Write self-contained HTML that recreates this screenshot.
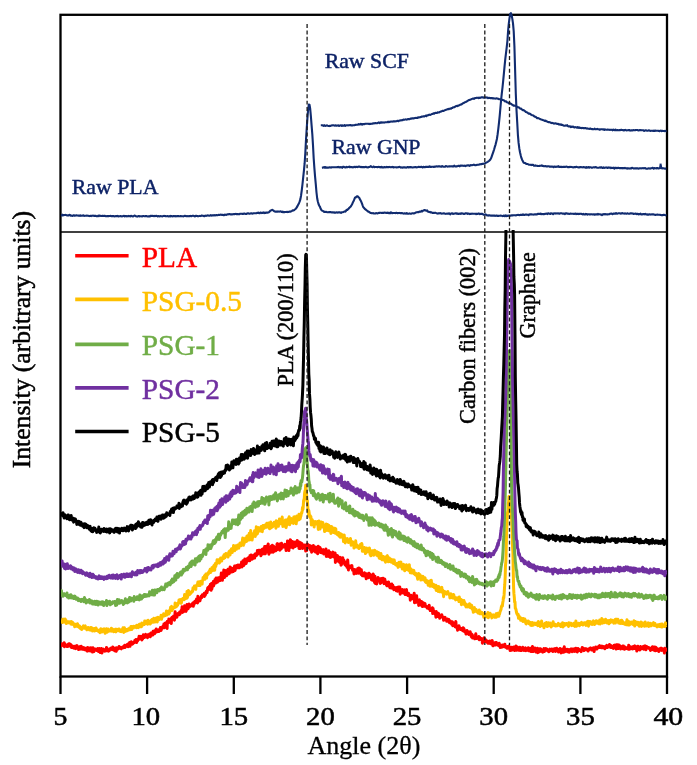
<!DOCTYPE html>
<html><head><meta charset="utf-8"><style>
html,body{margin:0;padding:0;background:#fff;width:697px;height:765px;overflow:hidden}
svg{display:block}
text{font-family:"Liberation Serif",serif}
svg{-webkit-font-smoothing:antialiased;will-change:transform}
</style></head><body>
<svg width="697" height="765" viewBox="0 0 697 765">
<rect x="0" y="0" width="697" height="765" fill="#fff"/>
<defs><clipPath id="bot"><rect x="61" y="230" width="606" height="446"/></clipPath></defs>
<line x1="60.5" y1="232" x2="667" y2="232" stroke="#000" stroke-width="1.6"/>
<rect x="60.5" y="14.8" width="606.5" height="661.7" fill="none" stroke="#000" stroke-width="2.3"/>
<g stroke="#112c70" stroke-width="2.1" fill="none" stroke-linejoin="round">
<path d="M61.0 215.1L61.7 215.4 62.4 214.7 63.1 215.4 63.8 215.1 64.5 215.0 65.2 215.0 65.9 214.9 66.6 215.2 67.3 215.4 68.0 215.4 68.7 215.4 69.4 214.9 70.1 215.0 70.8 215.7 71.5 215.6 72.2 215.9 72.9 215.7 73.6 215.2 74.3 215.7 75.0 215.6 75.7 215.5 76.4 215.3 77.1 215.5 77.8 215.5 78.5 215.8 79.2 215.6 79.9 215.9 80.6 215.4 81.3 215.7 82.0 215.8 82.7 215.5 83.4 215.4 84.1 215.9 84.8 215.8 85.5 215.7 86.2 215.8 86.9 215.6 87.6 215.8 88.3 215.7 89.0 215.9 89.7 216.1 90.4 215.8 91.1 216.1 91.8 215.7 92.5 215.8 93.2 215.6 93.9 215.9 94.6 215.9 95.3 215.9 96.0 215.9 96.7 216.3 97.4 216.3 98.1 215.7 98.8 216.2 99.5 215.6 100.2 215.8 100.9 216.0 101.6 216.0 102.3 215.8 103.0 215.9 103.7 216.0 104.4 215.9 105.1 215.9 105.8 216.2 106.5 216.3 107.2 216.0 107.9 216.1 108.6 216.1 109.3 216.0 110.0 216.0 110.7 215.9 111.4 216.2 112.1 216.1 112.8 216.1 113.5 216.1 114.2 216.2 114.9 216.4 115.6 216.1 116.3 216.0 117.0 216.2 117.7 215.9 118.4 216.4 119.1 216.3 119.8 216.3 120.5 216.1 121.2 216.3 121.9 216.4 122.6 216.3 123.3 216.1 124.0 215.8 124.7 216.4 125.4 216.1 126.1 216.0 126.8 216.4 127.5 216.3 128.2 215.9 128.9 216.2 129.6 216.1 130.3 216.4 131.0 215.8 131.7 216.1 132.4 216.2 133.1 216.5 133.8 216.0 134.5 215.5 135.2 215.9 135.9 216.3 136.6 216.4 137.3 216.6 138.0 216.3 138.7 216.0 139.4 216.4 140.1 216.2 140.8 216.2 141.5 216.2 142.2 216.5 142.9 216.0 143.6 216.0 144.3 216.2 145.0 216.2 145.7 216.0 146.4 216.0 147.1 216.3 147.8 216.5 148.5 216.4 149.2 216.4 149.9 216.5 150.6 215.8 151.3 215.9 152.0 216.0 152.7 215.9 153.4 216.0 154.1 216.2 154.8 215.9 155.5 216.1 156.2 215.8 156.9 216.0 157.6 216.5 158.3 216.1 159.0 216.3 159.7 216.4 160.4 216.1 161.1 216.3 161.8 216.2 162.5 216.4 163.2 216.1 163.9 215.9 164.6 216.0 165.3 216.1 166.0 216.3 166.7 216.2 167.4 216.1 168.1 216.2 168.8 216.4 169.5 216.1 170.2 216.5 170.9 215.9 171.6 216.1 172.3 216.4 173.0 216.3 173.7 216.0 174.4 216.2 175.1 216.0 175.8 216.4 176.5 216.3 177.2 216.0 177.9 216.3 178.6 216.1 179.3 216.2 180.0 216.2 180.7 216.0 181.4 216.3 182.1 216.3 182.8 216.3 183.5 216.4 184.2 216.1 184.9 215.8 185.6 216.0 186.3 216.2 187.0 216.1 187.7 216.3 188.4 216.3 189.1 216.1 189.8 216.1 190.5 215.9 191.2 216.3 191.9 216.0 192.6 215.8 193.3 215.8 194.0 216.0 194.7 216.4 195.4 216.2 196.1 215.7 196.8 216.0 197.5 216.1 198.2 216.2 198.9 216.1 199.6 215.9 200.3 216.1 201.0 215.9 201.7 215.5 202.4 215.8 203.1 215.8 203.8 216.1 204.5 216.1 205.2 215.6 205.9 215.9 206.6 215.8 207.3 215.5 208.0 215.3 208.7 215.7 209.4 215.7 210.1 215.5 210.8 215.0 211.5 215.6 212.2 215.4 212.9 215.3 213.6 215.4 214.3 215.1 215.0 215.5 215.7 215.3 216.4 215.1 217.1 215.3 217.8 215.2 218.5 214.8 219.2 215.0 219.9 214.9 220.6 214.6 221.3 214.8 222.0 215.0 222.7 214.7 223.4 215.1 224.1 215.1 224.8 214.6 225.5 214.8 226.2 215.0 226.9 214.5 227.6 214.3 228.3 214.4 229.0 214.1 229.7 214.1 230.4 214.4 231.1 214.3 231.8 214.4 232.5 214.4 233.2 214.1 233.9 214.2 234.6 214.1 235.3 214.0 236.0 213.9 236.7 214.2 237.4 214.0 238.1 214.1 238.8 214.2 239.5 214.2 240.2 213.7 240.9 213.7 241.6 213.8 242.3 213.9 243.0 214.0 243.7 213.6 244.4 213.6 245.1 213.8 245.8 214.0 246.5 214.0 247.2 213.4 247.9 213.5 248.6 213.4 249.3 213.7 250.0 213.6 250.7 213.4 251.4 213.3 252.1 213.5 252.8 213.6 253.5 213.2 254.2 213.2 254.9 213.3 255.6 213.2 256.3 213.3 257.0 212.9 257.7 213.0 258.4 212.6 259.1 213.1 259.8 213.2 260.5 212.5 261.2 212.8 261.9 213.1 262.6 212.9 263.3 212.4 264.0 213.1 264.7 212.5 265.4 213.0 266.1 212.6 266.8 212.5 267.5 212.6 268.2 212.5 268.9 212.2 269.6 211.6 270.3 210.8 271.0 210.5 271.7 210.0 272.4 209.9 273.1 210.3 273.8 210.9 274.5 211.4 275.2 211.6 275.9 211.6 276.6 211.5 277.3 211.7 278.0 211.4 278.7 211.6 279.4 211.7 280.1 211.3 280.8 211.5 281.5 212.0 282.2 211.6 282.9 212.2 283.6 211.8 284.3 212.3 285.0 212.0 285.7 212.0 286.4 212.0 287.1 211.8 287.8 212.1 288.5 211.9 289.2 211.8 289.9 211.5 290.6 211.6 291.3 211.3 292.0 210.9 292.7 210.4 293.4 210.5 294.1 210.1 294.8 209.5 295.5 209.0 296.2 208.3 296.9 207.1 297.6 205.9 298.3 204.5 299.0 203.2 299.7 201.4 300.4 199.1 301.1 195.2 301.8 190.0 302.5 184.0 303.2 177.4 303.9 170.9 304.6 163.7 305.3 153.2 306.0 139.9 306.7 128.8 307.4 118.4 308.1 109.9 308.8 104.6 309.5 104.8 310.2 108.8 310.9 116.5 311.6 125.4 312.3 134.0 313.0 145.3 313.7 158.5 314.4 168.4 315.1 176.9 315.8 184.4 316.5 192.5 317.2 198.5 317.9 201.8 318.6 204.2 319.3 205.7 320.0 206.9 320.7 208.8 321.4 210.0 322.1 210.6 322.8 210.9 323.5 211.3 324.2 212.0 324.9 211.9 325.6 212.0 326.3 211.8 327.0 212.2 327.7 212.3 328.4 212.3 329.1 212.1 329.8 212.3 330.5 212.0 331.2 212.2 331.9 212.4 332.6 212.2 333.3 212.3 334.0 212.7 334.7 212.4 335.4 212.7 336.1 212.5 336.8 212.3 337.5 212.6 338.2 212.5 338.9 212.2 339.6 212.3 340.3 212.5 341.0 212.9 341.7 212.3 342.4 212.2 343.1 212.2 343.8 211.8 344.5 211.4 345.2 211.6 345.9 211.1 346.6 209.8 347.3 209.9 348.0 209.2 348.7 208.7 349.4 207.7 350.1 207.1 350.8 206.4 351.5 205.3 352.2 204.0 352.9 202.4 353.6 201.0 354.3 199.4 355.0 197.5 355.7 197.5 356.4 196.6 357.1 196.3 357.8 196.3 358.5 197.3 359.2 197.7 359.9 199.3 360.6 200.3 361.3 201.9 362.0 203.7 362.7 205.6 363.4 207.3 364.1 208.0 364.8 208.9 365.5 209.5 366.2 209.9 366.9 210.6 367.6 211.0 368.3 211.7 369.0 211.7 369.7 212.4 370.4 212.9 371.1 213.1 371.8 213.3 372.5 213.3 373.2 213.1 373.9 213.5 374.6 213.5 375.3 213.5 376.0 213.1 376.7 213.3 377.4 213.4 378.1 213.2 378.8 212.8 379.5 212.9 380.2 212.8 380.9 212.8 381.6 213.0 382.3 212.9 383.0 212.8 383.7 212.9 384.4 212.6 385.1 212.6 385.8 212.9 386.5 212.7 387.2 213.0 387.9 212.5 388.6 213.1 389.3 212.9 390.0 213.3 390.7 212.4 391.4 212.5 392.1 213.2 392.8 213.0 393.5 213.0 394.2 213.0 394.9 213.0 395.6 213.1 396.3 212.8 397.0 213.0 397.7 213.3 398.4 213.1 399.1 212.9 399.8 213.1 400.5 213.3 401.2 213.1 401.9 213.1 402.6 213.3 403.3 213.5 404.0 213.6 404.7 213.3 405.4 213.5 406.1 213.7 406.8 213.1 407.5 213.6 408.2 213.7 408.9 213.6 409.6 213.4 410.3 213.7 411.0 213.8 411.7 213.5 412.4 213.3 413.1 213.3 413.8 213.5 414.5 213.3 415.2 212.9 415.9 212.5 416.6 212.3 417.3 212.3 418.0 212.1 418.7 212.1 419.4 211.6 420.1 211.7 420.8 211.6 421.5 210.9 422.2 211.5 422.9 210.8 423.6 210.6 424.3 210.1 425.0 210.1 425.7 210.6 426.4 210.8 427.1 210.4 427.8 211.6 428.5 211.8 429.2 212.1 429.9 211.9 430.6 212.4 431.3 212.3 432.0 212.6 432.7 213.0 433.4 212.9 434.1 213.0 434.8 212.8 435.5 212.8 436.2 213.1 436.9 213.4 437.6 213.6 438.3 213.3 439.0 213.4 439.7 213.3 440.4 213.1 441.1 213.5 441.8 213.6 442.5 213.5 443.2 213.5 443.9 213.2 444.6 213.6 445.3 213.9 446.0 213.6 446.7 213.7 447.4 213.7 448.1 213.4 448.8 213.7 449.5 213.4 450.2 214.3 450.9 213.7 451.6 213.4 452.3 213.3 453.0 213.9 453.7 213.7 454.4 213.7 455.1 213.3 455.8 213.5 456.5 213.3 457.2 213.9 457.9 213.5 458.6 214.0 459.3 213.7 460.0 213.5 460.7 213.9 461.4 213.2 462.1 213.4 462.8 213.5 463.5 213.9 464.2 213.9 464.9 213.7 465.6 213.2 466.3 213.5 467.0 213.4 467.7 213.9 468.4 213.6 469.1 213.8 469.8 214.1 470.5 213.7 471.2 213.9 471.9 213.6 472.6 213.7 473.3 213.8 474.0 213.8 474.7 213.8 475.4 213.7 476.1 214.2 476.8 213.7 477.5 213.9 478.2 213.8 478.9 213.4 479.6 214.1 480.3 214.0 481.0 213.7 481.7 213.9 482.4 213.8 483.1 214.3 483.8 214.8 484.5 214.8 485.2 214.4 485.9 214.5 486.6 215.1 487.3 215.5 488.0 215.3 488.7 215.6 489.4 215.2 490.1 215.5 490.8 215.6 491.5 215.5 492.2 215.6 492.9 215.8 493.6 215.5 494.3 215.5 495.0 215.9 495.7 215.8 496.4 215.5 497.1 215.9 497.8 215.7 498.5 215.9 499.2 215.8 499.9 215.7 500.6 215.6 501.3 215.8 502.0 215.8 502.7 216.2 503.4 215.8 504.1 215.5 504.8 216.2 505.5 215.3 506.2 216.1 506.9 215.5 507.6 216.0 508.3 215.6 509.0 215.7 509.7 215.6 510.4 215.5 511.1 215.6 511.8 215.3 512.5 215.5 513.2 215.2 513.9 215.2 514.6 215.2 515.3 215.3 516.0 215.5 516.7 215.0 517.4 215.0 518.1 214.9 518.8 215.0 519.5 215.2 520.2 214.8 520.9 214.9 521.6 214.8 522.3 214.9 523.0 214.4 523.7 214.9 524.4 215.0 525.1 214.5 525.8 214.7 526.5 214.5 527.2 214.8 527.9 214.7 528.6 215.2 529.3 214.5 530.0 214.3 530.7 214.4 531.4 214.2 532.1 214.5 532.8 214.5 533.5 214.6 534.2 214.4 534.9 214.2 535.6 214.5 536.3 214.3 537.0 214.4 537.7 213.9 538.4 213.9 539.1 213.9 539.8 214.0 540.5 213.5 541.2 214.2 541.9 213.9 542.6 214.1 543.3 214.1 544.0 214.2 544.7 213.9 545.4 213.9 546.1 213.6 546.8 213.8 547.5 214.1 548.2 213.3 548.9 213.5 549.6 213.7 550.3 214.0 551.0 213.3 551.7 213.5 552.4 213.6 553.1 214.2 553.8 213.3 554.5 213.4 555.2 213.6 555.9 213.3 556.6 213.5 557.3 213.5 558.0 213.3 558.7 213.5 559.4 213.8 560.1 213.4 560.8 213.3 561.5 213.3 562.2 213.5 562.9 213.7 563.6 213.5 564.3 213.5 565.0 214.1 565.7 213.3 566.4 213.3 567.1 213.6 567.8 213.5 568.5 213.7 569.2 213.9 569.9 213.7 570.6 213.6 571.3 213.8 572.0 213.8 572.7 213.7 573.4 213.7 574.1 214.0 574.8 213.8 575.5 213.6 576.2 214.1 576.9 213.8 577.6 213.8 578.3 214.1 579.0 213.8 579.7 214.0 580.4 213.8 581.1 213.7 581.8 214.1 582.5 214.4 583.2 213.9 583.9 214.4 584.6 214.4 585.3 214.5 586.0 213.9 586.7 214.1 587.4 214.6 588.1 214.2 588.8 214.2 589.5 214.4 590.2 214.4 590.9 214.2 591.6 214.3 592.3 214.5 593.0 214.4 593.7 214.2 594.4 214.7 595.1 214.6 595.8 214.3 596.5 214.3 597.2 214.6 597.9 213.9 598.6 214.4 599.3 214.3 600.0 214.3 600.7 214.6 601.4 214.5 602.1 215.1 602.8 214.3 603.5 214.4 604.2 214.0 604.9 214.5 605.6 214.1 606.3 214.2 607.0 214.4 607.7 214.4 608.4 214.2 609.1 214.3 609.8 213.8 610.5 213.7 611.2 213.5 611.9 213.9 612.6 214.2 613.3 213.6 614.0 213.6 614.7 213.5 615.4 213.7 616.1 213.1 616.8 213.7 617.5 213.7 618.2 213.3 618.9 213.2 619.6 213.2 620.3 213.5 621.0 213.7 621.7 213.2 622.4 213.1 623.1 213.5 623.8 213.5 624.5 213.6 625.2 213.3 625.9 213.7 626.6 213.8 627.3 213.2 628.0 213.5 628.7 213.7 629.4 213.8 630.1 213.5 630.8 213.2 631.5 213.5 632.2 213.4 632.9 213.6 633.6 214.0 634.3 213.7 635.0 213.8 635.7 213.6 636.4 214.1 637.1 213.8 637.8 213.7 638.5 214.4 639.2 214.1 639.9 214.2 640.6 213.6 641.3 214.4 642.0 214.5 642.7 214.1 643.4 214.1 644.1 214.0 644.8 214.4 645.5 213.9 646.2 214.3 646.9 214.7 647.6 214.3 648.3 214.8 649.0 214.4 649.7 214.3 650.4 214.6 651.1 214.4 651.8 214.5 652.5 214.4 653.2 214.3 653.9 214.5 654.6 214.8 655.3 214.9 656.0 214.7 656.7 214.8 657.4 214.5 658.1 214.7 658.8 214.8 659.5 214.8 660.2 214.9 660.9 215.0 661.6 215.2 662.3 215.1 663.0 215.1 663.7 214.8 664.4 214.9 665.1 215.1 665.8 215.2 666.5 215.4"/>
<path d="M320.8 125.3L321.5 125.3 322.2 125.3 322.9 125.5 323.6 125.9 324.3 125.2 325.0 125.8 325.7 125.9 326.4 125.5 327.1 125.4 327.8 125.7 328.5 125.9 329.2 126.1 329.9 125.8 330.6 126.0 331.3 125.5 332.0 125.4 332.7 125.2 333.4 125.3 334.1 125.5 334.8 125.6 335.5 125.3 336.2 125.8 336.9 125.6 337.6 125.5 338.3 125.4 339.0 126.0 339.7 125.6 340.4 125.4 341.1 125.4 341.8 126.0 342.5 125.4 343.2 125.8 343.9 125.8 344.6 125.0 345.3 125.8 346.0 125.4 346.7 125.2 347.4 125.2 348.1 125.4 348.8 125.3 349.5 125.3 350.2 125.0 350.9 125.4 351.6 125.4 352.3 125.4 353.0 125.2 353.7 125.3 354.4 125.3 355.1 124.9 355.8 124.9 356.5 124.8 357.2 124.7 357.9 124.7 358.6 124.1 359.3 124.4 360.0 124.5 360.7 123.9 361.4 124.0 362.1 124.6 362.8 124.0 363.5 124.1 364.2 124.2 364.9 123.9 365.6 123.8 366.3 123.8 367.0 123.8 367.7 123.7 368.4 123.8 369.1 124.1 369.8 123.8 370.5 124.0 371.2 123.7 371.9 123.7 372.6 123.6 373.3 123.3 374.0 123.4 374.7 123.3 375.4 123.0 376.1 123.3 376.8 123.2 377.5 123.1 378.2 122.8 378.9 122.3 379.6 123.2 380.3 122.8 381.0 122.2 381.7 122.8 382.4 122.4 383.1 122.6 383.8 122.4 384.5 122.6 385.2 122.3 385.9 122.3 386.6 122.2 387.3 122.3 388.0 121.7 388.7 122.2 389.4 122.0 390.1 121.6 390.8 121.7 391.5 121.5 392.2 121.5 392.9 121.6 393.6 121.2 394.3 121.4 395.0 121.4 395.7 121.2 396.4 121.3 397.1 120.9 397.8 120.9 398.5 121.2 399.2 120.6 399.9 120.5 400.6 120.4 401.3 120.4 402.0 120.1 402.7 120.1 403.4 119.6 404.1 119.7 404.8 119.6 405.5 119.4 406.2 119.5 406.9 119.6 407.6 119.3 408.3 119.0 409.0 119.2 409.7 119.1 410.4 118.6 411.1 118.8 411.8 118.4 412.5 118.4 413.2 118.3 413.9 118.5 414.6 118.0 415.3 118.0 416.0 117.9 416.7 118.0 417.4 117.9 418.1 117.3 418.8 117.6 419.5 117.3 420.2 117.3 420.9 117.1 421.6 116.6 422.3 116.6 423.0 116.4 423.7 116.4 424.4 116.5 425.1 116.0 425.8 115.6 426.5 116.2 427.2 115.2 427.9 115.2 428.6 115.1 429.3 114.6 430.0 114.9 430.7 114.7 431.4 114.3 432.1 114.1 432.8 113.9 433.5 113.3 434.2 113.6 434.9 113.0 435.6 112.9 436.3 113.0 437.0 112.9 437.7 112.3 438.4 112.5 439.1 112.5 439.8 111.9 440.5 111.6 441.2 111.5 441.9 111.1 442.6 110.8 443.3 110.9 444.0 110.7 444.7 110.3 445.4 110.1 446.1 109.8 446.8 109.6 447.5 109.3 448.2 108.9 448.9 109.2 449.6 108.7 450.3 108.6 451.0 108.7 451.7 108.0 452.4 108.0 453.1 107.3 453.8 107.2 454.5 107.2 455.2 106.7 455.9 106.2 456.6 105.9 457.3 106.1 458.0 105.5 458.7 105.6 459.4 105.2 460.1 104.8 460.8 104.5 461.5 104.4 462.2 103.8 462.9 103.3 463.6 103.1 464.3 102.6 465.0 102.2 465.7 102.0 466.4 101.6 467.1 101.3 467.8 100.7 468.5 100.3 469.2 100.0 469.9 99.9 470.6 99.4 471.3 99.2 472.0 98.9 472.7 98.6 473.4 98.5 474.1 98.9 474.8 98.1 475.5 98.1 476.2 97.9 476.9 97.8 477.6 97.8 478.3 98.1 479.0 97.6 479.7 98.0 480.4 97.7 481.1 97.4 481.8 97.4 482.5 97.4 483.2 97.3 483.9 97.8 484.6 97.6 485.3 97.6 486.0 97.3 486.7 97.7 487.4 97.5 488.1 98.2 488.8 97.8 489.5 97.9 490.2 98.1 490.9 98.0 491.6 98.1 492.3 98.1 493.0 98.5 493.7 98.2 494.4 98.4 495.1 98.6 495.8 98.5 496.5 98.4 497.2 98.5 497.9 98.8 498.6 98.8 499.3 99.3 500.0 99.2 500.7 99.3 501.4 99.3 502.1 99.9 502.8 100.0 503.5 100.2 504.2 100.5 504.9 101.5 505.6 101.2 506.3 101.5 507.0 102.3 507.7 102.6 508.4 102.8 509.1 103.5 509.8 103.2 510.5 103.7 511.2 103.8 511.9 104.7 512.6 104.8 513.3 105.6 514.0 105.5 514.7 105.8 515.4 105.8 516.1 106.1 516.8 106.6 517.5 107.2 518.2 107.2 518.9 107.2 519.6 108.3 520.3 108.6 521.0 108.6 521.7 109.3 522.4 109.9 523.1 110.3 523.8 110.1 524.5 110.9 525.2 111.2 525.9 112.0 526.6 112.2 527.3 112.4 528.0 113.1 528.7 113.6 529.4 113.5 530.1 113.9 530.8 114.5 531.5 114.9 532.2 115.2 532.9 115.3 533.6 115.7 534.3 116.4 535.0 116.8 535.7 116.9 536.4 117.5 537.1 118.1 537.8 118.0 538.5 118.3 539.2 118.5 539.9 119.0 540.6 119.3 541.3 119.5 542.0 119.7 542.7 120.1 543.4 120.3 544.1 120.5 544.8 121.0 545.5 120.6 546.2 121.3 546.9 121.4 547.6 121.8 548.3 122.2 549.0 122.0 549.7 122.2 550.4 122.4 551.1 122.9 551.8 123.1 552.5 122.9 553.2 123.2 553.9 123.6 554.6 123.5 555.3 123.2 556.0 123.4 556.7 123.7 557.4 124.0 558.1 123.9 558.8 124.5 559.5 124.2 560.2 124.8 560.9 124.4 561.6 125.0 562.3 124.9 563.0 125.3 563.7 125.6 564.4 125.7 565.1 125.7 565.8 125.4 566.5 125.6 567.2 125.2 567.9 126.3 568.6 126.4 569.3 126.5 570.0 126.2 570.7 127.1 571.4 126.5 572.1 127.0 572.8 126.5 573.5 126.9 574.2 127.4 574.9 127.4 575.6 127.1 576.3 127.4 577.0 127.7 577.7 127.1 578.4 127.8 579.1 127.4 579.8 127.9 580.5 127.8 581.2 128.2 581.9 127.9 582.6 128.0 583.3 128.1 584.0 128.0 584.7 128.2 585.4 128.1 586.1 128.3 586.8 128.6 587.5 128.4 588.2 128.8 588.9 128.8 589.6 128.9 590.3 128.5 591.0 128.9 591.7 129.1 592.4 129.1 593.1 129.2 593.8 129.3 594.5 128.7 595.2 129.2 595.9 129.2 596.6 129.1 597.3 128.9 598.0 129.3 598.7 129.2 599.4 129.7 600.1 129.6 600.8 129.3 601.5 129.2 602.2 129.3 602.9 129.5 603.6 129.4 604.3 130.0 605.0 129.4 605.7 129.6 606.4 129.7 607.1 129.8 607.8 129.5 608.5 129.7 609.2 129.8 609.9 129.9 610.6 129.7 611.3 129.8 612.0 129.9 612.7 130.3 613.4 129.6 614.1 130.1 614.8 130.3 615.5 129.6 616.2 130.3 616.9 130.3 617.6 130.0 618.3 130.2 619.0 130.3 619.7 130.0 620.4 130.1 621.1 129.8 621.8 129.9 622.5 130.1 623.2 130.1 623.9 130.5 624.6 130.1 625.3 129.9 626.0 130.3 626.7 130.4 627.4 130.3 628.1 130.2 628.8 130.0 629.5 130.1 630.2 130.6 630.9 130.4 631.6 130.3 632.3 130.4 633.0 130.2 633.7 130.1 634.4 130.2 635.1 130.3 635.8 130.0 636.5 130.0 637.2 130.0 637.9 130.3 638.6 130.5 639.3 130.1 640.0 130.2 640.7 130.1 641.4 130.3 642.1 130.2 642.8 130.3 643.5 130.2 644.2 131.0 644.9 130.5 645.6 130.4 646.3 130.4 647.0 130.7 647.7 130.8 648.4 130.6 649.1 130.2 649.8 130.8 650.5 130.9 651.2 130.8 651.9 130.8 652.6 130.7 653.3 131.0 654.0 130.6 654.7 131.0 655.4 130.6 656.1 130.7 656.8 130.7 657.5 130.7 658.2 130.7 658.9 131.0 659.6 131.2 660.3 130.7 661.0 130.6 661.7 131.2 662.4 130.8 663.1 131.0 663.8 131.0 664.5 131.1 665.2 130.8 665.9 131.2 666.6 131.2"/>
<path d="M321.9 167.7L322.6 167.6 323.3 167.5 324.0 167.0 324.7 167.6 325.4 167.0 326.1 167.7 326.8 167.6 327.5 167.6 328.2 167.6 328.9 167.5 329.6 167.3 330.3 167.3 331.0 167.7 331.7 167.2 332.4 167.3 333.1 167.2 333.8 167.2 334.5 167.2 335.2 167.3 335.9 167.2 336.6 167.2 337.3 167.1 338.0 167.2 338.7 166.9 339.4 167.2 340.1 167.5 340.8 167.0 341.5 167.2 342.2 167.8 342.9 166.9 343.6 166.8 344.3 167.0 345.0 167.5 345.7 167.5 346.4 166.8 347.1 167.2 347.8 167.1 348.5 166.9 349.2 166.6 349.9 167.3 350.6 166.9 351.3 167.1 352.0 167.1 352.7 167.4 353.4 167.3 354.1 166.8 354.8 167.0 355.5 167.2 356.2 166.7 356.9 166.9 357.6 167.1 358.3 166.6 359.0 166.7 359.7 166.6 360.4 167.1 361.1 166.9 361.8 167.2 362.5 167.0 363.2 167.1 363.9 167.0 364.6 167.2 365.3 167.0 366.0 166.8 366.7 167.3 367.4 167.2 368.1 167.5 368.8 167.0 369.5 166.9 370.2 166.7 370.9 166.2 371.6 166.8 372.3 167.2 373.0 166.9 373.7 166.5 374.4 167.2 375.1 167.0 375.8 167.0 376.5 167.0 377.2 167.1 377.9 167.2 378.6 166.8 379.3 167.1 380.0 167.0 380.7 167.4 381.4 166.9 382.1 167.5 382.8 167.3 383.5 167.5 384.2 167.0 384.9 167.4 385.6 167.3 386.3 166.9 387.0 167.2 387.7 167.1 388.4 167.0 389.1 167.1 389.8 166.9 390.5 167.2 391.2 167.3 391.9 167.1 392.6 166.9 393.3 167.5 394.0 167.2 394.7 167.3 395.4 167.2 396.1 167.2 396.8 167.4 397.5 167.2 398.2 167.3 398.9 167.0 399.6 166.9 400.3 167.2 401.0 167.7 401.7 167.3 402.4 167.7 403.1 167.4 403.8 167.4 404.5 167.2 405.2 167.3 405.9 167.7 406.6 167.5 407.3 167.1 408.0 167.1 408.7 167.5 409.4 167.1 410.1 167.4 410.8 167.0 411.5 167.3 412.2 167.5 412.9 167.4 413.6 167.2 414.3 167.2 415.0 167.1 415.7 167.1 416.4 167.4 417.1 167.3 417.8 167.2 418.5 166.8 419.2 166.9 419.9 167.1 420.6 167.0 421.3 166.7 422.0 167.1 422.7 167.5 423.4 166.7 424.1 166.9 424.8 167.3 425.5 166.8 426.2 166.8 426.9 166.9 427.6 167.0 428.3 166.7 429.0 167.0 429.7 166.4 430.4 166.9 431.1 166.9 431.8 166.7 432.5 166.8 433.2 166.7 433.9 167.0 434.6 166.6 435.3 166.7 436.0 166.4 436.7 166.4 437.4 166.6 438.1 166.3 438.8 166.4 439.5 166.3 440.2 166.5 440.9 166.6 441.6 166.8 442.3 166.1 443.0 166.5 443.7 166.7 444.4 166.8 445.1 166.8 445.8 166.1 446.5 166.3 447.2 166.5 447.9 166.6 448.6 166.4 449.3 166.4 450.0 166.4 450.7 166.2 451.4 166.3 452.1 166.5 452.8 166.2 453.5 166.5 454.2 165.6 454.9 166.1 455.6 166.5 456.3 166.3 457.0 166.4 457.7 166.1 458.4 165.8 459.1 165.9 459.8 166.3 460.5 165.6 461.2 165.7 461.9 165.5 462.6 165.8 463.3 165.8 464.0 165.9 464.7 165.6 465.4 166.1 466.1 165.8 466.8 165.5 467.5 165.4 468.2 165.2 468.9 165.5 469.6 165.9 470.3 165.3 471.0 165.1 471.7 165.2 472.4 165.1 473.1 164.9 473.8 164.6 474.5 165.0 475.2 165.2 475.9 165.1 476.6 165.0 477.3 164.7 478.0 164.7 478.7 164.7 479.4 164.4 480.1 164.4 480.8 164.1 481.5 164.3 482.2 163.7 482.9 163.9 483.6 163.8 484.3 163.6 485.0 163.4 485.7 162.9 486.4 162.6 487.1 162.2 487.8 161.8 488.5 161.2 489.2 160.8 489.9 160.1 490.6 159.1 491.3 157.8 492.0 155.6 492.7 153.6 493.4 151.6 494.1 149.5 494.8 146.9 495.5 144.8 496.2 141.9 496.9 139.0 497.6 134.4 498.3 128.9 499.0 122.6 499.7 115.9 500.4 108.0 501.1 100.0 501.8 93.4 502.5 87.5 503.2 80.7 503.9 73.3 504.6 65.9 505.3 58.8 506.0 53.1 506.7 47.4 507.4 41.0 508.1 30.9 508.8 23.7 509.5 18.1 510.2 14.0 510.9 13.1 511.6 15.0 512.3 18.6 513.0 23.4 513.7 31.0 514.4 45.8 515.1 69.7 515.8 93.8 516.5 110.0 517.2 122.0 517.9 134.9 518.6 142.9 519.3 148.4 520.0 152.2 520.7 155.3 521.4 157.9 522.1 159.7 522.8 161.1 523.5 162.4 524.2 163.0 524.9 163.0 525.6 163.3 526.3 164.0 527.0 164.0 527.7 164.0 528.4 164.5 529.1 164.7 529.8 164.7 530.5 164.7 531.2 165.1 531.9 164.8 532.6 164.9 533.3 164.9 534.0 165.7 534.7 165.8 535.4 165.4 536.1 165.7 536.8 165.7 537.5 165.9 538.2 166.0 538.9 166.0 539.6 165.9 540.3 165.8 541.0 165.7 541.7 165.4 542.4 166.0 543.1 165.9 543.8 166.2 544.5 166.2 545.2 166.0 545.9 166.2 546.6 166.4 547.3 166.4 548.0 166.2 548.7 166.2 549.4 166.6 550.1 166.5 550.8 166.6 551.5 166.5 552.2 166.7 552.9 166.6 553.6 167.2 554.3 166.5 555.0 166.5 555.7 167.0 556.4 166.7 557.1 166.5 557.8 166.8 558.5 166.2 559.2 166.9 559.9 166.8 560.6 166.9 561.3 166.7 562.0 167.1 562.7 166.9 563.4 166.9 564.1 167.0 564.8 166.7 565.5 166.9 566.2 166.6 566.9 166.7 567.6 167.1 568.3 167.0 569.0 167.2 569.7 166.9 570.4 167.0 571.1 166.9 571.8 167.1 572.5 167.3 573.2 167.4 573.9 167.3 574.6 167.0 575.3 167.2 576.0 166.9 576.7 166.8 577.4 167.2 578.1 167.2 578.8 167.4 579.5 167.4 580.2 167.0 580.9 167.1 581.6 167.3 582.3 167.3 583.0 167.4 583.7 167.0 584.4 167.3 585.1 167.5 585.8 167.8 586.5 167.1 587.2 167.7 587.9 167.3 588.6 167.1 589.3 167.7 590.0 167.2 590.7 167.2 591.4 167.6 592.1 167.7 592.8 167.5 593.5 167.3 594.2 167.2 594.9 167.5 595.6 167.0 596.3 167.2 597.0 167.8 597.7 167.7 598.4 167.8 599.1 167.7 599.8 167.3 600.5 167.7 601.2 167.2 601.9 167.8 602.6 167.9 603.3 167.4 604.0 167.9 604.7 167.7 605.4 167.7 606.1 167.3 606.8 167.7 607.5 167.9 608.2 167.4 608.9 167.7 609.6 167.6 610.3 167.5 611.0 168.1 611.7 167.8 612.4 167.9 613.1 168.1 613.8 167.7 614.5 168.6 615.2 167.8 615.9 167.7 616.6 168.1 617.3 168.1 618.0 167.8 618.7 167.8 619.4 168.2 620.1 168.1 620.8 168.1 621.5 168.3 622.2 168.0 622.9 168.4 623.6 168.1 624.3 168.3 625.0 167.9 625.7 168.3 626.4 168.2 627.1 168.7 627.8 168.2 628.5 168.5 629.2 168.4 629.9 168.6 630.6 168.3 631.3 168.4 632.0 167.8 632.7 168.0 633.4 168.5 634.1 168.4 634.8 168.5 635.5 168.2 636.2 168.5 636.9 168.2 637.6 168.3 638.3 168.6 639.0 168.5 639.7 168.2 640.4 168.3 641.1 168.4 641.8 168.3 642.5 168.3 643.2 168.1 643.9 168.4 644.6 168.1 645.3 168.1 646.0 168.6 646.7 168.7 647.4 168.7 648.1 168.4 648.8 168.2 649.5 168.5 650.2 168.6 650.9 168.3 651.6 168.2 652.3 167.9 653.0 167.9 653.7 168.7 654.4 168.0 655.1 168.2 655.8 168.2 656.5 168.4 657.2 168.0 657.9 168.4 658.6 168.4 659.3 168.3 660.0 168.2 660.7 165.8 661.4 167.9 662.1 168.5 662.8 168.3 663.5 168.2 664.2 168.5 664.9 168.6 665.6 168.6 666.3 168.6"/>
<path d="M660.6 168.4L660.6 163.6"/>
</g>
<g clip-path="url(#bot)">
<path d="M61.0 644.2L61.4 645.9 61.7 645.8 62.1 643.8 62.4 644.1 62.8 643.9 63.1 645.3 63.5 644.6 63.8 645.6 64.2 642.7 64.5 646.8 64.9 644.9 65.2 645.9 65.6 645.0 65.9 644.8 66.3 645.8 66.6 646.3 67.0 645.2 67.3 645.4 67.7 646.4 68.0 644.7 68.4 644.0 68.7 646.3 69.1 645.2 69.4 643.8 69.8 645.1 70.1 645.6 70.5 644.9 70.8 644.6 71.2 646.5 71.5 647.5 71.9 646.3 72.2 645.8 72.6 647.2 72.9 647.6 73.3 646.5 73.6 647.6 74.0 648.2 74.3 646.9 74.7 646.2 75.0 647.6 75.4 647.6 75.7 648.6 76.1 646.0 76.4 646.8 76.8 646.6 77.1 645.6 77.5 647.8 77.8 648.4 78.2 647.0 78.5 649.5 78.9 648.9 79.2 648.7 79.6 648.5 79.9 649.2 80.3 646.6 80.6 648.9 81.0 648.9 81.3 646.3 81.7 648.7 82.0 648.1 82.4 649.3 82.7 648.0 83.1 648.5 83.4 649.0 83.8 647.6 84.1 649.4 84.5 648.6 84.8 649.3 85.2 648.2 85.5 650.1 85.9 649.6 86.2 648.8 86.6 649.7 86.9 650.5 87.3 651.1 87.6 647.4 88.0 650.2 88.3 649.8 88.7 649.2 89.0 648.2 89.4 650.8 89.7 648.0 90.1 650.1 90.4 651.0 90.8 647.7 91.1 649.2 91.5 648.1 91.8 649.9 92.2 651.4 92.5 652.0 92.9 647.7 93.2 649.1 93.6 650.6 93.9 651.6 94.3 650.3 94.6 649.0 95.0 650.2 95.3 649.9 95.7 649.7 96.0 649.2 96.4 650.4 96.7 650.4 97.1 649.9 97.4 649.8 97.8 648.6 98.1 649.5 98.5 651.4 98.8 649.9 99.2 648.5 99.5 651.6 99.9 650.7 100.2 652.5 100.6 650.2 100.9 649.6 101.3 648.5 101.6 651.6 102.0 653.0 102.3 649.1 102.7 649.3 103.0 650.7 103.4 649.1 103.7 649.7 104.1 649.6 104.4 650.2 104.8 651.2 105.1 650.0 105.5 650.9 105.8 649.4 106.2 650.2 106.5 647.4 106.9 648.2 107.2 650.7 107.6 649.1 107.9 650.4 108.3 650.3 108.6 651.1 109.0 650.5 109.3 650.7 109.7 649.4 110.0 648.7 110.4 648.6 110.7 648.9 111.1 648.1 111.4 648.7 111.8 649.2 112.1 649.6 112.5 648.8 112.8 647.0 113.2 649.0 113.5 649.3 113.9 650.3 114.2 649.6 114.6 648.2 114.9 648.1 115.3 651.1 115.6 649.7 116.0 650.8 116.3 651.1 116.7 647.7 117.0 649.0 117.4 649.0 117.7 649.1 118.1 649.0 118.4 648.6 118.8 648.5 119.1 646.5 119.5 648.0 119.8 647.3 120.2 648.2 120.5 647.5 120.9 648.6 121.2 648.8 121.6 648.1 121.9 648.0 122.3 647.7 122.6 647.0 123.0 647.2 123.3 646.7 123.7 647.6 124.0 647.0 124.4 647.5 124.7 645.2 125.1 647.6 125.4 645.6 125.8 645.4 126.1 645.9 126.5 645.3 126.8 646.2 127.2 645.0 127.5 644.2 127.9 644.3 128.2 646.7 128.6 645.0 128.9 643.4 129.3 644.6 129.6 642.5 130.0 646.3 130.3 642.2 130.7 644.4 131.0 644.3 131.4 641.7 131.7 643.6 132.1 644.2 132.4 643.4 132.8 642.9 133.1 643.6 133.5 642.4 133.8 642.4 134.2 641.7 134.5 642.4 134.9 640.3 135.2 642.2 135.6 640.4 135.9 639.5 136.3 641.1 136.6 642.5 137.0 641.4 137.3 639.4 137.7 640.7 138.0 639.1 138.4 639.4 138.7 639.4 139.1 636.3 139.4 639.2 139.8 637.5 140.1 637.8 140.5 636.7 140.8 636.4 141.2 637.0 141.5 639.0 141.9 639.9 142.2 637.7 142.6 638.9 142.9 637.0 143.3 634.8 143.6 637.3 144.0 637.5 144.3 636.2 144.7 637.0 145.0 637.2 145.4 635.2 145.7 634.3 146.1 635.7 146.4 635.6 146.8 635.3 147.1 636.8 147.5 637.6 147.8 634.7 148.2 636.0 148.5 636.2 148.9 635.7 149.2 636.0 149.6 634.0 149.9 635.3 150.3 636.8 150.6 635.1 151.0 633.1 151.3 634.5 151.7 635.2 152.0 633.9 152.4 632.5 152.7 635.1 153.1 631.3 153.4 633.4 153.8 632.6 154.1 630.9 154.5 633.8 154.8 632.5 155.2 630.4 155.5 632.5 155.9 631.0 156.2 628.9 156.6 630.3 156.9 631.3 157.3 631.6 157.6 630.8 158.0 630.5 158.3 630.8 158.7 629.7 159.0 631.4 159.4 629.8 159.7 629.8 160.1 629.9 160.4 627.5 160.8 627.8 161.1 630.5 161.5 628.7 161.8 627.6 162.2 628.2 162.5 626.8 162.9 627.5 163.2 626.0 163.6 627.0 163.9 624.1 164.3 627.8 164.6 625.0 165.0 623.2 165.3 624.7 165.7 624.2 166.0 624.6 166.4 622.5 166.7 624.3 167.1 628.4 167.4 621.3 167.8 623.2 168.1 621.9 168.5 622.3 168.8 619.1 169.2 619.7 169.5 621.7 169.9 620.6 170.2 622.6 170.6 619.0 170.9 619.9 171.3 623.5 171.6 617.9 172.0 617.3 172.3 618.2 172.7 617.9 173.0 618.8 173.4 617.5 173.7 615.9 174.1 617.0 174.4 620.2 174.8 617.9 175.1 611.7 175.5 615.2 175.8 613.9 176.2 615.8 176.5 614.3 176.9 617.2 177.2 615.5 177.6 615.1 177.9 613.8 178.3 613.3 178.6 613.6 179.0 614.8 179.3 613.5 179.7 612.0 180.0 614.2 180.4 612.4 180.7 611.8 181.1 610.5 181.4 610.6 181.8 610.3 182.1 606.8 182.5 612.4 182.8 611.4 183.2 610.0 183.5 611.7 183.9 610.6 184.2 610.3 184.6 605.7 184.9 608.9 185.3 609.8 185.6 611.3 186.0 611.4 186.3 610.5 186.7 606.3 187.0 604.5 187.4 608.5 187.7 607.4 188.1 608.7 188.4 606.7 188.8 607.0 189.1 604.1 189.5 606.9 189.8 605.3 190.2 606.3 190.5 606.2 190.9 605.1 191.2 605.5 191.6 604.7 191.9 605.7 192.3 605.1 192.6 603.2 193.0 602.8 193.3 606.3 193.7 603.1 194.0 604.6 194.4 603.4 194.7 601.6 195.1 601.0 195.4 602.2 195.8 602.1 196.1 602.4 196.5 599.1 196.8 599.9 197.2 600.5 197.5 602.9 197.9 596.2 198.2 600.5 198.6 598.6 198.9 599.9 199.3 598.1 199.6 599.2 200.0 600.9 200.3 598.6 200.7 598.5 201.0 598.0 201.4 595.9 201.7 597.7 202.1 596.1 202.4 594.8 202.8 595.7 203.1 595.0 203.5 596.3 203.8 594.6 204.2 593.4 204.5 596.4 204.9 595.2 205.2 595.3 205.6 593.8 205.9 592.2 206.3 591.3 206.6 591.1 207.0 592.8 207.3 591.0 207.7 587.9 208.0 590.0 208.4 587.2 208.7 589.5 209.1 586.7 209.4 586.2 209.8 588.2 210.1 587.5 210.5 584.3 210.8 588.1 211.2 590.2 211.5 583.4 211.9 588.8 212.2 584.0 212.6 583.9 212.9 584.1 213.3 581.4 213.6 585.9 214.0 584.1 214.3 581.5 214.7 582.0 215.0 579.4 215.4 581.1 215.7 583.1 216.1 577.9 216.4 579.9 216.8 580.6 217.1 581.9 217.5 582.1 217.8 578.5 218.2 577.7 218.5 579.6 218.9 577.8 219.2 577.6 219.6 579.8 219.9 580.7 220.3 577.8 220.6 576.7 221.0 577.8 221.3 573.0 221.7 576.2 222.0 574.1 222.4 580.3 222.7 576.9 223.1 575.6 223.4 574.7 223.8 570.1 224.1 576.0 224.5 577.5 224.8 572.8 225.2 575.2 225.5 575.1 225.9 570.6 226.2 575.1 226.6 575.7 226.9 573.3 227.3 572.6 227.6 574.0 228.0 569.3 228.3 572.2 228.7 573.9 229.0 569.3 229.4 573.4 229.7 570.5 230.1 567.1 230.4 570.7 230.8 568.8 231.1 571.1 231.5 568.0 231.8 572.1 232.2 568.5 232.5 570.4 232.9 568.4 233.2 568.7 233.6 571.4 233.9 569.4 234.3 568.0 234.6 566.1 235.0 570.6 235.3 569.6 235.7 567.3 236.0 568.2 236.4 565.6 236.7 565.4 237.1 565.6 237.4 567.7 237.8 567.3 238.1 565.1 238.5 567.8 238.8 567.7 239.2 566.3 239.5 567.8 239.9 564.9 240.2 565.1 240.6 566.0 240.9 564.8 241.3 566.2 241.6 561.9 242.0 567.0 242.3 562.3 242.7 563.3 243.0 560.7 243.4 564.4 243.7 565.5 244.1 564.8 244.4 564.1 244.8 559.1 245.1 560.4 245.5 560.8 245.8 559.6 246.2 563.4 246.5 561.3 246.9 560.6 247.2 561.4 247.6 558.2 247.9 558.1 248.3 557.9 248.6 560.4 249.0 559.8 249.3 560.1 249.7 560.8 250.0 555.6 250.4 557.0 250.7 558.2 251.1 554.9 251.4 556.3 251.8 559.3 252.1 559.2 252.5 558.9 252.8 556.6 253.2 555.8 253.5 558.2 253.9 555.0 254.2 556.3 254.6 558.1 254.9 554.4 255.3 553.7 255.6 554.7 256.0 555.8 256.3 555.3 256.7 554.4 257.0 555.1 257.4 550.4 257.7 551.8 258.1 553.7 258.4 551.3 258.8 550.2 259.1 550.4 259.5 550.8 259.8 552.2 260.2 550.3 260.5 552.8 260.9 555.7 261.2 551.7 261.6 554.6 261.9 552.4 262.3 549.2 262.6 550.9 263.0 549.3 263.3 552.8 263.7 548.6 264.0 553.8 264.4 552.0 264.7 546.4 265.1 552.2 265.4 553.7 265.8 548.6 266.1 552.3 266.5 546.3 266.8 550.5 267.2 546.3 267.5 550.8 267.9 545.8 268.2 543.9 268.6 550.2 268.9 554.2 269.3 547.9 269.6 550.8 270.0 549.2 270.3 548.2 270.7 550.1 271.0 552.2 271.4 545.9 271.7 549.7 272.1 549.1 272.4 545.2 272.8 551.6 273.1 552.2 273.5 545.9 273.8 551.6 274.2 547.9 274.5 547.4 274.9 550.9 275.2 548.0 275.6 548.2 275.9 550.7 276.3 550.1 276.6 549.2 277.0 544.1 277.3 543.7 277.7 549.4 278.0 545.0 278.4 547.2 278.7 544.5 279.1 546.4 279.4 543.9 279.8 550.2 280.1 544.4 280.5 546.3 280.8 546.1 281.2 549.0 281.5 543.3 281.9 546.2 282.2 545.8 282.6 547.3 282.9 547.2 283.3 545.1 283.6 546.5 284.0 545.2 284.3 546.9 284.7 545.6 285.0 544.4 285.4 545.7 285.7 546.5 286.1 550.6 286.4 544.5 286.8 546.2 287.1 548.7 287.5 540.9 287.8 541.6 288.2 542.8 288.5 545.1 288.9 550.6 289.2 546.1 289.6 547.8 289.9 544.6 290.3 539.7 290.6 540.0 291.0 547.2 291.3 545.4 291.7 542.1 292.0 547.3 292.4 541.5 292.7 547.3 293.1 548.0 293.4 543.1 293.8 542.3 294.1 546.6 294.5 542.3 294.8 546.6 295.2 542.1 295.5 546.4 295.9 544.8 296.2 543.7 296.6 542.7 296.9 545.1 297.3 540.5 297.6 544.0 298.0 543.7 298.3 546.1 298.7 541.9 299.0 548.4 299.4 544.0 299.7 542.2 300.1 547.7 300.4 548.4 300.8 544.4 301.1 542.9 301.5 544.9 301.8 543.5 302.2 544.3 302.5 548.5 302.9 546.0 303.2 545.6 303.6 546.1 303.9 545.3 304.3 547.3 304.6 547.5 305.0 544.9 305.3 546.0 305.7 551.1 306.0 546.9 306.4 545.7 306.7 550.6 307.1 546.3 307.4 544.1 307.8 548.0 308.1 544.7 308.5 545.7 308.8 547.6 309.2 546.7 309.5 545.5 309.9 546.1 310.2 546.1 310.6 550.0 310.9 546.1 311.3 546.5 311.6 552.2 312.0 546.8 312.3 551.3 312.7 551.0 313.0 548.0 313.4 545.4 313.7 549.5 314.1 550.1 314.4 550.8 314.8 549.0 315.1 551.5 315.5 552.0 315.8 546.9 316.2 552.3 316.5 549.8 316.9 548.3 317.2 548.9 317.6 553.7 317.9 551.9 318.3 546.2 318.6 550.3 319.0 549.9 319.3 549.9 319.7 549.4 320.0 547.5 320.4 552.5 320.7 548.8 321.1 550.2 321.4 549.8 321.8 549.7 322.1 552.9 322.5 552.3 322.8 550.2 323.2 549.7 323.5 550.9 323.9 554.0 324.2 552.4 324.6 552.8 324.9 551.7 325.3 552.0 325.6 553.1 326.0 549.0 326.3 556.4 326.7 551.5 327.0 552.1 327.4 556.2 327.7 554.0 328.1 553.8 328.4 552.7 328.8 550.8 329.1 554.6 329.5 556.8 329.8 552.6 330.2 557.5 330.5 552.5 330.9 553.4 331.2 556.2 331.6 555.3 331.9 556.9 332.3 554.1 332.6 553.7 333.0 552.1 333.3 553.7 333.7 554.1 334.0 553.6 334.4 557.3 334.7 555.5 335.1 553.0 335.4 562.4 335.8 555.8 336.1 555.1 336.5 560.5 336.8 560.5 337.2 556.0 337.5 555.6 337.9 556.8 338.2 561.3 338.6 558.6 338.9 557.8 339.3 559.6 339.6 562.4 340.0 557.3 340.3 559.6 340.7 557.8 341.0 565.2 341.4 564.8 341.7 563.2 342.1 561.3 342.4 563.1 342.8 557.8 343.1 562.8 343.5 559.8 343.8 560.1 344.2 561.6 344.5 562.5 344.9 564.6 345.2 565.1 345.6 564.5 345.9 562.3 346.3 565.7 346.6 564.4 347.0 567.2 347.3 563.3 347.7 559.9 348.0 564.6 348.4 570.0 348.7 566.9 349.1 565.8 349.4 568.1 349.8 567.6 350.1 567.7 350.5 566.0 350.8 567.4 351.2 567.8 351.5 566.4 351.9 565.6 352.2 568.3 352.6 570.1 352.9 569.6 353.3 569.5 353.6 569.7 354.0 573.9 354.3 569.6 354.7 571.3 355.0 573.2 355.4 569.7 355.7 570.3 356.1 572.0 356.4 573.4 356.8 570.9 357.1 571.2 357.5 570.9 357.8 568.5 358.2 573.2 358.5 570.7 358.9 568.1 359.2 571.3 359.6 568.4 359.9 570.0 360.3 572.1 360.6 570.5 361.0 574.4 361.3 569.7 361.7 573.2 362.0 573.9 362.4 575.8 362.7 574.9 363.1 573.8 363.4 573.7 363.8 573.6 364.1 576.0 364.5 572.8 364.8 575.1 365.2 574.1 365.5 574.9 365.9 574.1 366.2 578.8 366.6 573.7 366.9 575.6 367.3 575.8 367.6 576.6 368.0 576.4 368.3 576.5 368.7 577.7 369.0 573.3 369.4 576.2 369.7 574.1 370.1 577.0 370.4 574.5 370.8 575.1 371.1 576.9 371.5 579.8 371.8 578.4 372.2 578.0 372.5 580.2 372.9 576.1 373.2 574.1 373.6 577.3 373.9 577.8 374.3 580.7 374.6 582.5 375.0 576.3 375.3 583.4 375.7 581.9 376.0 580.7 376.4 580.0 376.7 583.9 377.1 579.8 377.4 578.9 377.8 580.2 378.1 577.6 378.5 581.1 378.8 580.2 379.2 581.1 379.5 581.3 379.9 578.9 380.2 583.4 380.6 579.3 380.9 582.9 381.3 578.5 381.6 582.2 382.0 580.2 382.3 581.9 382.7 580.8 383.0 578.2 383.4 580.3 383.7 582.6 384.1 583.7 384.4 580.1 384.8 579.1 385.1 581.5 385.5 582.8 385.8 582.2 386.2 582.1 386.5 585.2 386.9 585.6 387.2 585.3 387.6 582.5 387.9 584.4 388.3 584.1 388.6 582.1 389.0 586.3 389.3 585.1 389.7 584.2 390.0 587.8 390.4 586.8 390.7 587.1 391.1 587.9 391.4 587.2 391.8 583.9 392.1 585.6 392.5 588.2 392.8 585.3 393.2 586.9 393.5 587.7 393.9 589.7 394.2 589.6 394.6 589.1 394.9 587.4 395.3 589.5 395.6 589.0 396.0 588.0 396.3 590.8 396.7 589.5 397.0 587.5 397.4 591.2 397.7 588.7 398.1 590.4 398.4 586.9 398.8 589.7 399.1 588.3 399.5 588.4 399.8 587.0 400.2 594.2 400.5 590.5 400.9 591.3 401.2 593.0 401.6 591.1 401.9 592.4 402.3 589.4 402.6 592.2 403.0 591.4 403.3 593.1 403.7 592.8 404.0 590.3 404.4 589.8 404.7 591.4 405.1 594.5 405.4 594.2 405.8 594.4 406.1 590.5 406.5 589.6 406.8 593.3 407.2 594.0 407.5 593.7 407.9 595.5 408.2 594.9 408.6 593.4 408.9 594.1 409.3 596.0 409.6 596.1 410.0 596.1 410.3 600.2 410.7 596.2 411.0 597.0 411.4 595.4 411.7 596.6 412.1 598.3 412.4 598.6 412.8 597.6 413.1 598.7 413.5 598.4 413.8 595.4 414.2 593.3 414.5 602.7 414.9 600.5 415.2 599.3 415.6 596.7 415.9 597.7 416.3 602.2 416.6 595.7 417.0 599.9 417.3 602.1 417.7 601.1 418.0 602.4 418.4 601.1 418.7 605.4 419.1 600.2 419.4 599.8 419.8 602.7 420.1 604.8 420.5 602.6 420.8 604.6 421.2 602.3 421.5 601.5 421.9 605.9 422.2 606.4 422.6 606.5 422.9 603.6 423.3 602.7 423.6 602.9 424.0 604.7 424.3 606.2 424.7 606.3 425.0 603.5 425.4 606.2 425.7 606.2 426.1 606.5 426.4 606.6 426.8 606.5 427.1 608.0 427.5 607.5 427.8 607.9 428.2 606.7 428.5 608.6 428.9 608.1 429.2 605.2 429.6 609.4 429.9 608.5 430.3 610.6 430.6 609.1 431.0 609.5 431.3 610.2 431.7 610.1 432.0 609.6 432.4 607.8 432.7 613.6 433.1 608.6 433.4 610.7 433.8 612.4 434.1 612.2 434.5 612.7 434.8 613.3 435.2 614.2 435.5 613.0 435.9 617.2 436.2 611.5 436.6 613.6 436.9 613.0 437.3 612.9 437.6 614.4 438.0 616.4 438.3 613.4 438.7 613.6 439.0 616.0 439.4 615.9 439.7 618.2 440.1 617.1 440.4 616.1 440.8 615.5 441.1 616.6 441.5 616.2 441.8 614.7 442.2 617.0 442.5 616.9 442.9 617.1 443.2 617.0 443.6 620.3 443.9 619.1 444.3 619.7 444.6 617.7 445.0 617.3 445.3 618.6 445.7 619.6 446.0 619.0 446.4 619.4 446.7 621.3 447.1 620.6 447.4 619.0 447.8 620.0 448.1 619.9 448.5 621.3 448.8 619.6 449.2 621.2 449.5 622.7 449.9 622.0 450.2 620.9 450.6 621.5 450.9 622.8 451.3 623.5 451.6 624.2 452.0 623.1 452.3 621.7 452.7 625.7 453.0 624.3 453.4 624.7 453.7 624.8 454.1 623.2 454.4 624.4 454.8 625.4 455.1 626.7 455.5 625.6 455.8 621.4 456.2 625.6 456.5 626.6 456.9 628.1 457.2 627.6 457.6 630.2 457.9 629.0 458.3 629.1 458.6 628.7 459.0 625.8 459.3 629.1 459.7 628.9 460.0 627.6 460.4 629.4 460.7 629.4 461.1 628.4 461.4 629.1 461.8 629.1 462.1 630.0 462.5 629.3 462.8 630.8 463.2 627.8 463.5 630.1 463.9 628.5 464.2 630.3 464.6 631.8 464.9 631.4 465.3 631.4 465.6 631.8 466.0 634.0 466.3 630.7 466.7 633.5 467.0 630.6 467.4 632.2 467.7 633.2 468.1 632.0 468.4 633.6 468.8 634.5 469.1 632.2 469.5 633.8 469.8 633.6 470.2 631.8 470.5 634.2 470.9 633.6 471.2 636.5 471.6 633.9 471.9 637.4 472.3 634.7 472.6 638.0 473.0 636.4 473.3 636.5 473.7 637.1 474.0 637.4 474.4 638.2 474.7 638.8 475.1 636.4 475.4 635.4 475.8 633.8 476.1 636.9 476.5 638.5 476.8 638.2 477.2 638.0 477.5 637.6 477.9 637.4 478.2 638.0 478.6 639.0 478.9 636.5 479.3 639.8 479.6 637.2 480.0 639.0 480.3 638.6 480.7 639.1 481.0 638.4 481.4 638.4 481.7 639.7 482.1 638.8 482.4 643.2 482.8 639.9 483.1 639.7 483.5 640.0 483.8 639.5 484.2 637.9 484.5 640.7 484.9 641.5 485.2 639.4 485.6 641.4 485.9 640.0 486.3 641.5 486.6 642.1 487.0 642.4 487.3 642.4 487.7 641.2 488.0 643.2 488.4 641.7 488.7 642.7 489.1 643.2 489.4 642.1 489.8 641.0 490.1 643.4 490.5 641.4 490.8 641.8 491.2 641.6 491.5 644.0 491.9 642.9 492.2 640.5 492.6 644.1 492.9 645.8 493.3 645.6 493.6 642.8 494.0 643.7 494.3 644.3 494.7 644.8 495.0 643.9 495.4 642.6 495.7 644.9 496.1 644.8 496.4 642.6 496.8 643.8 497.1 644.7 497.5 644.4 497.8 645.1 498.2 645.5 498.5 645.3 498.9 644.6 499.2 643.3 499.6 645.7 499.9 646.7 500.3 647.5 500.6 645.2 501.0 645.3 501.3 647.2 501.7 647.3 502.0 646.1 502.4 646.6 502.7 645.0 503.1 646.7 503.4 645.2 503.8 646.1 504.1 646.2 504.5 646.0 504.8 644.2 505.2 645.8 505.5 647.2 505.9 646.9 506.2 646.6 506.6 647.7 506.9 648.1 507.3 648.3 507.6 646.5 508.0 647.6 508.3 647.3 508.7 646.7 509.0 646.1 509.4 647.8 509.7 646.9 510.1 650.5 510.4 647.9 510.8 647.8 511.1 647.7 511.5 650.3 511.8 647.2 512.2 648.1 512.5 647.5 512.9 648.3 513.2 648.4 513.6 649.8 513.9 646.9 514.3 648.6 514.6 650.5 515.0 648.1 515.3 648.5 515.7 647.8 516.0 645.9 516.4 648.8 516.7 650.3 517.1 648.4 517.4 646.9 517.8 649.4 518.1 649.2 518.5 650.3 518.8 650.2 519.2 648.9 519.5 649.7 519.9 647.3 520.2 650.6 520.6 649.6 520.9 650.6 521.3 650.6 521.6 649.1 522.0 649.3 522.3 648.5 522.7 647.2 523.0 649.4 523.4 649.8 523.7 648.4 524.1 650.5 524.4 649.8 524.8 650.2 525.1 648.9 525.5 647.8 525.8 650.7 526.2 650.5 526.5 649.7 526.9 649.4 527.2 649.6 527.6 649.7 527.9 649.3 528.3 647.7 528.6 650.8 529.0 648.3 529.3 649.6 529.7 649.6 530.0 650.3 530.4 648.2 530.7 651.4 531.1 650.7 531.4 650.9 531.8 651.5 532.1 649.1 532.5 646.5 532.8 650.4 533.2 651.5 533.5 651.4 533.9 649.5 534.2 650.0 534.6 650.4 534.9 648.1 535.3 649.4 535.6 649.4 536.0 651.9 536.3 649.4 536.7 651.9 537.0 650.2 537.4 648.3 537.7 652.7 538.1 649.1 538.4 650.9 538.8 652.1 539.1 649.6 539.5 648.8 539.8 651.4 540.2 650.3 540.5 648.8 540.9 649.0 541.2 649.8 541.6 651.3 541.9 649.9 542.3 651.0 542.6 652.1 543.0 651.7 543.3 651.9 543.7 651.6 544.0 648.5 544.4 651.6 544.7 650.6 545.1 650.1 545.4 649.1 545.8 648.5 546.1 649.0 546.5 650.3 546.8 649.0 547.2 649.4 547.5 649.6 547.9 651.0 548.2 650.0 548.6 650.1 548.9 651.8 549.3 649.9 549.6 651.0 550.0 649.1 550.3 650.7 550.7 650.4 551.0 650.5 551.4 649.8 551.7 649.1 552.1 650.0 552.4 649.8 552.8 651.5 553.1 651.3 553.5 648.9 553.8 651.0 554.2 649.8 554.5 650.8 554.9 649.8 555.2 648.6 555.6 651.4 555.9 650.8 556.3 648.9 556.6 648.2 557.0 649.7 557.3 649.0 557.7 649.9 558.0 651.0 558.4 651.9 558.7 649.9 559.1 651.8 559.4 651.6 559.8 649.8 560.1 648.4 560.5 651.2 560.8 651.0 561.2 652.9 561.5 651.9 561.9 651.1 562.2 652.2 562.6 649.1 562.9 650.5 563.3 650.0 563.6 652.2 564.0 650.9 564.3 646.8 564.7 651.8 565.0 649.2 565.4 651.1 565.7 649.7 566.1 650.5 566.4 651.0 566.8 650.5 567.1 649.2 567.5 651.8 567.8 650.7 568.2 650.2 568.5 651.0 568.9 649.6 569.2 652.3 569.6 650.5 569.9 650.6 570.3 650.6 570.6 649.2 571.0 648.9 571.3 650.4 571.7 650.6 572.0 651.7 572.4 650.7 572.7 648.9 573.1 650.7 573.4 651.1 573.8 651.3 574.1 650.5 574.5 648.7 574.8 651.4 575.2 649.2 575.5 650.7 575.9 648.3 576.2 650.9 576.6 649.1 576.9 651.2 577.3 651.9 577.6 651.2 578.0 648.6 578.3 648.8 578.7 648.9 579.0 650.6 579.4 650.2 579.7 650.0 580.1 650.1 580.4 650.4 580.8 650.4 581.1 651.6 581.5 649.6 581.8 649.8 582.2 647.5 582.5 648.1 582.9 648.7 583.2 648.1 583.6 649.7 583.9 650.6 584.3 648.9 584.6 648.8 585.0 648.8 585.3 649.5 585.7 648.7 586.0 649.7 586.4 649.6 586.7 649.6 587.1 650.0 587.4 649.2 587.8 649.3 588.1 651.1 588.5 649.0 588.8 649.9 589.2 649.0 589.5 648.4 589.9 648.4 590.2 648.0 590.6 648.9 590.9 648.1 591.3 648.3 591.6 650.1 592.0 648.6 592.3 650.0 592.7 648.9 593.0 649.6 593.4 647.8 593.7 648.7 594.1 651.5 594.4 649.4 594.8 649.5 595.1 648.6 595.5 649.2 595.8 646.9 596.2 647.2 596.5 648.6 596.9 649.0 597.2 647.5 597.6 647.7 597.9 647.5 598.3 647.6 598.6 646.4 599.0 646.1 599.3 647.6 599.7 645.6 600.0 646.5 600.4 646.8 600.7 646.3 601.1 647.7 601.4 646.9 601.8 647.2 602.1 646.1 602.5 646.4 602.8 647.8 603.2 647.6 603.5 646.6 603.9 647.5 604.2 647.2 604.6 647.2 604.9 648.8 605.3 646.4 605.6 647.4 606.0 647.3 606.3 646.5 606.7 645.4 607.0 647.6 607.4 647.0 607.7 646.8 608.1 646.7 608.4 646.7 608.8 645.6 609.1 647.0 609.5 644.6 609.8 646.6 610.2 644.9 610.5 646.2 610.9 647.5 611.2 646.4 611.6 646.1 611.9 647.3 612.3 646.4 612.6 646.2 613.0 646.2 613.3 648.4 613.7 647.5 614.0 647.3 614.4 645.3 614.7 647.4 615.1 645.2 615.4 647.3 615.8 645.5 616.1 649.0 616.5 644.8 616.8 648.2 617.2 647.7 617.5 644.8 617.9 646.6 618.2 648.5 618.6 648.2 618.9 645.0 619.3 646.3 619.6 645.6 620.0 645.8 620.3 646.2 620.7 649.1 621.0 647.2 621.4 646.8 621.7 646.7 622.1 647.9 622.4 647.9 622.8 646.1 623.1 648.8 623.5 645.9 623.8 646.9 624.2 647.7 624.5 649.2 624.9 646.9 625.2 647.6 625.6 648.8 625.9 648.0 626.3 648.6 626.6 648.5 627.0 647.7 627.3 648.1 627.7 648.5 628.0 647.4 628.4 649.3 628.7 645.2 629.1 646.4 629.4 649.2 629.8 648.0 630.1 646.8 630.5 648.0 630.8 648.8 631.2 646.9 631.5 648.5 631.9 647.5 632.2 647.5 632.6 647.6 632.9 648.9 633.3 646.4 633.6 647.3 634.0 648.5 634.3 646.3 634.7 645.9 635.0 648.4 635.4 647.8 635.7 647.6 636.1 647.9 636.4 646.7 636.8 651.1 637.1 646.7 637.5 647.3 637.8 646.2 638.2 647.4 638.5 649.6 638.9 647.9 639.2 648.6 639.6 647.4 639.9 650.0 640.3 648.1 640.6 646.5 641.0 648.9 641.3 647.6 641.7 648.7 642.0 648.2 642.4 648.3 642.7 648.2 643.1 647.0 643.4 646.4 643.8 649.2 644.1 648.0 644.5 648.5 644.8 647.6 645.2 645.9 645.5 646.7 645.9 649.8 646.2 647.3 646.6 647.8 646.9 646.6 647.3 647.7 647.6 647.9 648.0 648.1 648.3 648.2 648.7 647.6 649.0 647.7 649.4 648.4 649.7 648.8 650.1 648.3 650.4 650.4 650.8 648.7 651.1 648.7 651.5 647.8 651.8 649.7 652.2 647.4 652.5 646.7 652.9 647.5 653.2 649.3 653.6 647.4 653.9 650.2 654.3 648.7 654.6 647.0 655.0 648.5 655.3 650.8 655.7 647.8 656.0 647.4 656.4 649.5 656.7 650.4 657.1 650.1 657.4 648.6 657.8 649.2 658.1 649.4 658.5 650.4 658.8 651.5 659.2 649.0 659.5 650.6 659.9 648.8 660.2 649.9 660.6 648.2 660.9 648.4 661.3 649.8 661.6 648.3 662.0 650.4 662.3 648.8 662.7 649.6 663.0 649.4 663.4 649.2 663.7 649.7 664.1 650.8 664.4 653.1 664.8 648.3 665.1 650.1 665.5 649.6 665.8 648.8 666.2 650.2 666.5 648.9" stroke="#ff0000" stroke-width="3.0" fill="none" stroke-linejoin="round"/>
<path d="M61.0 620.5L61.4 621.7 61.7 621.4 62.1 621.4 62.4 622.5 62.8 619.3 63.1 620.0 63.5 619.2 63.8 620.7 64.2 622.1 64.5 620.9 64.9 621.6 65.2 618.9 65.6 621.4 65.9 620.3 66.3 623.5 66.6 622.6 67.0 622.7 67.3 621.7 67.7 622.6 68.0 622.8 68.4 621.7 68.7 621.7 69.1 622.3 69.4 621.8 69.8 622.0 70.1 622.5 70.5 622.1 70.8 624.0 71.2 621.4 71.5 624.3 71.9 622.8 72.2 623.1 72.6 622.3 72.9 623.8 73.3 623.9 73.6 624.5 74.0 623.8 74.3 624.7 74.7 626.8 75.0 625.3 75.4 624.4 75.7 626.2 76.1 625.2 76.4 626.1 76.8 626.3 77.1 625.3 77.5 623.7 77.8 625.6 78.2 626.7 78.5 625.8 78.9 626.8 79.2 627.5 79.6 625.9 79.9 627.9 80.3 628.5 80.6 627.9 81.0 628.1 81.3 628.1 81.7 629.5 82.0 627.3 82.4 627.2 82.7 628.0 83.1 626.4 83.4 625.8 83.8 626.6 84.1 628.1 84.5 628.3 84.8 626.2 85.2 625.9 85.5 627.7 85.9 627.9 86.2 628.2 86.6 629.1 86.9 629.8 87.3 628.8 87.6 629.3 88.0 627.5 88.3 627.5 88.7 629.1 89.0 629.7 89.4 629.8 89.7 629.7 90.1 630.0 90.4 630.1 90.8 627.5 91.1 628.6 91.5 630.0 91.8 630.2 92.2 628.0 92.5 631.0 92.9 629.3 93.2 629.6 93.6 630.2 93.9 630.8 94.3 628.5 94.6 631.1 95.0 630.2 95.3 629.3 95.7 629.9 96.0 627.9 96.4 629.6 96.7 630.5 97.1 629.6 97.4 630.0 97.8 630.3 98.1 630.5 98.5 631.5 98.8 630.5 99.2 630.2 99.5 631.1 99.9 632.7 100.2 630.1 100.6 631.0 100.9 628.8 101.3 631.9 101.6 631.2 102.0 631.9 102.3 630.4 102.7 629.4 103.0 631.4 103.4 631.3 103.7 629.6 104.1 628.9 104.4 631.0 104.8 630.3 105.1 633.3 105.5 629.8 105.8 629.9 106.2 630.4 106.5 628.7 106.9 629.6 107.2 632.3 107.6 630.4 107.9 629.9 108.3 629.1 108.6 631.1 109.0 631.2 109.3 630.8 109.7 630.1 110.0 630.8 110.4 630.9 110.7 629.8 111.1 631.2 111.4 628.2 111.8 629.1 112.1 630.2 112.5 630.4 112.8 629.3 113.2 630.9 113.5 631.6 113.9 631.0 114.2 630.7 114.6 631.4 114.9 630.9 115.3 629.3 115.6 630.3 116.0 631.9 116.3 629.3 116.7 630.6 117.0 630.1 117.4 629.5 117.7 629.4 118.1 630.6 118.4 630.8 118.8 630.8 119.1 629.0 119.5 630.2 119.8 630.9 120.2 631.5 120.5 631.2 120.9 631.4 121.2 631.6 121.6 631.3 121.9 629.5 122.3 630.4 122.6 629.6 123.0 627.8 123.3 628.5 123.7 632.4 124.0 628.9 124.4 627.7 124.7 629.4 125.1 631.6 125.4 629.8 125.8 630.2 126.1 629.4 126.5 629.5 126.8 630.9 127.2 630.3 127.5 629.2 127.9 630.2 128.2 630.3 128.6 628.8 128.9 629.2 129.3 629.1 129.6 628.0 130.0 629.8 130.3 628.3 130.7 627.7 131.0 626.4 131.4 626.7 131.7 629.6 132.1 626.6 132.4 628.2 132.8 627.2 133.1 628.0 133.5 628.0 133.8 626.3 134.2 626.7 134.5 627.0 134.9 626.9 135.2 626.6 135.6 626.2 135.9 627.1 136.3 627.8 136.6 626.8 137.0 625.2 137.3 626.4 137.7 625.9 138.0 626.2 138.4 627.6 138.7 625.2 139.1 625.3 139.4 624.2 139.8 624.8 140.1 624.3 140.5 626.7 140.8 625.1 141.2 624.0 141.5 626.7 141.9 622.9 142.2 625.3 142.6 625.3 142.9 624.7 143.3 623.7 143.6 623.7 144.0 623.4 144.3 624.5 144.7 620.9 145.0 622.8 145.4 623.5 145.7 622.5 146.1 621.0 146.4 622.7 146.8 622.0 147.1 623.6 147.5 624.2 147.8 622.6 148.2 620.2 148.5 622.0 148.9 621.1 149.2 622.8 149.6 623.8 149.9 622.1 150.3 624.0 150.6 623.3 151.0 622.2 151.3 620.3 151.7 621.4 152.0 619.4 152.4 622.2 152.7 621.0 153.1 622.3 153.4 620.9 153.8 618.2 154.1 621.1 154.5 621.3 154.8 622.0 155.2 618.8 155.5 618.7 155.9 619.7 156.2 618.2 156.6 617.7 156.9 617.9 157.3 622.0 157.6 618.1 158.0 617.4 158.3 617.9 158.7 618.3 159.0 619.7 159.4 619.1 159.7 618.7 160.1 617.7 160.4 617.6 160.8 616.5 161.1 615.2 161.5 619.3 161.8 616.1 162.2 617.6 162.5 615.8 162.9 615.9 163.2 615.6 163.6 613.8 163.9 615.2 164.3 615.5 164.6 615.8 165.0 615.1 165.3 615.5 165.7 614.4 166.0 613.8 166.4 611.1 166.7 612.6 167.1 614.9 167.4 612.8 167.8 613.4 168.1 611.9 168.5 611.0 168.8 614.1 169.2 611.7 169.5 612.9 169.9 611.4 170.2 610.0 170.6 607.3 170.9 609.9 171.3 607.5 171.6 606.4 172.0 610.5 172.3 609.6 172.7 609.2 173.0 608.1 173.4 607.7 173.7 608.0 174.1 607.3 174.4 606.9 174.8 607.5 175.1 603.0 175.5 607.1 175.8 604.8 176.2 606.5 176.5 606.6 176.9 603.6 177.2 605.5 177.6 605.2 177.9 602.9 178.3 602.8 178.6 603.4 179.0 600.0 179.3 602.1 179.7 602.6 180.0 601.5 180.4 599.6 180.7 600.9 181.1 603.2 181.4 602.7 181.8 600.4 182.1 599.1 182.5 599.9 182.8 599.6 183.2 598.3 183.5 598.5 183.9 599.5 184.2 599.6 184.6 594.6 184.9 599.0 185.3 597.5 185.6 598.6 186.0 596.6 186.3 596.9 186.7 598.3 187.0 591.5 187.4 597.6 187.7 595.3 188.1 592.1 188.4 590.5 188.8 594.4 189.1 592.2 189.5 594.7 189.8 593.3 190.2 592.4 190.5 593.7 190.9 592.2 191.2 592.6 191.6 592.4 191.9 591.3 192.3 591.7 192.6 591.3 193.0 587.8 193.3 589.1 193.7 588.9 194.0 588.2 194.4 586.0 194.7 587.2 195.1 588.2 195.4 587.6 195.8 589.3 196.1 585.7 196.5 585.6 196.8 585.0 197.2 585.1 197.5 584.3 197.9 582.0 198.2 585.0 198.6 585.6 198.9 585.5 199.3 581.7 199.6 582.7 200.0 585.5 200.3 582.1 200.7 582.5 201.0 581.3 201.4 582.8 201.7 582.3 202.1 584.1 202.4 580.8 202.8 580.4 203.1 577.4 203.5 578.3 203.8 577.4 204.2 577.6 204.5 575.7 204.9 579.3 205.2 575.3 205.6 577.0 205.9 574.1 206.3 576.3 206.6 578.1 207.0 573.7 207.3 575.2 207.7 574.1 208.0 574.2 208.4 574.1 208.7 571.9 209.1 572.3 209.4 571.2 209.8 570.4 210.1 569.4 210.5 572.6 210.8 569.4 211.2 571.3 211.5 570.7 211.9 567.7 212.2 570.8 212.6 567.2 212.9 569.3 213.3 570.3 213.6 566.2 214.0 565.5 214.3 565.1 214.7 570.2 215.0 565.3 215.4 563.4 215.7 566.6 216.1 564.5 216.4 564.4 216.8 562.3 217.1 559.8 217.5 562.1 217.8 561.1 218.2 559.8 218.5 560.4 218.9 560.2 219.2 563.0 219.6 562.5 219.9 561.8 220.3 559.6 220.6 558.0 221.0 560.4 221.3 560.4 221.7 561.0 222.0 558.8 222.4 558.3 222.7 558.8 223.1 556.3 223.4 556.2 223.8 558.4 224.1 554.7 224.5 556.5 224.8 557.8 225.2 556.5 225.5 556.5 225.9 553.4 226.2 554.9 226.6 554.3 226.9 555.6 227.3 555.0 227.6 554.0 228.0 557.1 228.3 554.3 228.7 552.5 229.0 551.6 229.4 552.4 229.7 551.1 230.1 554.9 230.4 552.6 230.8 550.7 231.1 549.7 231.5 548.7 231.8 549.9 232.2 552.6 232.5 551.4 232.9 549.4 233.2 549.5 233.6 545.5 233.9 550.1 234.3 548.0 234.6 550.7 235.0 547.5 235.3 546.6 235.7 547.7 236.0 545.8 236.4 549.3 236.7 547.0 237.1 546.9 237.4 546.5 237.8 545.0 238.1 546.3 238.5 545.4 238.8 548.2 239.2 544.7 239.5 545.0 239.9 543.1 240.2 543.0 240.6 542.9 240.9 545.7 241.3 543.1 241.6 544.6 242.0 541.9 242.3 541.4 242.7 538.1 243.0 543.2 243.4 545.3 243.7 540.6 244.1 543.6 244.4 542.1 244.8 538.8 245.1 541.4 245.5 537.9 245.8 538.7 246.2 541.5 246.5 539.1 246.9 536.2 247.2 541.0 247.6 535.8 247.9 537.3 248.3 536.7 248.6 536.8 249.0 535.1 249.3 533.3 249.7 540.0 250.0 534.1 250.4 534.0 250.7 530.6 251.1 535.4 251.4 537.6 251.8 537.5 252.1 540.1 252.5 537.2 252.8 534.8 253.2 533.8 253.5 536.4 253.9 533.2 254.2 533.4 254.6 530.8 254.9 532.7 255.3 536.4 255.6 531.9 256.0 532.7 256.3 526.7 256.7 534.2 257.0 532.0 257.4 533.9 257.7 531.3 258.1 528.9 258.4 527.6 258.8 531.3 259.1 530.0 259.5 527.9 259.8 529.6 260.2 528.2 260.5 530.9 260.9 528.4 261.2 526.5 261.6 528.7 261.9 527.6 262.3 531.7 262.6 527.4 263.0 525.5 263.3 528.0 263.7 527.4 264.0 528.4 264.4 528.1 264.7 525.3 265.1 527.2 265.4 527.0 265.8 524.5 266.1 525.7 266.5 527.2 266.8 523.3 267.2 524.2 267.5 525.4 267.9 526.0 268.2 527.2 268.6 523.1 268.9 526.5 269.3 527.0 269.6 528.8 270.0 524.6 270.3 523.4 270.7 522.0 271.0 526.3 271.4 527.7 271.7 523.4 272.1 525.7 272.4 526.5 272.8 526.6 273.1 523.7 273.5 525.8 273.8 524.3 274.2 522.3 274.5 524.8 274.9 524.9 275.2 522.0 275.6 524.9 275.9 528.2 276.3 520.7 276.6 525.3 277.0 525.6 277.3 523.7 277.7 524.2 278.0 522.9 278.4 526.3 278.7 521.3 279.1 522.9 279.4 519.0 279.8 523.7 280.1 523.8 280.5 519.3 280.8 521.0 281.2 523.8 281.5 521.6 281.9 520.0 282.2 517.1 282.6 523.2 282.9 526.5 283.3 521.3 283.6 523.1 284.0 523.0 284.3 521.9 284.7 522.2 285.0 522.2 285.4 520.0 285.7 527.1 286.1 527.6 286.4 522.3 286.8 525.4 287.1 519.7 287.5 520.9 287.8 523.8 288.2 518.8 288.5 518.4 288.9 521.9 289.2 516.8 289.6 524.8 289.9 522.6 290.3 521.5 290.6 522.3 291.0 518.9 291.3 518.7 291.7 522.5 292.0 522.7 292.4 520.9 292.7 520.4 293.1 519.3 293.4 523.4 293.8 517.1 294.1 518.4 294.5 519.0 294.8 516.8 295.2 517.1 295.5 517.7 295.9 522.0 296.2 523.7 296.6 520.4 296.9 516.0 297.3 518.1 297.6 519.0 298.0 518.5 298.3 518.1 298.7 519.9 299.0 514.3 299.4 517.0 299.7 518.4 300.1 519.0 300.4 517.5 300.8 516.3 301.1 515.0 301.5 512.7 301.8 513.1 302.2 510.7 302.5 507.6 302.9 509.6 303.2 507.0 303.6 500.5 303.9 499.8 304.3 498.2 304.6 493.2 305.0 490.7 305.3 490.4 305.7 485.3 306.0 487.0 306.4 493.8 306.7 496.0 307.1 501.7 307.4 500.5 307.8 507.3 308.1 510.0 308.5 514.5 308.8 510.4 309.2 513.3 309.5 516.2 309.9 517.4 310.2 515.7 310.6 517.5 310.9 516.6 311.3 525.0 311.6 520.3 312.0 520.8 312.3 519.8 312.7 521.5 313.0 523.4 313.4 521.2 313.7 522.1 314.1 527.0 314.4 524.5 314.8 523.2 315.1 522.0 315.5 523.0 315.8 521.6 316.2 523.9 316.5 522.1 316.9 522.1 317.2 522.9 317.6 521.6 317.9 524.5 318.3 529.5 318.6 523.0 319.0 520.9 319.3 526.6 319.7 524.5 320.0 529.0 320.4 525.8 320.7 527.0 321.1 523.6 321.4 522.0 321.8 525.1 322.1 527.0 322.5 523.9 322.8 522.5 323.2 524.8 323.5 525.2 323.9 525.6 324.2 526.3 324.6 531.6 324.9 526.8 325.3 525.8 325.6 524.7 326.0 528.8 326.3 524.0 326.7 530.4 327.0 527.6 327.4 524.6 327.7 528.3 328.1 527.8 328.4 530.7 328.8 525.2 329.1 528.9 329.5 528.6 329.8 530.7 330.2 526.6 330.5 527.5 330.9 533.4 331.2 530.6 331.6 526.6 331.9 530.5 332.3 528.3 332.6 528.7 333.0 527.8 333.3 532.5 333.7 529.6 334.0 531.3 334.4 531.3 334.7 528.2 335.1 530.0 335.4 533.3 335.8 528.8 336.1 532.7 336.5 532.2 336.8 534.0 337.2 534.3 337.5 534.8 337.9 533.5 338.2 534.2 338.6 532.5 338.9 533.0 339.3 536.2 339.6 533.5 340.0 537.0 340.3 537.2 340.7 533.8 341.0 536.8 341.4 534.3 341.7 536.9 342.1 534.9 342.4 537.4 342.8 537.4 343.1 535.2 343.5 541.6 343.8 539.7 344.2 534.9 344.5 539.1 344.9 537.8 345.2 542.9 345.6 539.0 345.9 540.2 346.3 539.3 346.6 541.2 347.0 539.1 347.3 538.6 347.7 539.7 348.0 540.1 348.4 542.4 348.7 541.5 349.1 540.7 349.4 541.0 349.8 540.3 350.1 542.5 350.5 538.5 350.8 542.2 351.2 545.2 351.5 542.4 351.9 542.0 352.2 543.5 352.6 541.8 352.9 542.3 353.3 545.3 353.6 542.9 354.0 548.1 354.3 545.5 354.7 544.4 355.0 543.6 355.4 544.5 355.7 540.8 356.1 545.8 356.4 547.1 356.8 546.7 357.1 544.9 357.5 547.1 357.8 547.3 358.2 545.9 358.5 547.0 358.9 548.5 359.2 547.5 359.6 546.1 359.9 546.9 360.3 547.4 360.6 544.2 361.0 547.6 361.3 547.2 361.7 543.5 362.0 544.5 362.4 551.3 362.7 548.2 363.1 550.7 363.4 547.6 363.8 551.3 364.1 549.7 364.5 547.4 364.8 549.4 365.2 552.0 365.5 553.6 365.9 550.3 366.2 548.6 366.6 548.0 366.9 551.0 367.3 551.9 367.6 550.3 368.0 550.0 368.3 551.8 368.7 551.4 369.0 551.3 369.4 547.9 369.7 550.3 370.1 554.5 370.4 551.2 370.8 555.8 371.1 552.2 371.5 551.1 371.8 552.3 372.2 553.1 372.5 550.8 372.9 552.7 373.2 551.7 373.6 555.3 373.9 551.9 374.3 553.2 374.6 550.3 375.0 550.8 375.3 553.3 375.7 551.9 376.0 553.2 376.4 554.3 376.7 555.1 377.1 551.7 377.4 554.1 377.8 555.8 378.1 553.5 378.5 552.5 378.8 553.8 379.2 558.2 379.5 555.5 379.9 558.4 380.2 555.2 380.6 558.1 380.9 553.5 381.3 555.8 381.6 556.6 382.0 559.8 382.3 557.6 382.7 559.0 383.0 556.4 383.4 556.6 383.7 559.8 384.1 560.2 384.4 560.0 384.8 560.1 385.1 557.2 385.5 562.2 385.8 558.8 386.2 561.0 386.5 560.2 386.9 555.9 387.2 555.7 387.6 556.5 387.9 559.5 388.3 561.7 388.6 559.4 389.0 561.5 389.3 558.0 389.7 559.3 390.0 559.0 390.4 560.8 390.7 558.9 391.1 560.9 391.4 562.3 391.8 560.6 392.1 560.0 392.5 560.9 392.8 559.7 393.2 560.2 393.5 563.6 393.9 563.0 394.2 560.0 394.6 562.2 394.9 563.6 395.3 564.4 395.6 564.3 396.0 565.0 396.3 563.4 396.7 563.6 397.0 563.4 397.4 565.8 397.7 565.6 398.1 567.3 398.4 566.3 398.8 563.2 399.1 562.2 399.5 562.5 399.8 563.5 400.2 566.2 400.5 562.9 400.9 562.0 401.2 565.3 401.6 567.2 401.9 567.3 402.3 569.0 402.6 566.2 403.0 565.4 403.3 566.0 403.7 564.4 404.0 565.7 404.4 569.2 404.7 570.8 405.1 569.5 405.4 568.0 405.8 567.3 406.1 568.2 406.5 564.8 406.8 569.1 407.2 569.7 407.5 568.3 407.9 568.7 408.2 566.0 408.6 570.3 408.9 570.5 409.3 564.7 409.6 568.6 410.0 570.3 410.3 572.7 410.7 568.7 411.0 570.2 411.4 572.9 411.7 571.5 412.1 570.5 412.4 570.3 412.8 571.3 413.1 570.2 413.5 573.4 413.8 570.5 414.2 573.1 414.5 573.9 414.9 574.6 415.2 573.1 415.6 573.2 415.9 573.9 416.3 573.8 416.6 575.7 417.0 574.0 417.3 577.5 417.7 579.2 418.0 573.8 418.4 575.8 418.7 573.5 419.1 576.9 419.4 576.6 419.8 575.8 420.1 574.7 420.5 576.7 420.8 580.1 421.2 579.8 421.5 578.1 421.9 576.7 422.2 577.9 422.6 576.9 422.9 576.3 423.3 577.2 423.6 580.0 424.0 579.7 424.3 579.8 424.7 578.0 425.0 577.8 425.4 581.9 425.7 580.0 426.1 582.6 426.4 579.9 426.8 582.8 427.1 581.9 427.5 581.1 427.8 581.4 428.2 585.3 428.5 584.0 428.9 582.4 429.2 583.3 429.6 580.9 429.9 586.2 430.3 585.9 430.6 583.3 431.0 584.9 431.3 580.2 431.7 586.1 432.0 585.6 432.4 585.5 432.7 586.5 433.1 585.9 433.4 584.2 433.8 584.8 434.1 585.8 434.5 587.7 434.8 586.5 435.2 585.7 435.5 587.4 435.9 585.2 436.2 590.4 436.6 587.9 436.9 586.2 437.3 588.1 437.6 589.7 438.0 589.1 438.3 591.5 438.7 586.5 439.0 591.2 439.4 589.0 439.7 590.5 440.1 591.9 440.4 587.8 440.8 587.7 441.1 589.4 441.5 587.7 441.8 587.4 442.2 590.6 442.5 592.4 442.9 590.2 443.2 591.8 443.6 596.7 443.9 591.9 444.3 591.2 444.6 591.6 445.0 592.7 445.3 591.8 445.7 593.4 446.0 592.9 446.4 594.1 446.7 593.2 447.1 593.0 447.4 592.0 447.8 591.5 448.1 593.3 448.5 593.4 448.8 594.5 449.2 594.2 449.5 593.9 449.9 597.9 450.2 595.3 450.6 596.8 450.9 593.8 451.3 596.9 451.6 597.4 452.0 596.5 452.3 594.8 452.7 598.1 453.0 595.5 453.4 594.5 453.7 594.6 454.1 597.2 454.4 596.6 454.8 598.7 455.1 598.7 455.5 599.9 455.8 598.7 456.2 598.6 456.5 598.6 456.9 597.7 457.2 597.9 457.6 598.2 457.9 599.8 458.3 598.5 458.6 599.8 459.0 601.6 459.3 597.0 459.7 599.3 460.0 599.4 460.4 601.0 460.7 599.2 461.1 600.5 461.4 604.7 461.8 600.0 462.1 601.9 462.5 602.5 462.8 602.1 463.2 601.1 463.5 604.2 463.9 600.5 464.2 602.0 464.6 603.2 464.9 602.9 465.3 605.5 465.6 603.7 466.0 606.9 466.3 604.5 466.7 606.8 467.0 605.5 467.4 604.8 467.7 605.0 468.1 606.9 468.4 605.1 468.8 605.9 469.1 605.1 469.5 603.7 469.8 607.3 470.2 607.6 470.5 605.4 470.9 607.8 471.2 607.1 471.6 605.1 471.9 606.6 472.3 608.9 472.6 609.6 473.0 609.0 473.3 612.3 473.7 609.4 474.0 608.2 474.4 607.5 474.7 611.5 475.1 609.3 475.4 609.6 475.8 609.3 476.1 609.5 476.5 610.3 476.8 611.6 477.2 611.9 477.5 611.9 477.9 612.9 478.2 611.3 478.6 610.8 478.9 612.2 479.3 609.9 479.6 613.7 480.0 613.5 480.3 613.7 480.7 611.9 481.0 612.8 481.4 613.6 481.7 612.4 482.1 612.5 482.4 613.7 482.8 614.3 483.1 613.4 483.5 615.6 483.8 617.2 484.2 615.2 484.5 614.4 484.9 614.3 485.2 616.7 485.6 615.1 485.9 615.6 486.3 615.2 486.6 614.2 487.0 616.9 487.3 614.7 487.7 615.3 488.0 612.5 488.4 617.8 488.7 616.2 489.1 615.2 489.4 614.4 489.8 614.6 490.1 613.3 490.5 616.0 490.8 614.4 491.2 616.0 491.5 616.1 491.9 617.9 492.2 615.9 492.6 616.0 492.9 616.2 493.3 614.9 493.6 615.4 494.0 616.1 494.3 617.1 494.7 616.6 495.0 615.4 495.4 617.2 495.7 615.2 496.1 613.7 496.4 617.3 496.8 615.2 497.1 614.4 497.5 613.3 497.8 613.9 498.2 616.2 498.5 613.8 498.9 616.2 499.2 613.1 499.6 614.1 499.9 612.3 500.3 611.1 500.6 610.4 501.0 609.6 501.3 607.2 501.7 605.8 502.0 606.4 502.4 606.1 502.7 603.0 503.1 601.0 503.4 597.5 503.8 597.8 504.1 594.7 504.5 587.8 504.8 584.2 505.2 576.2 505.5 565.5 505.9 561.7 506.2 548.7 506.6 533.4 506.9 525.1 507.3 515.4 507.6 512.4 508.0 510.6 508.3 503.1 508.7 501.6 509.0 496.4 509.4 499.1 509.7 500.1 510.1 496.5 510.4 500.2 510.8 506.4 511.1 515.0 511.5 516.5 511.8 522.2 512.2 532.4 512.5 545.4 512.9 552.1 513.2 568.6 513.6 587.8 513.9 593.2 514.3 597.3 514.6 602.1 515.0 601.8 515.3 608.4 515.7 608.6 516.0 609.5 516.4 611.9 516.7 613.3 517.1 614.1 517.4 613.7 517.8 615.4 518.1 614.1 518.5 618.3 518.8 615.7 519.2 616.5 519.5 616.7 519.9 618.8 520.2 618.0 520.6 620.2 520.9 618.1 521.3 619.1 521.6 619.0 522.0 618.9 522.3 620.8 522.7 621.2 523.0 621.5 523.4 618.5 523.7 620.8 524.1 619.3 524.4 619.5 524.8 619.0 525.1 620.2 525.5 622.2 525.8 623.3 526.2 623.9 526.5 621.1 526.9 621.6 527.2 622.7 527.6 622.8 527.9 623.0 528.3 620.9 528.6 622.7 529.0 623.7 529.3 623.4 529.7 623.0 530.0 622.4 530.4 623.2 530.7 625.2 531.1 624.0 531.4 624.7 531.8 625.4 532.1 622.4 532.5 624.4 532.8 624.2 533.2 625.2 533.5 623.5 533.9 623.6 534.2 623.1 534.6 624.1 534.9 623.6 535.3 623.8 535.6 624.4 536.0 623.6 536.3 623.0 536.7 623.6 537.0 623.5 537.4 624.6 537.7 625.6 538.1 623.8 538.4 621.5 538.8 624.9 539.1 624.2 539.5 623.3 539.8 624.1 540.2 626.5 540.5 622.7 540.9 623.1 541.2 624.4 541.6 621.0 541.9 624.0 542.3 625.6 542.6 625.2 543.0 625.0 543.3 624.2 543.7 624.5 544.0 627.8 544.4 625.0 544.7 626.2 545.1 623.3 545.4 625.1 545.8 625.2 546.1 625.0 546.5 622.4 546.8 624.4 547.2 626.5 547.5 625.5 547.9 624.0 548.2 625.9 548.6 622.8 548.9 625.6 549.3 625.3 549.6 624.3 550.0 623.8 550.3 623.1 550.7 624.7 551.0 626.9 551.4 625.9 551.7 625.4 552.1 626.0 552.4 624.3 552.8 625.5 553.1 621.7 553.5 624.4 553.8 624.4 554.2 624.8 554.5 624.7 554.9 625.6 555.2 624.2 555.6 625.9 555.9 624.6 556.3 625.9 556.6 625.0 557.0 625.8 557.3 625.4 557.7 624.2 558.0 625.1 558.4 623.4 558.7 624.9 559.1 625.2 559.4 624.5 559.8 624.6 560.1 625.9 560.5 626.1 560.8 626.4 561.2 624.1 561.5 624.3 561.9 625.6 562.2 625.7 562.6 622.7 562.9 626.9 563.3 626.0 563.6 623.3 564.0 626.0 564.3 624.2 564.7 624.6 565.0 623.6 565.4 623.8 565.7 624.2 566.1 624.8 566.4 623.4 566.8 624.6 567.1 623.8 567.5 624.0 567.8 623.6 568.2 623.9 568.5 626.4 568.9 622.8 569.2 623.1 569.6 624.5 569.9 624.0 570.3 623.4 570.6 625.0 571.0 623.2 571.3 624.5 571.7 625.6 572.0 625.1 572.4 624.1 572.7 624.4 573.1 624.6 573.4 625.1 573.8 623.3 574.1 625.8 574.5 625.2 574.8 626.4 575.2 625.3 575.5 625.5 575.9 621.0 576.2 623.8 576.6 626.3 576.9 624.7 577.3 623.7 577.6 625.0 578.0 624.3 578.3 624.6 578.7 623.3 579.0 624.7 579.4 625.8 579.7 624.3 580.1 624.5 580.4 623.2 580.8 624.5 581.1 623.5 581.5 622.4 581.8 623.4 582.2 623.6 582.5 624.5 582.9 624.9 583.2 623.6 583.6 623.3 583.9 624.4 584.3 622.7 584.6 623.3 585.0 623.4 585.3 623.4 585.7 622.9 586.0 625.4 586.4 624.6 586.7 623.3 587.1 621.8 587.4 622.9 587.8 624.1 588.1 621.2 588.5 626.2 588.8 623.2 589.2 623.2 589.5 624.0 589.9 621.6 590.2 623.3 590.6 623.2 590.9 624.0 591.3 622.0 591.6 623.8 592.0 624.4 592.3 623.4 592.7 622.4 593.0 622.0 593.4 620.9 593.7 622.2 594.1 623.4 594.4 624.5 594.8 623.9 595.1 624.0 595.5 622.1 595.8 622.1 596.2 620.7 596.5 621.7 596.9 621.1 597.2 622.1 597.6 623.1 597.9 622.1 598.3 621.8 598.6 622.9 599.0 623.8 599.3 623.3 599.7 620.0 600.0 624.0 600.4 621.4 600.7 620.2 601.1 621.4 601.4 622.9 601.8 618.6 602.1 623.2 602.5 621.9 602.8 622.2 603.2 619.9 603.5 620.8 603.9 620.1 604.2 622.8 604.6 620.5 604.9 621.8 605.3 620.5 605.6 619.3 606.0 622.3 606.3 622.6 606.7 622.9 607.0 620.5 607.4 621.2 607.7 621.9 608.1 621.5 608.4 621.3 608.8 623.8 609.1 620.6 609.5 622.1 609.8 620.4 610.2 622.7 610.5 620.8 610.9 619.9 611.2 621.9 611.6 621.1 611.9 620.6 612.3 620.8 612.6 620.4 613.0 621.7 613.3 621.5 613.7 623.1 614.0 620.4 614.4 622.9 614.7 621.9 615.1 619.6 615.4 623.0 615.8 619.3 616.1 621.9 616.5 619.2 616.8 621.7 617.2 621.0 617.5 621.2 617.9 619.3 618.2 620.7 618.6 623.0 618.9 622.4 619.3 621.6 619.6 621.6 620.0 621.0 620.3 623.5 620.7 621.8 621.0 623.2 621.4 620.2 621.7 620.2 622.1 623.6 622.4 621.1 622.8 621.9 623.1 622.7 623.5 623.3 623.8 623.0 624.2 623.0 624.5 624.2 624.9 622.7 625.2 623.5 625.6 622.5 625.9 622.7 626.3 624.8 626.6 622.3 627.0 619.7 627.3 622.8 627.7 622.9 628.0 624.9 628.4 622.4 628.7 621.5 629.1 623.0 629.4 625.0 629.8 622.5 630.1 624.4 630.5 623.6 630.8 623.8 631.2 622.1 631.5 623.1 631.9 622.2 632.2 623.1 632.6 622.3 632.9 624.4 633.3 622.6 633.6 622.9 634.0 620.7 634.3 622.1 634.7 626.1 635.0 622.9 635.4 621.5 635.7 623.3 636.1 623.1 636.4 622.8 636.8 623.1 637.1 622.9 637.5 624.6 637.8 622.2 638.2 623.8 638.5 624.6 638.9 622.6 639.2 626.2 639.6 623.8 639.9 623.6 640.3 623.1 640.6 624.7 641.0 622.0 641.3 624.5 641.7 626.4 642.0 624.3 642.4 624.9 642.7 622.9 643.1 624.9 643.4 623.2 643.8 623.6 644.1 624.1 644.5 626.3 644.8 623.5 645.2 622.0 645.5 624.4 645.9 625.2 646.2 625.1 646.6 624.6 646.9 625.9 647.3 625.4 647.6 625.4 648.0 624.0 648.3 622.9 648.7 626.4 649.0 623.6 649.4 626.1 649.7 626.0 650.1 623.3 650.4 624.0 650.8 625.2 651.1 625.8 651.5 623.7 651.8 624.5 652.2 623.7 652.5 623.5 652.9 625.0 653.2 624.3 653.6 622.6 653.9 625.4 654.3 624.5 654.6 624.5 655.0 623.5 655.3 625.8 655.7 625.4 656.0 625.4 656.4 625.0 656.7 625.5 657.1 626.9 657.4 625.4 657.8 625.4 658.1 624.7 658.5 626.0 658.8 625.0 659.2 624.5 659.5 626.6 659.9 625.1 660.2 624.4 660.6 624.6 660.9 624.8 661.3 624.2 661.6 627.1 662.0 626.1 662.3 623.9 662.7 626.8 663.0 625.1 663.4 625.8 663.7 625.1 664.1 626.0 664.4 626.0 664.8 626.5 665.1 626.6 665.5 622.8 665.8 625.1 666.2 625.6 666.5 625.4" stroke="#ffc000" stroke-width="3.0" fill="none" stroke-linejoin="round"/>
<path d="M61.0 596.1L61.4 590.4 61.7 595.2 62.1 594.2 62.4 595.7 62.8 594.6 63.1 596.3 63.5 594.3 63.8 593.7 64.2 595.1 64.5 595.0 64.9 594.1 65.2 594.3 65.6 595.5 65.9 595.6 66.3 594.3 66.6 594.6 67.0 593.0 67.3 597.1 67.7 595.0 68.0 596.9 68.4 596.0 68.7 597.9 69.1 597.5 69.4 596.2 69.8 597.7 70.1 595.0 70.5 597.7 70.8 594.7 71.2 596.9 71.5 597.9 71.9 597.0 72.2 596.5 72.6 596.1 72.9 596.8 73.3 598.5 73.6 598.5 74.0 597.3 74.3 596.3 74.7 598.6 75.0 596.3 75.4 597.5 75.7 597.4 76.1 599.2 76.4 598.7 76.8 599.1 77.1 599.0 77.5 598.0 77.8 599.5 78.2 600.6 78.5 599.1 78.9 599.9 79.2 599.2 79.6 600.5 79.9 600.2 80.3 600.5 80.6 600.0 81.0 601.5 81.3 599.4 81.7 599.5 82.0 599.3 82.4 600.7 82.7 599.4 83.1 599.5 83.4 601.1 83.8 601.7 84.1 601.1 84.5 597.6 84.8 599.6 85.2 599.5 85.5 599.5 85.9 600.4 86.2 603.0 86.6 600.7 86.9 600.3 87.3 602.0 87.6 601.4 88.0 601.5 88.3 600.7 88.7 601.5 89.0 602.1 89.4 599.6 89.7 600.0 90.1 603.0 90.4 602.8 90.8 601.4 91.1 600.9 91.5 601.9 91.8 600.9 92.2 601.9 92.5 604.1 92.9 602.5 93.2 603.7 93.6 602.2 93.9 602.9 94.3 604.1 94.6 601.2 95.0 602.3 95.3 602.5 95.7 603.0 96.0 604.5 96.4 603.6 96.7 601.2 97.1 602.6 97.4 601.9 97.8 601.9 98.1 605.1 98.5 601.8 98.8 603.2 99.2 602.2 99.5 603.9 99.9 603.4 100.2 603.1 100.6 602.9 100.9 604.2 101.3 602.0 101.6 602.2 102.0 601.8 102.3 604.4 102.7 602.7 103.0 601.9 103.4 602.5 103.7 605.6 104.1 602.8 104.4 603.9 104.8 603.4 105.1 602.9 105.5 602.2 105.8 602.5 106.2 602.5 106.5 600.5 106.9 605.6 107.2 603.8 107.6 603.0 107.9 602.6 108.3 601.9 108.6 603.8 109.0 602.6 109.3 603.3 109.7 601.2 110.0 603.1 110.4 604.8 110.7 602.4 111.1 603.5 111.4 602.7 111.8 603.8 112.1 603.7 112.5 602.6 112.8 601.9 113.2 602.8 113.5 602.5 113.9 601.8 114.2 602.9 114.6 602.9 114.9 601.4 115.3 602.2 115.6 605.5 116.0 603.2 116.3 602.4 116.7 605.0 117.0 601.7 117.4 599.5 117.7 600.1 118.1 600.5 118.4 602.4 118.8 603.2 119.1 599.7 119.5 603.3 119.8 600.7 120.2 602.3 120.5 602.5 120.9 602.4 121.2 601.9 121.6 602.0 121.9 600.6 122.3 602.1 122.6 602.8 123.0 602.7 123.3 604.5 123.7 602.7 124.0 602.3 124.4 603.3 124.7 601.6 125.1 599.9 125.4 598.8 125.8 602.6 126.1 601.7 126.5 602.0 126.8 600.6 127.2 601.3 127.5 602.9 127.9 601.1 128.2 599.5 128.6 600.1 128.9 602.0 129.3 599.2 129.6 597.5 130.0 597.7 130.3 598.7 130.7 601.0 131.0 600.1 131.4 599.1 131.7 598.4 132.1 599.6 132.4 599.5 132.8 598.9 133.1 599.2 133.5 598.5 133.8 601.3 134.2 596.5 134.5 599.2 134.9 597.8 135.2 599.6 135.6 598.5 135.9 599.1 136.3 599.2 136.6 598.7 137.0 599.5 137.3 596.7 137.7 599.2 138.0 597.8 138.4 598.4 138.7 599.6 139.1 599.0 139.4 599.9 139.8 595.0 140.1 596.4 140.5 598.5 140.8 596.0 141.2 597.0 141.5 599.0 141.9 598.0 142.2 595.8 142.6 597.3 142.9 597.4 143.3 596.6 143.6 596.3 144.0 596.5 144.3 594.5 144.7 596.3 145.0 594.9 145.4 596.4 145.7 596.3 146.1 594.6 146.4 596.3 146.8 595.9 147.1 595.3 147.5 596.0 147.8 594.7 148.2 594.6 148.5 594.9 148.9 594.7 149.2 595.9 149.6 591.7 149.9 594.0 150.3 591.9 150.6 593.5 151.0 594.2 151.3 593.8 151.7 594.8 152.0 593.9 152.4 590.2 152.7 591.9 153.1 594.9 153.4 594.8 153.8 592.9 154.1 590.8 154.5 595.1 154.8 589.9 155.2 592.6 155.5 592.0 155.9 592.2 156.2 590.3 156.6 591.1 156.9 592.7 157.3 590.7 157.6 589.4 158.0 590.9 158.3 590.8 158.7 590.4 159.0 589.4 159.4 590.9 159.7 589.9 160.1 588.5 160.4 590.0 160.8 589.5 161.1 589.5 161.5 587.1 161.8 588.0 162.2 589.3 162.5 589.7 162.9 588.7 163.2 588.3 163.6 588.8 163.9 588.9 164.3 589.6 164.6 587.8 165.0 586.3 165.3 587.4 165.7 584.1 166.0 586.4 166.4 585.5 166.7 585.8 167.1 586.2 167.4 585.4 167.8 583.2 168.1 584.3 168.5 583.5 168.8 584.2 169.2 584.4 169.5 582.5 169.9 584.4 170.2 584.8 170.6 582.5 170.9 583.5 171.3 580.4 171.6 581.3 172.0 582.9 172.3 579.1 172.7 580.5 173.0 579.6 173.4 582.0 173.7 581.7 174.1 579.1 174.4 579.7 174.8 575.8 175.1 580.1 175.5 579.1 175.8 580.1 176.2 574.8 176.5 578.1 176.9 576.9 177.2 573.6 177.6 575.8 177.9 576.3 178.3 577.1 178.6 576.0 179.0 574.6 179.3 575.5 179.7 574.4 180.0 573.2 180.4 572.3 180.7 573.5 181.1 573.1 181.4 575.0 181.8 571.5 182.1 574.0 182.5 572.0 182.8 572.8 183.2 569.5 183.5 569.3 183.9 569.7 184.2 571.1 184.6 569.8 184.9 570.3 185.3 569.4 185.6 570.1 186.0 568.7 186.3 567.4 186.7 568.6 187.0 567.7 187.4 569.8 187.7 566.8 188.1 566.9 188.4 566.0 188.8 567.8 189.1 567.2 189.5 566.6 189.8 563.6 190.2 562.9 190.5 565.2 190.9 565.6 191.2 566.5 191.6 561.4 191.9 563.5 192.3 561.1 192.6 561.9 193.0 562.7 193.3 564.2 193.7 561.7 194.0 561.1 194.4 561.5 194.7 563.5 195.1 565.0 195.4 558.8 195.8 560.4 196.1 559.9 196.5 562.0 196.8 560.7 197.2 562.0 197.5 557.9 197.9 559.1 198.2 558.1 198.6 556.8 198.9 558.0 199.3 556.1 199.6 560.9 200.0 557.9 200.3 555.4 200.7 555.7 201.0 558.9 201.4 555.2 201.7 556.6 202.1 556.1 202.4 556.5 202.8 555.5 203.1 553.8 203.5 552.8 203.8 550.6 204.2 552.9 204.5 552.8 204.9 551.7 205.2 551.6 205.6 549.5 205.9 554.5 206.3 549.9 206.6 548.6 207.0 548.9 207.3 549.2 207.7 550.3 208.0 544.8 208.4 549.1 208.7 546.9 209.1 547.2 209.4 548.7 209.8 547.9 210.1 545.1 210.5 545.7 210.8 548.5 211.2 547.3 211.5 546.1 211.9 544.2 212.2 545.4 212.6 544.1 212.9 542.1 213.3 540.9 213.6 543.1 214.0 542.5 214.3 543.5 214.7 540.2 215.0 543.0 215.4 539.6 215.7 542.0 216.1 540.4 216.4 538.1 216.8 537.1 217.1 538.1 217.5 537.5 217.8 539.2 218.2 536.0 218.5 534.3 218.9 536.4 219.2 539.5 219.6 538.6 219.9 534.3 220.3 534.6 220.6 535.3 221.0 533.2 221.3 533.6 221.7 533.2 222.0 531.5 222.4 531.9 222.7 531.8 223.1 532.8 223.4 529.9 223.8 531.9 224.1 529.6 224.5 529.6 224.8 528.7 225.2 537.6 225.5 532.3 225.9 532.2 226.2 530.9 226.6 528.7 226.9 528.9 227.3 529.0 227.6 528.9 228.0 528.9 228.3 530.3 228.7 521.7 229.0 525.8 229.4 527.8 229.7 525.6 230.1 525.6 230.4 528.4 230.8 525.7 231.1 528.3 231.5 524.6 231.8 524.8 232.2 522.1 232.5 520.0 232.9 522.7 233.2 523.3 233.6 522.2 233.9 520.0 234.3 523.5 234.6 522.1 235.0 521.7 235.3 519.9 235.7 524.2 236.0 523.6 236.4 521.0 236.7 519.9 237.1 520.3 237.4 522.8 237.8 524.7 238.1 519.0 238.5 517.9 238.8 514.9 239.2 523.5 239.5 515.7 239.9 519.2 240.2 518.2 240.6 519.5 240.9 515.0 241.3 513.2 241.6 516.3 242.0 516.6 242.3 517.7 242.7 511.9 243.0 514.0 243.4 514.0 243.7 511.6 244.1 513.6 244.4 515.2 244.8 513.2 245.1 510.2 245.5 513.4 245.8 514.1 246.2 513.1 246.5 513.3 246.9 508.2 247.2 512.1 247.6 512.0 247.9 509.8 248.3 510.1 248.6 508.4 249.0 512.1 249.3 508.7 249.7 507.1 250.0 509.1 250.4 508.7 250.7 509.5 251.1 506.2 251.4 506.2 251.8 508.1 252.1 511.6 252.5 507.7 252.8 503.7 253.2 506.6 253.5 504.4 253.9 501.9 254.2 504.1 254.6 504.0 254.9 505.8 255.3 507.4 255.6 506.8 256.0 505.9 256.3 503.1 256.7 504.1 257.0 503.5 257.4 506.3 257.7 501.8 258.1 501.8 258.4 505.9 258.8 503.8 259.1 501.5 259.5 502.6 259.8 502.4 260.2 502.3 260.5 503.5 260.9 502.4 261.2 501.1 261.6 500.3 261.9 497.6 262.3 500.1 262.6 503.3 263.0 501.2 263.3 499.3 263.7 500.0 264.0 498.6 264.4 500.8 264.7 504.3 265.1 503.8 265.4 502.4 265.8 501.4 266.1 499.1 266.5 496.9 266.8 499.4 267.2 498.3 267.5 500.9 267.9 499.4 268.2 497.7 268.6 499.8 268.9 504.9 269.3 496.7 269.6 500.9 270.0 499.6 270.3 498.1 270.7 496.6 271.0 498.1 271.4 498.4 271.7 499.5 272.1 499.3 272.4 498.3 272.8 496.1 273.1 498.1 273.5 496.4 273.8 495.0 274.2 499.1 274.5 495.7 274.9 494.4 275.2 497.1 275.6 492.7 275.9 496.6 276.3 497.6 276.6 495.6 277.0 496.9 277.3 500.9 277.7 499.3 278.0 498.1 278.4 497.3 278.7 494.8 279.1 495.6 279.4 495.2 279.8 495.7 280.1 495.8 280.5 493.8 280.8 498.9 281.2 493.1 281.5 496.0 281.9 497.3 282.2 494.9 282.6 493.5 282.9 494.9 283.3 498.9 283.6 495.9 284.0 493.9 284.3 495.6 284.7 493.8 285.0 490.1 285.4 494.6 285.7 496.2 286.1 496.4 286.4 493.6 286.8 490.6 287.1 496.1 287.5 493.1 287.8 494.9 288.2 495.7 288.5 493.8 288.9 492.9 289.2 491.5 289.6 491.8 289.9 492.7 290.3 491.5 290.6 493.2 291.0 488.1 291.3 490.0 291.7 492.1 292.0 490.5 292.4 490.7 292.7 489.3 293.1 493.2 293.4 495.1 293.8 489.3 294.1 493.9 294.5 488.0 294.8 491.4 295.2 486.6 295.5 491.9 295.9 490.8 296.2 490.9 296.6 493.1 296.9 491.6 297.3 490.0 297.6 488.1 298.0 489.8 298.3 487.9 298.7 488.2 299.0 492.1 299.4 490.4 299.7 488.6 300.1 488.8 300.4 483.4 300.8 485.9 301.1 480.7 301.5 481.4 301.8 481.9 302.2 479.6 302.5 477.6 302.9 473.1 303.2 469.2 303.6 465.1 303.9 464.2 304.3 459.8 304.6 449.3 305.0 450.2 305.3 451.4 305.7 447.7 306.0 450.5 306.4 451.5 306.7 454.0 307.1 461.6 307.4 464.8 307.8 469.7 308.1 470.6 308.5 474.8 308.8 480.3 309.2 482.1 309.5 486.5 309.9 484.7 310.2 490.1 310.6 490.9 310.9 490.8 311.3 492.8 311.6 491.8 312.0 492.1 312.3 492.9 312.7 490.6 313.0 493.6 313.4 495.6 313.7 490.7 314.1 495.9 314.4 493.2 314.8 494.0 315.1 495.1 315.5 495.6 315.8 498.2 316.2 495.1 316.5 499.2 316.9 495.7 317.2 496.8 317.6 497.3 317.9 494.5 318.3 493.6 318.6 496.3 319.0 497.7 319.3 498.1 319.7 495.6 320.0 500.2 320.4 496.3 320.7 495.2 321.1 499.2 321.4 499.4 321.8 494.8 322.1 498.7 322.5 494.3 322.8 497.2 323.2 502.0 323.5 500.0 323.9 498.8 324.2 498.7 324.6 495.6 324.9 498.2 325.3 498.5 325.6 495.4 326.0 498.1 326.3 498.9 326.7 498.2 327.0 498.7 327.4 497.4 327.7 495.5 328.1 498.0 328.4 493.9 328.8 496.6 329.1 500.5 329.5 502.0 329.8 499.1 330.2 493.2 330.5 501.2 330.9 499.6 331.2 498.1 331.6 500.2 331.9 499.8 332.3 496.2 332.6 496.1 333.0 501.2 333.3 494.2 333.7 500.5 334.0 500.0 334.4 501.5 334.7 503.3 335.1 502.6 335.4 503.3 335.8 501.9 336.1 501.4 336.5 502.8 336.8 500.8 337.2 499.1 337.5 501.1 337.9 498.1 338.2 500.6 338.6 506.2 338.9 503.3 339.3 502.1 339.6 501.5 340.0 499.3 340.3 502.1 340.7 501.9 341.0 503.8 341.4 504.2 341.7 504.2 342.1 500.7 342.4 507.9 342.8 506.1 343.1 505.5 343.5 505.1 343.8 506.9 344.2 508.9 344.5 507.8 344.9 504.5 345.2 504.6 345.6 502.7 345.9 508.0 346.3 509.4 346.6 510.7 347.0 508.8 347.3 510.5 347.7 507.2 348.0 510.4 348.4 509.4 348.7 508.5 349.1 506.7 349.4 512.7 349.8 506.1 350.1 512.1 350.5 509.5 350.8 512.5 351.2 510.4 351.5 513.2 351.9 511.5 352.2 510.0 352.6 511.3 352.9 509.3 353.3 513.2 353.6 514.9 354.0 513.9 354.3 513.4 354.7 515.9 355.0 511.3 355.4 514.8 355.7 513.9 356.1 513.2 356.4 515.3 356.8 512.2 357.1 514.3 357.5 515.4 357.8 512.7 358.2 514.7 358.5 516.3 358.9 517.3 359.2 513.8 359.6 517.5 359.9 515.3 360.3 516.3 360.6 515.2 361.0 517.9 361.3 515.2 361.7 517.3 362.0 517.6 362.4 518.5 362.7 515.2 363.1 518.8 363.4 517.6 363.8 520.4 364.1 517.1 364.5 516.9 364.8 518.0 365.2 517.7 365.5 518.1 365.9 516.1 366.2 514.7 366.6 516.1 366.9 517.9 367.3 520.0 367.6 518.8 368.0 517.7 368.3 519.4 368.7 520.0 369.0 525.3 369.4 522.6 369.7 520.7 370.1 517.8 370.4 520.4 370.8 520.3 371.1 522.1 371.5 525.2 371.8 521.3 372.2 517.8 372.5 521.5 372.9 518.8 373.2 523.7 373.6 524.4 373.9 523.1 374.3 519.9 374.6 522.5 375.0 525.3 375.3 521.3 375.7 522.3 376.0 524.1 376.4 524.7 376.7 524.1 377.1 524.8 377.4 524.7 377.8 523.5 378.1 524.6 378.5 525.5 378.8 523.1 379.2 525.7 379.5 525.7 379.9 526.6 380.2 526.5 380.6 524.2 380.9 524.0 381.3 526.9 381.6 526.4 382.0 527.1 382.3 526.0 382.7 524.9 383.0 528.0 383.4 527.4 383.7 529.0 384.1 530.0 384.4 530.2 384.8 530.2 385.1 526.9 385.5 525.0 385.8 527.9 386.2 527.0 386.5 527.0 386.9 530.8 387.2 526.9 387.6 531.6 387.9 532.2 388.3 535.2 388.6 532.4 389.0 534.5 389.3 529.8 389.7 529.9 390.0 533.1 390.4 529.2 390.7 533.7 391.1 531.4 391.4 528.6 391.8 535.6 392.1 530.4 392.5 537.1 392.8 530.2 393.2 531.5 393.5 533.5 393.9 533.4 394.2 530.7 394.6 533.9 394.9 534.2 395.3 534.8 395.6 531.4 396.0 533.3 396.3 534.4 396.7 536.1 397.0 535.2 397.4 534.5 397.7 534.5 398.1 538.0 398.4 534.1 398.8 536.3 399.1 532.1 399.5 539.0 399.8 537.0 400.2 533.3 400.5 537.6 400.9 539.1 401.2 538.3 401.6 537.2 401.9 538.7 402.3 536.1 402.6 537.1 403.0 537.1 403.3 538.0 403.7 536.3 404.0 540.6 404.4 538.2 404.7 536.7 405.1 538.4 405.4 539.6 405.8 539.2 406.1 541.2 406.5 538.9 406.8 538.3 407.2 540.7 407.5 542.2 407.9 538.6 408.2 537.7 408.6 539.5 408.9 540.6 409.3 539.2 409.6 541.4 410.0 539.9 410.3 543.0 410.7 539.7 411.0 540.4 411.4 542.2 411.7 543.4 412.1 544.1 412.4 541.6 412.8 543.0 413.1 544.0 413.5 545.7 413.8 542.1 414.2 541.7 414.5 544.8 414.9 543.8 415.2 546.7 415.6 544.7 415.9 545.5 416.3 543.9 416.6 545.9 417.0 547.7 417.3 545.5 417.7 544.2 418.0 547.8 418.4 546.1 418.7 547.0 419.1 546.0 419.4 548.9 419.8 546.4 420.1 547.1 420.5 548.1 420.8 548.1 421.2 545.0 421.5 549.7 421.9 547.3 422.2 549.8 422.6 549.0 422.9 549.7 423.3 549.0 423.6 548.7 424.0 550.9 424.3 551.3 424.7 552.8 425.0 552.3 425.4 550.6 425.7 553.8 426.1 555.7 426.4 553.6 426.8 552.4 427.1 551.5 427.5 553.4 427.8 551.2 428.2 555.0 428.5 553.4 428.9 553.3 429.2 554.9 429.6 552.8 429.9 552.3 430.3 554.5 430.6 557.3 431.0 554.4 431.3 557.2 431.7 553.3 432.0 556.3 432.4 557.4 432.7 559.5 433.1 554.3 433.4 557.1 433.8 556.1 434.1 558.2 434.5 557.1 434.8 558.3 435.2 557.2 435.5 557.7 435.9 559.4 436.2 561.3 436.6 559.5 436.9 559.6 437.3 558.9 437.6 562.2 438.0 557.2 438.3 557.3 438.7 559.3 439.0 561.4 439.4 562.3 439.7 562.0 440.1 562.4 440.4 561.8 440.8 561.1 441.1 560.4 441.5 562.8 441.8 561.0 442.2 563.2 442.5 563.9 442.9 562.1 443.2 562.5 443.6 562.6 443.9 564.6 444.3 564.0 444.6 563.0 445.0 564.6 445.3 566.6 445.7 565.0 446.0 565.0 446.4 564.5 446.7 563.9 447.1 565.5 447.4 565.8 447.8 565.4 448.1 567.8 448.5 565.9 448.8 566.3 449.2 567.0 449.5 567.6 449.9 564.5 450.2 567.7 450.6 569.3 450.9 566.1 451.3 568.5 451.6 567.4 452.0 566.9 452.3 568.9 452.7 568.6 453.0 566.0 453.4 568.3 453.7 570.5 454.1 568.8 454.4 568.8 454.8 569.5 455.1 569.6 455.5 571.5 455.8 569.5 456.2 569.3 456.5 571.7 456.9 572.7 457.2 572.5 457.6 572.9 457.9 571.1 458.3 570.2 458.6 571.5 459.0 572.6 459.3 570.5 459.7 572.7 460.0 574.1 460.4 572.6 460.7 576.4 461.1 574.9 461.4 572.5 461.8 572.8 462.1 573.6 462.5 575.7 462.8 575.6 463.2 574.4 463.5 575.6 463.9 576.7 464.2 576.5 464.6 573.9 464.9 574.7 465.3 575.2 465.6 574.3 466.0 577.9 466.3 576.1 466.7 576.3 467.0 576.2 467.4 577.9 467.7 578.4 468.1 578.7 468.4 579.7 468.8 577.0 469.1 580.5 469.5 581.8 469.8 578.0 470.2 578.4 470.5 579.8 470.9 580.8 471.2 579.0 471.6 578.5 471.9 582.4 472.3 579.2 472.6 576.5 473.0 580.9 473.3 581.6 473.7 582.7 474.0 583.0 474.4 584.9 474.7 580.3 475.1 580.0 475.4 579.5 475.8 583.8 476.1 581.2 476.5 579.8 476.8 579.4 477.2 582.4 477.5 581.8 477.9 582.9 478.2 581.6 478.6 581.9 478.9 583.6 479.3 582.8 479.6 584.0 480.0 583.2 480.3 583.1 480.7 584.0 481.0 583.3 481.4 584.0 481.7 584.4 482.1 583.3 482.4 583.9 482.8 584.2 483.1 585.0 483.5 584.5 483.8 584.5 484.2 584.8 484.5 583.9 484.9 584.7 485.2 583.4 485.6 582.0 485.9 584.8 486.3 581.8 486.6 584.0 487.0 586.1 487.3 585.1 487.7 582.8 488.0 585.0 488.4 584.3 488.7 582.9 489.1 583.8 489.4 583.2 489.8 583.4 490.1 584.1 490.5 581.7 490.8 584.6 491.2 586.0 491.5 583.2 491.9 582.1 492.2 582.7 492.6 584.6 492.9 582.4 493.3 583.5 493.6 585.6 494.0 581.6 494.3 582.4 494.7 581.3 495.0 581.3 495.4 581.6 495.7 580.1 496.1 581.2 496.4 580.4 496.8 581.3 497.1 580.1 497.5 579.2 497.8 580.1 498.2 577.2 498.5 577.7 498.9 575.3 499.2 577.4 499.6 573.7 499.9 575.0 500.3 571.4 500.6 571.1 501.0 567.4 501.3 565.7 501.7 563.0 502.0 562.4 502.4 559.5 502.7 555.7 503.1 549.8 503.4 542.4 503.8 536.7 504.1 530.3 504.5 518.1 504.8 506.1 505.2 495.2 505.5 484.9 505.9 466.1 506.2 450.5 506.6 433.5 506.9 419.0 507.3 403.9 507.6 390.7 508.0 384.2 508.3 374.3 508.7 361.2 509.0 353.0 509.4 350.8 509.7 350.4 510.1 356.3 510.4 366.8 510.8 378.1 511.1 423.3 511.5 484.4 511.8 492.8 512.2 503.6 512.5 508.8 512.9 516.3 513.2 524.8 513.6 532.9 513.9 539.1 514.3 544.2 514.6 552.8 515.0 556.5 515.3 561.8 515.7 564.3 516.0 567.6 516.4 570.6 516.7 570.4 517.1 577.2 517.4 576.3 517.8 579.7 518.1 581.2 518.5 581.0 518.8 581.1 519.2 584.6 519.5 583.6 519.9 585.6 520.2 587.0 520.6 586.6 520.9 585.8 521.3 587.7 521.6 589.7 522.0 588.6 522.3 591.1 522.7 588.6 523.0 589.7 523.4 589.1 523.7 590.5 524.1 593.7 524.4 593.0 524.8 592.3 525.1 592.2 525.5 594.5 525.8 593.3 526.2 592.6 526.5 595.8 526.9 592.7 527.2 594.6 527.6 595.3 527.9 595.9 528.3 597.2 528.6 596.0 529.0 594.3 529.3 596.5 529.7 595.6 530.0 594.0 530.4 594.2 530.7 594.6 531.1 593.1 531.4 596.1 531.8 596.4 532.1 596.3 532.5 594.9 532.8 595.8 533.2 597.3 533.5 596.5 533.9 595.9 534.2 595.3 534.6 596.1 534.9 597.7 535.3 596.3 535.6 598.9 536.0 599.1 536.3 597.2 536.7 594.6 537.0 596.2 537.4 597.9 537.7 595.9 538.1 595.8 538.4 596.6 538.8 599.7 539.1 596.1 539.5 594.5 539.8 597.0 540.2 597.2 540.5 597.6 540.9 596.9 541.2 597.2 541.6 596.3 541.9 597.9 542.3 596.9 542.6 597.5 543.0 596.1 543.3 598.5 543.7 597.3 544.0 596.5 544.4 597.1 544.7 595.8 545.1 596.4 545.4 598.0 545.8 597.8 546.1 598.1 546.5 597.9 546.8 596.8 547.2 597.3 547.5 599.3 547.9 597.1 548.2 595.4 548.6 597.2 548.9 596.7 549.3 597.1 549.6 597.2 550.0 596.0 550.3 597.7 550.7 597.0 551.0 597.8 551.4 596.4 551.7 596.0 552.1 596.7 552.4 599.0 552.8 595.1 553.1 598.4 553.5 597.1 553.8 598.4 554.2 596.7 554.5 597.6 554.9 597.5 555.2 599.5 555.6 597.0 555.9 597.4 556.3 596.3 556.6 597.5 557.0 596.3 557.3 597.0 557.7 597.5 558.0 597.7 558.4 596.1 558.7 596.1 559.1 598.4 559.4 596.5 559.8 597.3 560.1 596.8 560.5 595.3 560.8 597.0 561.2 596.9 561.5 599.1 561.9 594.9 562.2 596.5 562.6 597.7 562.9 596.4 563.3 594.6 563.6 597.7 564.0 597.2 564.3 596.1 564.7 595.9 565.0 596.2 565.4 597.2 565.7 596.8 566.1 596.3 566.4 597.4 566.8 598.2 567.1 596.3 567.5 598.7 567.8 597.0 568.2 597.6 568.5 597.4 568.9 597.5 569.2 597.2 569.6 594.4 569.9 595.8 570.3 597.9 570.6 595.7 571.0 597.0 571.3 595.1 571.7 596.2 572.0 598.6 572.4 597.1 572.7 595.8 573.1 596.1 573.4 594.9 573.8 597.3 574.1 596.5 574.5 597.6 574.8 597.6 575.2 596.4 575.5 595.6 575.9 595.3 576.2 596.2 576.6 596.6 576.9 598.2 577.3 595.5 577.6 597.1 578.0 595.4 578.3 595.9 578.7 597.4 579.0 597.1 579.4 595.8 579.7 595.7 580.1 597.7 580.4 596.2 580.8 596.0 581.1 595.1 581.5 599.2 581.8 598.4 582.2 596.9 582.5 598.8 582.9 596.8 583.2 595.9 583.6 596.8 583.9 597.8 584.3 594.9 584.6 597.6 585.0 597.5 585.3 597.9 585.7 596.7 586.0 597.4 586.4 594.2 586.7 596.0 587.1 597.3 587.4 596.7 587.8 596.4 588.1 594.6 588.5 595.8 588.8 594.0 589.2 595.7 589.5 596.4 589.9 595.4 590.2 596.5 590.6 595.9 590.9 596.9 591.3 595.5 591.6 594.1 592.0 594.4 592.3 595.0 592.7 595.8 593.0 595.9 593.4 595.0 593.7 595.9 594.1 595.0 594.4 596.5 594.8 594.2 595.1 597.1 595.5 596.0 595.8 595.3 596.2 594.5 596.5 596.3 596.9 595.0 597.2 596.4 597.6 597.7 597.9 595.8 598.3 595.9 598.6 596.2 599.0 595.0 599.3 597.8 599.7 595.3 600.0 596.4 600.4 596.0 600.7 594.9 601.1 597.1 601.4 596.0 601.8 594.8 602.1 594.8 602.5 593.3 602.8 594.3 603.2 596.5 603.5 596.5 603.9 594.4 604.2 596.2 604.6 596.6 604.9 596.4 605.3 596.9 605.6 593.3 606.0 595.7 606.3 594.4 606.7 596.2 607.0 594.6 607.4 595.5 607.7 596.4 608.1 593.6 608.4 594.6 608.8 594.6 609.1 595.3 609.5 593.6 609.8 596.3 610.2 597.6 610.5 595.0 610.9 595.9 611.2 592.3 611.6 593.9 611.9 596.1 612.3 595.6 612.6 596.1 613.0 596.8 613.3 595.4 613.7 595.0 614.0 594.7 614.4 595.4 614.7 592.8 615.1 597.0 615.4 592.8 615.8 593.4 616.1 595.3 616.5 596.3 616.8 595.9 617.2 597.0 617.5 594.7 617.9 594.5 618.2 595.9 618.6 593.9 618.9 595.5 619.3 595.8 619.6 595.6 620.0 592.9 620.3 595.0 620.7 592.9 621.0 596.2 621.4 594.7 621.7 596.4 622.1 596.7 622.4 593.7 622.8 596.3 623.1 595.7 623.5 597.0 623.8 593.8 624.2 593.8 624.5 594.3 624.9 593.1 625.2 595.4 625.6 594.4 625.9 595.5 626.3 595.7 626.6 596.2 627.0 593.7 627.3 596.1 627.7 596.1 628.0 594.1 628.4 594.6 628.7 593.6 629.1 596.7 629.4 596.8 629.8 594.3 630.1 595.2 630.5 595.7 630.8 596.1 631.2 595.2 631.5 597.2 631.9 594.2 632.2 596.3 632.6 595.4 632.9 595.7 633.3 594.5 633.6 593.4 634.0 594.8 634.3 596.0 634.7 594.5 635.0 593.5 635.4 595.3 635.7 595.5 636.1 594.4 636.4 595.5 636.8 596.1 637.1 595.9 637.5 596.7 637.8 597.1 638.2 595.7 638.5 594.9 638.9 593.8 639.2 597.0 639.6 596.3 639.9 597.1 640.3 595.0 640.6 596.1 641.0 595.1 641.3 595.0 641.7 594.4 642.0 595.9 642.4 596.7 642.7 597.1 643.1 596.5 643.4 596.0 643.8 598.6 644.1 598.1 644.5 597.6 644.8 596.6 645.2 597.9 645.5 595.7 645.9 595.1 646.2 597.3 646.6 596.8 646.9 597.9 647.3 595.8 647.6 597.1 648.0 595.6 648.3 596.4 648.7 597.4 649.0 596.8 649.4 595.8 649.7 595.3 650.1 596.5 650.4 596.0 650.8 595.4 651.1 597.2 651.5 596.1 651.8 598.6 652.2 599.5 652.5 598.4 652.9 600.4 653.2 595.9 653.6 595.3 653.9 597.1 654.3 595.3 654.6 597.5 655.0 598.4 655.3 598.3 655.7 598.5 656.0 597.2 656.4 597.4 656.7 597.8 657.1 597.5 657.4 598.6 657.8 597.2 658.1 597.6 658.5 596.9 658.8 598.8 659.2 597.9 659.5 597.9 659.9 597.2 660.2 595.8 660.6 597.3 660.9 595.4 661.3 597.8 661.6 596.5 662.0 599.4 662.3 597.3 662.7 597.9 663.0 597.5 663.4 596.8 663.7 596.4 664.1 595.3 664.4 597.4 664.8 595.9 665.1 599.5 665.5 596.8 665.8 597.6 666.2 598.3 666.5 598.1" stroke="#70ad47" stroke-width="3.0" fill="none" stroke-linejoin="round"/>
<path d="M61.0 565.1L61.4 563.2 61.7 562.6 62.1 561.0 62.4 564.2 62.8 566.2 63.1 564.9 63.5 565.6 63.8 566.3 64.2 564.1 64.5 568.5 64.9 564.3 65.2 566.0 65.6 568.9 65.9 565.6 66.3 566.0 66.6 565.4 67.0 566.6 67.3 563.8 67.7 565.7 68.0 568.6 68.4 567.0 68.7 566.6 69.1 567.5 69.4 567.7 69.8 567.5 70.1 568.2 70.5 565.7 70.8 568.5 71.2 567.2 71.5 569.1 71.9 568.3 72.2 567.3 72.6 568.5 72.9 567.6 73.3 570.1 73.6 569.1 74.0 570.2 74.3 568.1 74.7 571.4 75.0 569.4 75.4 571.4 75.7 571.0 76.1 568.9 76.4 570.7 76.8 569.8 77.1 571.1 77.5 572.4 77.8 571.7 78.2 572.2 78.5 569.8 78.9 571.5 79.2 571.8 79.6 572.8 79.9 571.0 80.3 572.4 80.6 572.4 81.0 570.3 81.3 571.0 81.7 572.8 82.0 571.1 82.4 571.2 82.7 573.7 83.1 573.1 83.4 572.7 83.8 573.2 84.1 572.8 84.5 572.7 84.8 573.0 85.2 574.1 85.5 575.2 85.9 573.4 86.2 574.0 86.6 573.9 86.9 572.9 87.3 574.7 87.6 575.5 88.0 573.8 88.3 575.8 88.7 574.3 89.0 576.4 89.4 576.6 89.7 574.9 90.1 573.3 90.4 575.2 90.8 574.2 91.1 574.4 91.5 575.7 91.8 577.5 92.2 576.1 92.5 576.0 92.9 574.3 93.2 575.8 93.6 575.0 93.9 577.2 94.3 576.2 94.6 576.8 95.0 576.9 95.3 576.8 95.7 578.1 96.0 577.6 96.4 576.8 96.7 577.4 97.1 577.9 97.4 578.8 97.8 577.5 98.1 579.0 98.5 576.8 98.8 577.2 99.2 575.9 99.5 578.4 99.9 576.4 100.2 576.4 100.6 578.4 100.9 576.9 101.3 576.7 101.6 578.5 102.0 577.3 102.3 578.5 102.7 577.0 103.0 578.3 103.4 578.6 103.7 577.6 104.1 579.4 104.4 577.0 104.8 577.2 105.1 577.5 105.5 578.5 105.8 577.1 106.2 576.9 106.5 577.7 106.9 578.7 107.2 576.9 107.6 576.0 107.9 577.2 108.3 578.0 108.6 576.7 109.0 577.4 109.3 575.3 109.7 577.3 110.0 577.4 110.4 577.9 110.7 577.5 111.1 578.0 111.4 576.1 111.8 577.9 112.1 575.3 112.5 576.5 112.8 578.3 113.2 578.0 113.5 575.0 113.9 577.7 114.2 576.5 114.6 576.1 114.9 577.2 115.3 577.1 115.6 578.4 116.0 575.3 116.3 576.4 116.7 576.7 117.0 574.8 117.4 578.1 117.7 578.7 118.1 576.1 118.4 577.1 118.8 576.4 119.1 577.0 119.5 575.9 119.8 577.5 120.2 575.3 120.5 578.0 120.9 576.9 121.2 579.1 121.6 574.6 121.9 576.3 122.3 575.0 122.6 576.2 123.0 576.7 123.3 575.2 123.7 574.6 124.0 574.2 124.4 576.2 124.7 577.3 125.1 577.2 125.4 575.8 125.8 574.7 126.1 575.2 126.5 573.9 126.8 573.8 127.2 576.6 127.5 575.0 127.9 575.6 128.2 574.8 128.6 576.5 128.9 576.5 129.3 574.0 129.6 574.3 130.0 573.9 130.3 576.0 130.7 575.8 131.0 574.0 131.4 576.8 131.7 574.2 132.1 572.7 132.4 571.7 132.8 573.7 133.1 574.1 133.5 572.9 133.8 573.9 134.2 574.7 134.5 573.2 134.9 574.1 135.2 574.9 135.6 573.5 135.9 572.2 136.3 573.2 136.6 573.2 137.0 574.9 137.3 571.9 137.7 570.5 138.0 572.5 138.4 572.4 138.7 571.4 139.1 572.4 139.4 572.0 139.8 573.0 140.1 570.5 140.5 570.6 140.8 571.2 141.2 570.6 141.5 572.5 141.9 571.6 142.2 570.8 142.6 572.4 142.9 571.2 143.3 571.6 143.6 571.3 144.0 570.1 144.3 570.0 144.7 570.0 145.0 568.6 145.4 569.4 145.7 570.6 146.1 569.9 146.4 568.3 146.8 572.0 147.1 568.0 147.5 569.7 147.8 569.7 148.2 570.3 148.5 567.6 148.9 568.5 149.2 568.2 149.6 569.6 149.9 568.6 150.3 568.5 150.6 568.5 151.0 570.0 151.3 568.4 151.7 568.5 152.0 566.2 152.4 568.0 152.7 565.5 153.1 568.0 153.4 566.9 153.8 565.5 154.1 565.1 154.5 566.2 154.8 566.3 155.2 565.3 155.5 565.4 155.9 565.3 156.2 564.9 156.6 565.1 156.9 565.5 157.3 566.6 157.6 565.6 158.0 564.0 158.3 566.4 158.7 565.7 159.0 563.8 159.4 565.2 159.7 563.1 160.1 562.7 160.4 562.5 160.8 565.2 161.1 563.2 161.5 563.2 161.8 562.7 162.2 561.9 162.5 562.8 162.9 562.8 163.2 564.1 163.6 560.4 163.9 563.1 164.3 561.8 164.6 558.6 165.0 561.7 165.3 562.3 165.7 561.3 166.0 560.0 166.4 559.6 166.7 556.7 167.1 559.3 167.4 558.8 167.8 557.1 168.1 558.3 168.5 556.9 168.8 560.3 169.2 555.6 169.5 555.7 169.9 553.8 170.2 555.7 170.6 556.1 170.9 555.6 171.3 554.4 171.6 556.1 172.0 554.9 172.3 555.9 172.7 553.8 173.0 551.3 173.4 553.1 173.7 551.7 174.1 553.8 174.4 551.5 174.8 551.7 175.1 551.6 175.5 549.3 175.8 550.5 176.2 551.8 176.5 549.5 176.9 549.7 177.2 549.8 177.6 548.4 177.9 548.5 178.3 549.2 178.6 547.7 179.0 547.9 179.3 547.3 179.7 545.6 180.0 544.9 180.4 549.0 180.7 547.8 181.1 545.3 181.4 546.4 181.8 546.2 182.1 545.7 182.5 543.5 182.8 541.6 183.2 541.5 183.5 542.6 183.9 544.5 184.2 544.5 184.6 541.6 184.9 541.1 185.3 543.0 185.6 543.9 186.0 539.3 186.3 541.0 186.7 540.2 187.0 539.2 187.4 538.9 187.7 538.5 188.1 538.7 188.4 536.1 188.8 538.1 189.1 538.9 189.5 538.6 189.8 538.3 190.2 537.4 190.5 536.9 190.9 539.1 191.2 535.7 191.6 535.9 191.9 537.2 192.3 535.1 192.6 532.8 193.0 533.6 193.3 533.5 193.7 533.6 194.0 532.8 194.4 534.7 194.7 533.9 195.1 533.3 195.4 531.6 195.8 533.5 196.1 533.1 196.5 534.6 196.8 530.0 197.2 530.4 197.5 532.4 197.9 528.2 198.2 530.0 198.6 529.6 198.9 529.0 199.3 527.1 199.6 528.2 200.0 525.5 200.3 529.3 200.7 526.3 201.0 527.0 201.4 526.3 201.7 526.2 202.1 525.7 202.4 525.8 202.8 524.1 203.1 524.4 203.5 522.1 203.8 521.8 204.2 521.7 204.5 521.0 204.9 520.0 205.2 520.7 205.6 522.4 205.9 521.6 206.3 519.8 206.6 520.5 207.0 520.2 207.3 523.6 207.7 516.1 208.0 518.7 208.4 515.6 208.7 519.5 209.1 516.6 209.4 517.2 209.8 516.4 210.1 516.8 210.5 510.2 210.8 512.7 211.2 514.4 211.5 511.5 211.9 514.3 212.2 515.0 212.6 510.3 212.9 511.3 213.3 512.7 213.6 514.3 214.0 512.5 214.3 511.6 214.7 508.4 215.0 509.5 215.4 509.3 215.7 507.6 216.1 509.0 216.4 507.3 216.8 506.7 217.1 510.8 217.5 506.4 217.8 509.6 218.2 505.2 218.5 505.4 218.9 503.0 219.2 503.8 219.6 507.3 219.9 504.2 220.3 500.2 220.6 506.0 221.0 501.5 221.3 502.0 221.7 502.4 222.0 498.7 222.4 504.6 222.7 503.9 223.1 500.6 223.4 501.5 223.8 500.0 224.1 499.2 224.5 499.5 224.8 497.0 225.2 498.6 225.5 498.0 225.9 502.3 226.2 495.8 226.6 500.5 226.9 499.2 227.3 497.9 227.6 496.2 228.0 500.4 228.3 499.5 228.7 496.4 229.0 495.8 229.4 496.3 229.7 499.1 230.1 493.7 230.4 495.3 230.8 497.0 231.1 491.9 231.5 494.1 231.8 496.1 232.2 492.9 232.5 493.3 232.9 490.3 233.2 493.7 233.6 490.4 233.9 491.7 234.3 492.8 234.6 490.8 235.0 493.3 235.3 492.8 235.7 492.1 236.0 492.8 236.4 490.3 236.7 486.2 237.1 491.8 237.4 491.3 237.8 488.6 238.1 487.7 238.5 491.3 238.8 487.9 239.2 487.8 239.5 487.4 239.9 492.6 240.2 486.3 240.6 482.4 240.9 486.9 241.3 484.8 241.6 483.1 242.0 486.5 242.3 484.9 242.7 487.4 243.0 484.7 243.4 487.5 243.7 486.8 244.1 484.6 244.4 485.8 244.8 487.6 245.1 485.1 245.5 480.5 245.8 483.3 246.2 483.2 246.5 485.1 246.9 482.0 247.2 484.3 247.6 481.5 247.9 481.5 248.3 480.7 248.6 480.9 249.0 480.3 249.3 481.0 249.7 478.5 250.0 477.7 250.4 479.3 250.7 479.5 251.1 478.2 251.4 479.5 251.8 479.1 252.1 481.7 252.5 475.0 252.8 481.8 253.2 472.6 253.5 473.6 253.9 477.5 254.2 474.7 254.6 475.8 254.9 475.3 255.3 473.3 255.6 472.9 256.0 474.8 256.3 476.1 256.7 476.4 257.0 475.3 257.4 474.1 257.7 477.1 258.1 469.9 258.4 474.4 258.8 476.8 259.1 477.4 259.5 476.4 259.8 476.5 260.2 475.8 260.5 473.8 260.9 468.7 261.2 472.2 261.6 472.6 261.9 476.4 262.3 472.0 262.6 472.1 263.0 474.1 263.3 470.6 263.7 472.6 264.0 473.6 264.4 471.6 264.7 472.0 265.1 468.3 265.4 469.3 265.8 471.3 266.1 474.2 266.5 470.4 266.8 469.6 267.2 469.8 267.5 472.8 267.9 468.2 268.2 471.5 268.6 470.3 268.9 471.1 269.3 469.3 269.6 471.0 270.0 473.6 270.3 470.0 270.7 469.5 271.0 465.0 271.4 471.4 271.7 469.0 272.1 471.1 272.4 470.4 272.8 468.4 273.1 468.7 273.5 467.1 273.8 474.1 274.2 471.8 274.5 471.5 274.9 472.3 275.2 472.6 275.6 471.4 275.9 471.7 276.3 474.8 276.6 465.7 277.0 469.8 277.3 468.0 277.7 469.4 278.0 463.8 278.4 466.8 278.7 470.8 279.1 466.3 279.4 470.2 279.8 467.1 280.1 468.5 280.5 465.6 280.8 467.4 281.2 465.5 281.5 469.8 281.9 464.9 282.2 469.3 282.6 467.3 282.9 468.1 283.3 471.5 283.6 467.8 284.0 467.0 284.3 468.3 284.7 469.8 285.0 467.0 285.4 471.8 285.7 468.5 286.1 467.3 286.4 466.6 286.8 467.7 287.1 469.2 287.5 470.2 287.8 468.0 288.2 466.5 288.5 467.6 288.9 463.1 289.2 470.0 289.6 469.4 289.9 467.1 290.3 469.0 290.6 465.2 291.0 471.3 291.3 467.0 291.7 466.3 292.0 471.8 292.4 465.2 292.7 468.2 293.1 465.4 293.4 466.0 293.8 466.5 294.1 465.7 294.5 470.1 294.8 469.1 295.2 465.4 295.5 471.7 295.9 466.2 296.2 465.7 296.6 466.8 296.9 463.4 297.3 468.4 297.6 463.2 298.0 462.1 298.3 466.8 298.7 462.0 299.0 463.0 299.4 460.2 299.7 461.2 300.1 461.5 300.4 454.7 300.8 458.5 301.1 455.1 301.5 457.9 301.8 456.7 302.2 450.1 302.5 446.4 302.9 443.2 303.2 438.3 303.6 427.0 303.9 421.8 304.3 418.4 304.6 411.6 305.0 410.6 305.3 409.9 305.7 408.2 306.0 413.6 306.4 419.8 306.7 421.5 307.1 427.7 307.4 431.9 307.8 436.9 308.1 440.4 308.5 443.0 308.8 450.4 309.2 454.5 309.5 454.2 309.9 456.5 310.2 454.6 310.6 458.4 310.9 460.5 311.3 460.4 311.6 461.3 312.0 459.5 312.3 459.3 312.7 461.8 313.0 466.0 313.4 462.1 313.7 459.8 314.1 461.9 314.4 463.1 314.8 466.3 315.1 466.2 315.5 462.3 315.8 462.1 316.2 463.9 316.5 464.6 316.9 462.7 317.2 467.1 317.6 464.3 317.9 466.0 318.3 465.3 318.6 467.1 319.0 466.0 319.3 467.0 319.7 469.4 320.0 467.5 320.4 470.3 320.7 464.8 321.1 467.4 321.4 465.8 321.8 465.3 322.1 468.5 322.5 473.0 322.8 469.7 323.2 471.7 323.5 465.8 323.9 470.6 324.2 468.0 324.6 471.2 324.9 473.2 325.3 470.3 325.6 473.9 326.0 470.3 326.3 472.5 326.7 471.2 327.0 473.0 327.4 472.8 327.7 468.9 328.1 473.0 328.4 473.0 328.8 477.8 329.1 469.4 329.5 475.0 329.8 476.8 330.2 479.3 330.5 478.4 330.9 475.8 331.2 479.2 331.6 476.2 331.9 476.3 332.3 476.2 332.6 476.3 333.0 480.5 333.3 474.2 333.7 474.6 334.0 479.9 334.4 479.2 334.7 480.2 335.1 478.2 335.4 480.2 335.8 478.6 336.1 478.3 336.5 478.7 336.8 480.1 337.2 480.1 337.5 479.4 337.9 483.7 338.2 481.6 338.6 480.2 338.9 478.5 339.3 481.2 339.6 478.3 340.0 480.0 340.3 479.7 340.7 480.5 341.0 482.8 341.4 476.2 341.7 485.8 342.1 484.0 342.4 482.4 342.8 482.3 343.1 485.2 343.5 483.7 343.8 487.6 344.2 484.1 344.5 482.7 344.9 482.0 345.2 484.8 345.6 487.3 345.9 483.0 346.3 488.1 346.6 487.5 347.0 485.5 347.3 488.8 347.7 483.1 348.0 482.4 348.4 487.4 348.7 487.9 349.1 488.0 349.4 487.4 349.8 484.8 350.1 488.9 350.5 487.4 350.8 490.0 351.2 488.9 351.5 486.4 351.9 490.0 352.2 490.5 352.6 490.7 352.9 488.0 353.3 487.5 353.6 491.2 354.0 489.7 354.3 489.8 354.7 492.1 355.0 492.4 355.4 491.5 355.7 490.2 356.1 493.7 356.4 489.0 356.8 491.1 357.1 491.9 357.5 488.8 357.8 490.2 358.2 493.4 358.5 491.7 358.9 490.0 359.2 495.4 359.6 492.7 359.9 492.7 360.3 496.1 360.6 489.9 361.0 491.9 361.3 491.3 361.7 495.7 362.0 491.8 362.4 498.0 362.7 494.5 363.1 494.4 363.4 495.8 363.8 493.6 364.1 492.5 364.5 493.2 364.8 494.5 365.2 492.7 365.5 495.0 365.9 493.7 366.2 494.6 366.6 495.0 366.9 498.3 367.3 499.8 367.6 499.2 368.0 495.6 368.3 494.8 368.7 498.3 369.0 499.0 369.4 498.4 369.7 495.7 370.1 497.6 370.4 496.7 370.8 499.3 371.1 499.2 371.5 498.1 371.8 497.0 372.2 501.3 372.5 498.5 372.9 499.9 373.2 499.5 373.6 500.1 373.9 501.0 374.3 498.3 374.6 498.3 375.0 500.5 375.3 493.5 375.7 499.5 376.0 498.9 376.4 501.3 376.7 500.8 377.1 499.9 377.4 498.3 377.8 500.3 378.1 500.2 378.5 501.1 378.8 501.5 379.2 500.0 379.5 502.4 379.9 500.6 380.2 502.5 380.6 502.4 380.9 504.4 381.3 502.2 381.6 505.3 382.0 501.9 382.3 501.1 382.7 504.1 383.0 500.8 383.4 503.9 383.7 504.1 384.1 503.9 384.4 504.5 384.8 504.2 385.1 506.4 385.5 504.0 385.8 500.9 386.2 503.9 386.5 506.2 386.9 506.7 387.2 506.3 387.6 505.3 387.9 503.8 388.3 508.4 388.6 504.7 389.0 504.0 389.3 501.8 389.7 509.7 390.0 506.4 390.4 503.3 390.7 508.3 391.1 508.1 391.4 504.1 391.8 508.7 392.1 507.5 392.5 508.8 392.8 510.2 393.2 507.2 393.5 512.0 393.9 508.1 394.2 507.4 394.6 510.8 394.9 507.7 395.3 508.4 395.6 510.6 396.0 507.8 396.3 507.1 396.7 510.2 397.0 509.8 397.4 509.0 397.7 511.8 398.1 508.2 398.4 511.8 398.8 508.8 399.1 511.6 399.5 508.9 399.8 512.3 400.2 511.2 400.5 510.7 400.9 511.8 401.2 511.6 401.6 513.4 401.9 511.0 402.3 513.1 402.6 512.0 403.0 511.6 403.3 512.0 403.7 511.1 404.0 513.8 404.4 513.5 404.7 514.2 405.1 511.0 405.4 513.2 405.8 516.7 406.1 516.4 406.5 514.3 406.8 514.7 407.2 515.2 407.5 516.9 407.9 517.8 408.2 516.0 408.6 516.1 408.9 515.9 409.3 516.7 409.6 519.3 410.0 515.4 410.3 517.8 410.7 515.0 411.0 515.3 411.4 514.5 411.7 516.5 412.1 520.1 412.4 520.6 412.8 519.4 413.1 518.3 413.5 520.3 413.8 517.0 414.2 516.6 414.5 517.7 414.9 519.0 415.2 516.6 415.6 518.5 415.9 522.7 416.3 519.9 416.6 519.8 417.0 519.6 417.3 522.0 417.7 522.1 418.0 521.4 418.4 521.2 418.7 518.2 419.1 519.5 419.4 521.5 419.8 521.4 420.1 522.1 420.5 522.0 420.8 525.9 421.2 525.1 421.5 521.7 421.9 524.9 422.2 524.5 422.6 524.1 422.9 524.0 423.3 525.2 423.6 527.8 424.0 524.2 424.3 525.0 424.7 525.3 425.0 523.1 425.4 526.0 425.7 524.9 426.1 526.8 426.4 527.3 426.8 529.7 427.1 526.8 427.5 526.9 427.8 528.7 428.2 530.9 428.5 528.3 428.9 529.0 429.2 529.4 429.6 529.5 429.9 528.1 430.3 528.0 430.6 528.3 431.0 529.0 431.3 530.2 431.7 528.7 432.0 529.0 432.4 530.4 432.7 530.4 433.1 530.9 433.4 529.1 433.8 534.0 434.1 531.0 434.5 531.2 434.8 530.5 435.2 532.6 435.5 533.6 435.9 532.3 436.2 532.3 436.6 532.3 436.9 536.2 437.3 533.9 437.6 532.6 438.0 533.7 438.3 535.2 438.7 534.0 439.0 534.4 439.4 534.4 439.7 534.1 440.1 535.4 440.4 537.1 440.8 535.6 441.1 534.7 441.5 534.1 441.8 535.4 442.2 534.9 442.5 534.6 442.9 536.9 443.2 536.6 443.6 538.0 443.9 537.3 444.3 536.2 444.6 538.3 445.0 537.7 445.3 539.3 445.7 536.1 446.0 537.2 446.4 538.0 446.7 540.3 447.1 538.9 447.4 536.8 447.8 537.3 448.1 539.6 448.5 536.8 448.8 538.2 449.2 539.2 449.5 539.0 449.9 540.1 450.2 541.0 450.6 540.5 450.9 538.5 451.3 542.3 451.6 542.1 452.0 539.7 452.3 540.6 452.7 539.4 453.0 543.4 453.4 541.0 453.7 542.5 454.1 542.8 454.4 544.1 454.8 542.7 455.1 542.3 455.5 543.8 455.8 544.5 456.2 542.7 456.5 543.6 456.9 541.8 457.2 546.0 457.6 543.5 457.9 545.9 458.3 546.0 458.6 546.1 459.0 546.6 459.3 544.5 459.7 546.0 460.0 545.1 460.4 546.0 460.7 545.5 461.1 549.9 461.4 547.2 461.8 548.5 462.1 546.5 462.5 550.0 462.8 547.7 463.2 547.8 463.5 547.9 463.9 546.5 464.2 546.0 464.6 549.2 464.9 547.7 465.3 549.0 465.6 552.1 466.0 549.3 466.3 552.5 466.7 550.4 467.0 548.8 467.4 551.1 467.7 552.0 468.1 551.7 468.4 549.9 468.8 549.6 469.1 552.2 469.5 553.7 469.8 553.6 470.2 551.0 470.5 551.3 470.9 552.1 471.2 553.2 471.6 552.5 471.9 552.6 472.3 552.2 472.6 548.9 473.0 550.8 473.3 552.7 473.7 550.6 474.0 555.4 474.4 551.8 474.7 553.8 475.1 554.3 475.4 554.6 475.8 551.8 476.1 553.2 476.5 555.4 476.8 553.7 477.2 554.7 477.5 550.6 477.9 554.4 478.2 554.1 478.6 553.9 478.9 551.8 479.3 553.2 479.6 553.9 480.0 553.8 480.3 553.0 480.7 555.8 481.0 555.7 481.4 554.1 481.7 556.5 482.1 553.2 482.4 555.1 482.8 556.9 483.1 555.6 483.5 554.7 483.8 555.5 484.2 554.8 484.5 554.2 484.9 554.0 485.2 555.0 485.6 554.8 485.9 555.4 486.3 553.9 486.6 555.3 487.0 556.2 487.3 554.2 487.7 557.0 488.0 554.1 488.4 554.1 488.7 554.2 489.1 553.4 489.4 553.0 489.8 553.5 490.1 554.7 490.5 553.9 490.8 556.7 491.2 554.4 491.5 553.9 491.9 553.5 492.2 554.6 492.6 553.8 492.9 553.8 493.3 554.1 493.6 554.7 494.0 551.2 494.3 552.9 494.7 551.7 495.0 551.4 495.4 549.7 495.7 550.6 496.1 549.9 496.4 548.9 496.8 546.6 497.1 547.7 497.5 544.7 497.8 543.2 498.2 545.5 498.5 543.2 498.9 540.2 499.2 540.2 499.6 539.9 499.9 539.7 500.3 536.3 500.6 533.5 501.0 530.8 501.3 527.6 501.7 526.2 502.0 521.3 502.4 518.3 502.7 504.8 503.1 491.8 503.4 470.5 503.8 452.1 504.1 435.2 504.5 423.4 504.8 420.2 505.2 408.9 505.5 401.7 505.9 389.1 506.2 371.6 506.6 344.7 506.9 324.5 507.3 294.5 507.6 273.8 508.0 262.2 508.3 262.1 508.7 259.5 509.0 263.6 509.4 265.8 509.7 261.5 510.1 263.4 510.4 263.4 510.8 267.9 511.1 270.0 511.5 290.8 511.8 316.1 512.2 351.0 512.5 375.6 512.9 393.4 513.2 409.6 513.6 427.3 513.9 439.4 514.3 460.0 514.6 478.0 515.0 499.9 515.3 511.7 515.7 522.1 516.0 532.4 516.4 539.4 516.7 540.3 517.1 540.9 517.4 547.7 517.8 548.9 518.1 549.2 518.5 553.5 518.8 554.8 519.2 553.4 519.5 554.6 519.9 556.7 520.2 557.4 520.6 558.9 520.9 558.4 521.3 560.8 521.6 558.4 522.0 558.3 522.3 559.0 522.7 559.3 523.0 560.4 523.4 559.9 523.7 562.2 524.1 563.0 524.4 563.8 524.8 561.6 525.1 561.0 525.5 562.3 525.8 563.1 526.2 562.8 526.5 564.1 526.9 564.4 527.2 564.5 527.6 563.3 527.9 565.4 528.3 563.6 528.6 562.0 529.0 564.8 529.3 566.4 529.7 565.2 530.0 563.5 530.4 565.1 530.7 567.0 531.1 566.0 531.4 565.8 531.8 564.7 532.1 566.1 532.5 565.5 532.8 568.1 533.2 566.9 533.5 567.6 533.9 565.0 534.2 567.0 534.6 568.0 534.9 569.1 535.3 568.8 535.6 566.5 536.0 570.8 536.3 567.5 536.7 567.4 537.0 567.5 537.4 566.7 537.7 567.7 538.1 567.4 538.4 567.7 538.8 567.6 539.1 568.1 539.5 569.3 539.8 567.8 540.2 567.3 540.5 569.3 540.9 568.7 541.2 569.6 541.6 567.9 541.9 568.9 542.3 568.1 542.6 567.6 543.0 568.6 543.3 569.1 543.7 569.6 544.0 568.0 544.4 570.2 544.7 570.6 545.1 569.9 545.4 569.1 545.8 568.7 546.1 570.8 546.5 568.8 546.8 571.2 547.2 567.8 547.5 567.7 547.9 570.4 548.2 568.6 548.6 571.1 548.9 569.5 549.3 569.5 549.6 570.4 550.0 571.3 550.3 571.1 550.7 570.0 551.0 569.8 551.4 571.1 551.7 569.4 552.1 569.2 552.4 569.3 552.8 573.9 553.1 572.0 553.5 571.0 553.8 570.1 554.2 571.1 554.5 568.8 554.9 570.3 555.2 571.6 555.6 570.9 555.9 569.4 556.3 570.6 556.6 570.5 557.0 572.3 557.3 571.7 557.7 571.0 558.0 573.2 558.4 570.3 558.7 572.2 559.1 571.5 559.4 570.9 559.8 570.4 560.1 571.6 560.5 572.7 560.8 569.3 561.2 571.2 561.5 572.1 561.9 570.2 562.2 570.3 562.6 572.7 562.9 570.9 563.3 570.7 563.6 571.6 564.0 571.5 564.3 571.8 564.7 571.8 565.0 572.8 565.4 571.7 565.7 572.2 566.1 570.4 566.4 571.5 566.8 570.7 567.1 572.9 567.5 571.6 567.8 572.6 568.2 571.1 568.5 570.3 568.9 572.1 569.2 571.1 569.6 569.7 569.9 571.0 570.3 570.5 570.6 572.8 571.0 571.2 571.3 572.1 571.7 571.9 572.0 572.6 572.4 571.8 572.7 571.9 573.1 571.7 573.4 569.8 573.8 571.3 574.1 569.9 574.5 569.9 574.8 571.3 575.2 569.2 575.5 570.8 575.9 572.1 576.2 570.9 576.6 571.8 576.9 569.8 577.3 570.9 577.6 568.0 578.0 569.6 578.3 570.1 578.7 572.7 579.0 572.9 579.4 568.6 579.7 570.3 580.1 569.9 580.4 572.5 580.8 571.6 581.1 570.3 581.5 571.6 581.8 572.0 582.2 569.9 582.5 571.7 582.9 571.3 583.2 571.5 583.6 568.8 583.9 570.5 584.3 568.0 584.6 570.9 585.0 569.7 585.3 572.0 585.7 572.1 586.0 568.7 586.4 572.2 586.7 570.0 587.1 571.6 587.4 570.7 587.8 570.1 588.1 570.2 588.5 570.0 588.8 572.1 589.2 570.6 589.5 569.3 589.9 571.2 590.2 569.9 590.6 571.0 590.9 569.6 591.3 570.8 591.6 569.4 592.0 569.5 592.3 570.7 592.7 571.3 593.0 570.6 593.4 570.3 593.7 573.3 594.1 570.2 594.4 567.5 594.8 571.0 595.1 569.7 595.5 568.7 595.8 571.5 596.2 571.2 596.5 569.9 596.9 569.7 597.2 570.3 597.6 571.4 597.9 569.2 598.3 571.8 598.6 570.5 599.0 570.7 599.3 572.0 599.7 570.0 600.0 571.0 600.4 570.3 600.7 566.9 601.1 570.0 601.4 570.2 601.8 570.0 602.1 571.5 602.5 569.6 602.8 570.7 603.2 570.5 603.5 570.6 603.9 568.2 604.2 569.6 604.6 569.5 604.9 571.9 605.3 569.7 605.6 570.7 606.0 570.3 606.3 568.4 606.7 568.7 607.0 570.3 607.4 570.8 607.7 571.7 608.1 569.6 608.4 568.5 608.8 569.8 609.1 568.3 609.5 571.4 609.8 569.5 610.2 569.8 610.5 571.9 610.9 570.3 611.2 568.4 611.6 570.3 611.9 569.0 612.3 568.3 612.6 568.8 613.0 568.1 613.3 570.3 613.7 568.7 614.0 569.2 614.4 570.8 614.7 569.4 615.1 569.0 615.4 569.7 615.8 568.9 616.1 569.6 616.5 569.3 616.8 570.5 617.2 569.1 617.5 568.5 617.9 569.0 618.2 567.0 618.6 569.2 618.9 570.3 619.3 571.6 619.6 569.8 620.0 570.7 620.3 567.2 620.7 570.8 621.0 569.8 621.4 570.6 621.7 568.7 622.1 569.7 622.4 569.4 622.8 568.7 623.1 569.0 623.5 570.8 623.8 567.4 624.2 568.7 624.5 569.6 624.9 570.7 625.2 567.8 625.6 567.5 625.9 566.8 626.3 569.4 626.6 568.8 627.0 569.0 627.3 568.9 627.7 567.0 628.0 570.2 628.4 570.0 628.7 567.5 629.1 568.1 629.4 567.9 629.8 568.1 630.1 571.0 630.5 570.0 630.8 567.8 631.2 571.3 631.5 569.5 631.9 569.2 632.2 568.1 632.6 568.2 632.9 568.9 633.3 572.4 633.6 567.9 634.0 568.3 634.3 570.2 634.7 569.4 635.0 568.3 635.4 572.3 635.7 569.0 636.1 568.6 636.4 569.1 636.8 570.0 637.1 570.2 637.5 570.5 637.8 569.8 638.2 569.0 638.5 571.2 638.9 569.4 639.2 569.0 639.6 570.5 639.9 571.1 640.3 569.2 640.6 569.3 641.0 569.6 641.3 569.0 641.7 569.5 642.0 570.8 642.4 570.7 642.7 567.3 643.1 571.8 643.4 571.7 643.8 568.9 644.1 571.8 644.5 568.8 644.8 571.9 645.2 569.8 645.5 571.0 645.9 570.7 646.2 571.2 646.6 569.1 646.9 572.3 647.3 571.5 647.6 570.9 648.0 572.1 648.3 570.7 648.7 573.1 649.0 572.4 649.4 573.2 649.7 570.1 650.1 571.2 650.4 568.9 650.8 571.3 651.1 570.2 651.5 570.1 651.8 572.1 652.2 571.0 652.5 572.4 652.9 569.9 653.2 570.3 653.6 571.5 653.9 568.7 654.3 570.0 654.6 571.2 655.0 569.1 655.3 571.8 655.7 570.2 656.0 572.2 656.4 570.6 656.7 573.1 657.1 569.5 657.4 572.8 657.8 569.9 658.1 573.1 658.5 571.6 658.8 569.5 659.2 572.4 659.5 571.1 659.9 571.6 660.2 571.8 660.6 572.8 660.9 571.5 661.3 572.7 661.6 570.9 662.0 571.5 662.3 572.7 662.7 573.6 663.0 572.3 663.4 572.0 663.7 572.8 664.1 573.0 664.4 571.4 664.8 575.8 665.1 572.1 665.5 571.2 665.8 572.6 666.2 573.1 666.5 572.7" stroke="#7030a0" stroke-width="3.0" fill="none" stroke-linejoin="round"/>
<path d="M61.0 512.3L61.4 513.1 61.7 515.0 62.1 513.8 62.4 515.4 62.8 515.9 63.1 512.8 63.5 516.4 63.8 514.2 64.2 518.1 64.5 516.3 64.9 514.7 65.2 515.9 65.6 516.1 65.9 516.4 66.3 518.0 66.6 517.0 67.0 518.7 67.3 517.5 67.7 516.5 68.0 514.9 68.4 515.0 68.7 517.6 69.1 518.5 69.4 519.7 69.8 517.1 70.1 518.2 70.5 517.2 70.8 518.0 71.2 515.6 71.5 520.0 71.9 518.2 72.2 519.3 72.6 520.2 72.9 520.2 73.3 518.2 73.6 522.2 74.0 521.4 74.3 521.3 74.7 519.9 75.0 518.9 75.4 519.0 75.7 521.1 76.1 521.8 76.4 520.9 76.8 524.4 77.1 522.6 77.5 523.7 77.8 523.8 78.2 521.3 78.5 524.2 78.9 523.7 79.2 521.6 79.6 524.4 79.9 525.0 80.3 525.0 80.6 525.2 81.0 522.2 81.3 523.8 81.7 523.6 82.0 524.6 82.4 524.8 82.7 526.3 83.1 525.9 83.4 524.0 83.8 526.5 84.1 527.6 84.5 526.0 84.8 523.8 85.2 525.1 85.5 525.9 85.9 524.2 86.2 526.2 86.6 524.9 86.9 527.8 87.3 527.8 87.6 526.9 88.0 525.6 88.3 527.7 88.7 526.7 89.0 526.8 89.4 529.2 89.7 527.0 90.1 526.3 90.4 529.2 90.8 530.6 91.1 530.5 91.5 529.6 91.8 531.4 92.2 528.4 92.5 531.7 92.9 531.7 93.2 528.7 93.6 529.8 93.9 527.8 94.3 528.2 94.6 530.3 95.0 528.2 95.3 530.0 95.7 530.4 96.0 530.0 96.4 531.1 96.7 532.4 97.1 530.3 97.4 531.3 97.8 532.0 98.1 529.6 98.5 529.3 98.8 527.1 99.2 530.7 99.5 531.5 99.9 530.8 100.2 532.9 100.6 532.2 100.9 531.3 101.3 530.3 101.6 529.3 102.0 530.5 102.3 531.0 102.7 530.3 103.0 530.1 103.4 530.0 103.7 531.4 104.1 528.4 104.4 530.1 104.8 530.6 105.1 531.4 105.5 531.4 105.8 530.3 106.2 529.8 106.5 529.1 106.9 532.0 107.2 531.3 107.6 530.9 107.9 529.7 108.3 529.2 108.6 532.1 109.0 530.6 109.3 531.2 109.7 532.9 110.0 528.7 110.4 529.7 110.7 531.1 111.1 531.4 111.4 529.3 111.8 530.5 112.1 529.9 112.5 529.9 112.8 531.1 113.2 530.8 113.5 532.0 113.9 531.3 114.2 532.4 114.6 529.5 114.9 531.0 115.3 528.7 115.6 528.4 116.0 528.7 116.3 531.3 116.7 530.6 117.0 528.3 117.4 531.9 117.7 531.5 118.1 530.0 118.4 529.9 118.8 530.2 119.1 528.6 119.5 533.1 119.8 529.5 120.2 529.8 120.5 529.6 120.9 529.2 121.2 528.8 121.6 530.4 121.9 528.3 122.3 528.5 122.6 528.8 123.0 530.7 123.3 528.4 123.7 528.4 124.0 530.0 124.4 528.1 124.7 529.0 125.1 530.5 125.4 529.8 125.8 529.2 126.1 531.0 126.5 528.5 126.8 528.2 127.2 526.6 127.5 528.8 127.9 529.5 128.2 527.7 128.6 530.9 128.9 529.7 129.3 529.4 129.6 526.6 130.0 528.4 130.3 528.4 130.7 525.3 131.0 527.7 131.4 527.3 131.7 525.3 132.1 528.1 132.4 530.0 132.8 528.2 133.1 526.0 133.5 526.7 133.8 528.3 134.2 525.7 134.5 527.1 134.9 526.6 135.2 526.7 135.6 528.5 135.9 524.3 136.3 527.6 136.6 526.4 137.0 525.8 137.3 523.6 137.7 526.1 138.0 525.1 138.4 521.7 138.7 523.6 139.1 523.7 139.4 523.8 139.8 524.3 140.1 523.9 140.5 526.9 140.8 526.2 141.2 524.6 141.5 526.4 141.9 527.3 142.2 525.0 142.6 522.5 142.9 524.7 143.3 525.9 143.6 522.7 144.0 523.9 144.3 525.0 144.7 525.2 145.0 524.7 145.4 524.0 145.7 523.2 146.1 522.5 146.4 524.5 146.8 524.3 147.1 522.3 147.5 521.9 147.8 524.4 148.2 524.0 148.5 521.5 148.9 520.2 149.2 522.5 149.6 523.3 149.9 523.4 150.3 523.1 150.6 519.8 151.0 521.8 151.3 521.1 151.7 520.6 152.0 525.0 152.4 521.3 152.7 521.5 153.1 520.7 153.4 521.9 153.8 522.4 154.1 520.3 154.5 520.5 154.8 519.9 155.2 519.0 155.5 520.0 155.9 520.5 156.2 520.0 156.6 519.5 156.9 517.1 157.3 520.0 157.6 519.6 158.0 521.3 158.3 518.2 158.7 517.1 159.0 516.2 159.4 517.8 159.7 518.4 160.1 518.7 160.4 516.0 160.8 517.2 161.1 519.2 161.5 517.8 161.8 517.0 162.2 516.8 162.5 514.9 162.9 515.0 163.2 516.0 163.6 518.2 163.9 517.9 164.3 515.9 164.6 516.8 165.0 516.3 165.3 517.1 165.7 514.2 166.0 515.4 166.4 516.1 166.7 512.8 167.1 514.2 167.4 514.4 167.8 514.4 168.1 514.3 168.5 514.2 168.8 514.5 169.2 514.8 169.5 513.2 169.9 515.5 170.2 511.4 170.6 511.6 170.9 512.1 171.3 510.3 171.6 509.0 172.0 509.0 172.3 512.3 172.7 509.4 173.0 508.2 173.4 512.6 173.7 510.2 174.1 509.7 174.4 507.7 174.8 509.3 175.1 507.9 175.5 508.7 175.8 508.1 176.2 507.6 176.5 508.0 176.9 506.1 177.2 506.6 177.6 505.8 177.9 507.3 178.3 507.6 178.6 507.5 179.0 503.2 179.3 508.4 179.7 505.3 180.0 505.2 180.4 505.1 180.7 504.9 181.1 506.7 181.4 504.7 181.8 504.8 182.1 505.5 182.5 505.9 182.8 502.1 183.2 501.6 183.5 500.3 183.9 500.1 184.2 503.3 184.6 502.7 184.9 502.3 185.3 502.7 185.6 502.4 186.0 503.6 186.3 504.1 186.7 500.1 187.0 503.4 187.4 502.5 187.7 499.4 188.1 500.7 188.4 499.6 188.8 497.4 189.1 499.9 189.5 497.1 189.8 499.5 190.2 497.5 190.5 498.4 190.9 500.0 191.2 498.7 191.6 497.0 191.9 498.4 192.3 498.9 192.6 499.1 193.0 496.1 193.3 499.0 193.7 496.7 194.0 495.8 194.4 498.4 194.7 497.2 195.1 497.1 195.4 496.0 195.8 492.7 196.1 496.1 196.5 496.0 196.8 494.7 197.2 497.3 197.5 494.6 197.9 496.8 198.2 495.8 198.6 492.5 198.9 492.0 199.3 492.6 199.6 492.8 200.0 493.7 200.3 491.4 200.7 490.4 201.0 495.3 201.4 491.6 201.7 491.7 202.1 493.8 202.4 490.9 202.8 486.6 203.1 490.9 203.5 488.8 203.8 491.1 204.2 486.2 204.5 489.2 204.9 489.9 205.2 490.6 205.6 489.6 205.9 489.2 206.3 487.3 206.6 487.0 207.0 485.0 207.3 488.0 207.7 488.6 208.0 486.7 208.4 483.9 208.7 482.6 209.1 483.8 209.4 487.0 209.8 484.3 210.1 482.0 210.5 482.7 210.8 484.4 211.2 481.6 211.5 481.5 211.9 481.1 212.2 480.1 212.6 484.7 212.9 479.6 213.3 481.2 213.6 482.4 214.0 479.8 214.3 479.0 214.7 479.1 215.0 479.0 215.4 478.4 215.7 477.6 216.1 477.4 216.4 478.0 216.8 480.6 217.1 476.4 217.5 478.2 217.8 476.2 218.2 474.5 218.5 473.9 218.9 476.2 219.2 473.0 219.6 475.8 219.9 474.1 220.3 477.5 220.6 472.3 221.0 475.8 221.3 476.1 221.7 474.8 222.0 472.1 222.4 473.4 222.7 472.7 223.1 471.9 223.4 473.5 223.8 471.5 224.1 471.8 224.5 473.0 224.8 470.6 225.2 469.8 225.5 470.6 225.9 469.0 226.2 465.4 226.6 468.4 226.9 468.8 227.3 466.6 227.6 465.0 228.0 469.1 228.3 466.7 228.7 468.9 229.0 468.3 229.4 470.0 229.7 468.0 230.1 468.3 230.4 468.9 230.8 465.4 231.1 467.9 231.5 467.8 231.8 461.9 232.2 463.0 232.5 465.0 232.9 467.8 233.2 463.6 233.6 461.6 233.9 460.7 234.3 464.1 234.6 463.6 235.0 461.7 235.3 463.3 235.7 461.8 236.0 464.4 236.4 459.3 236.7 460.8 237.1 463.6 237.4 460.0 237.8 459.4 238.1 460.2 238.5 464.1 238.8 460.9 239.2 462.9 239.5 458.1 239.9 459.3 240.2 460.8 240.6 459.7 240.9 458.0 241.3 454.5 241.6 459.6 242.0 459.9 242.3 459.1 242.7 454.6 243.0 455.0 243.4 456.4 243.7 455.3 244.1 459.2 244.4 454.7 244.8 456.0 245.1 454.3 245.5 452.8 245.8 458.0 246.2 456.2 246.5 454.3 246.9 455.5 247.2 450.9 247.6 458.2 247.9 452.8 248.3 450.9 248.6 452.4 249.0 454.7 249.3 454.1 249.7 455.2 250.0 455.1 250.4 453.6 250.7 455.4 251.1 449.5 251.4 453.9 251.8 453.7 252.1 453.3 252.5 452.1 252.8 451.2 253.2 450.9 253.5 448.5 253.9 450.7 254.2 453.8 254.6 454.4 254.9 450.3 255.3 450.0 255.6 449.9 256.0 450.5 256.3 450.6 256.7 451.4 257.0 453.2 257.4 446.0 257.7 447.8 258.1 448.9 258.4 449.6 258.8 450.4 259.1 453.1 259.5 447.4 259.8 450.5 260.2 448.9 260.5 449.0 260.9 449.4 261.2 450.4 261.6 448.8 261.9 446.1 262.3 449.2 262.6 449.1 263.0 444.7 263.3 448.7 263.7 447.5 264.0 447.2 264.4 447.5 264.7 450.8 265.1 443.6 265.4 447.3 265.8 442.9 266.1 446.7 266.5 448.4 266.8 442.6 267.2 448.6 267.5 447.1 267.9 445.7 268.2 445.5 268.6 445.7 268.9 445.7 269.3 445.4 269.6 447.5 270.0 446.9 270.3 443.2 270.7 447.2 271.0 448.7 271.4 448.1 271.7 445.3 272.1 441.2 272.4 443.3 272.8 444.1 273.1 444.0 273.5 441.0 273.8 445.3 274.2 445.8 274.5 441.0 274.9 442.2 275.2 441.6 275.6 443.7 275.9 446.0 276.3 439.1 276.6 446.7 277.0 445.4 277.3 440.5 277.7 446.7 278.0 445.7 278.4 444.2 278.7 443.8 279.1 441.1 279.4 444.0 279.8 441.2 280.1 443.0 280.5 445.1 280.8 442.0 281.2 441.5 281.5 443.9 281.9 444.8 282.2 444.8 282.6 442.2 282.9 445.6 283.3 446.1 283.6 441.9 284.0 443.9 284.3 438.8 284.7 442.2 285.0 440.3 285.4 442.8 285.7 441.1 286.1 437.4 286.4 443.7 286.8 440.2 287.1 444.8 287.5 445.4 287.8 443.5 288.2 442.0 288.5 442.6 288.9 439.0 289.2 442.2 289.6 444.0 289.9 443.4 290.3 439.6 290.6 444.9 291.0 442.7 291.3 439.4 291.7 442.3 292.0 439.2 292.4 440.0 292.7 441.0 293.1 444.7 293.4 445.8 293.8 437.0 294.1 439.8 294.5 439.3 294.8 440.8 295.2 439.8 295.5 437.3 295.9 438.8 296.2 436.2 296.6 435.3 296.9 437.7 297.3 436.2 297.6 433.7 298.0 435.5 298.3 432.2 298.7 430.2 299.0 430.3 299.4 430.4 299.7 425.8 300.1 428.4 300.4 422.1 300.8 420.3 301.1 417.8 301.5 411.5 301.8 404.6 302.2 399.0 302.5 393.8 302.9 384.8 303.2 371.7 303.6 355.4 303.9 338.4 304.3 321.6 304.6 302.8 305.0 285.6 305.3 268.3 305.7 254.9 306.0 254.3 306.4 255.2 306.7 268.9 307.1 283.8 307.4 307.2 307.8 324.8 308.1 342.3 308.5 360.4 308.8 374.0 309.2 380.4 309.5 393.9 309.9 399.1 310.2 407.0 310.6 412.9 310.9 415.2 311.3 419.5 311.6 425.7 312.0 428.4 312.3 431.6 312.7 432.1 313.0 433.2 313.4 434.9 313.7 436.2 314.1 436.4 314.4 439.3 314.8 438.0 315.1 438.7 315.5 438.4 315.8 442.5 316.2 441.4 316.5 442.9 316.9 444.2 317.2 442.6 317.6 445.4 317.9 445.5 318.3 445.8 318.6 442.3 319.0 448.6 319.3 448.0 319.7 448.4 320.0 451.0 320.4 445.7 320.7 452.0 321.1 447.9 321.4 450.4 321.8 451.3 322.1 447.1 322.5 449.9 322.8 448.4 323.2 450.7 323.5 447.1 323.9 453.5 324.2 451.2 324.6 450.0 324.9 449.0 325.3 453.5 325.6 450.0 326.0 452.8 326.3 449.0 326.7 452.6 327.0 447.9 327.4 452.5 327.7 449.9 328.1 450.0 328.4 454.0 328.8 453.7 329.1 451.2 329.5 451.1 329.8 454.8 330.2 449.8 330.5 452.4 330.9 451.6 331.2 453.2 331.6 453.1 331.9 453.1 332.3 451.1 332.6 454.1 333.0 454.7 333.3 453.0 333.7 457.3 334.0 453.2 334.4 454.2 334.7 458.2 335.1 453.9 335.4 454.3 335.8 451.7 336.1 454.7 336.5 454.0 336.8 455.5 337.2 452.9 337.5 457.4 337.9 456.2 338.2 457.0 338.6 454.7 338.9 452.1 339.3 456.3 339.6 455.7 340.0 454.9 340.3 459.1 340.7 456.6 341.0 456.4 341.4 457.1 341.7 457.0 342.1 457.2 342.4 458.0 342.8 456.8 343.1 455.8 343.5 455.2 343.8 457.3 344.2 457.9 344.5 458.6 344.9 455.6 345.2 454.4 345.6 454.6 345.9 460.3 346.3 458.7 346.6 457.7 347.0 457.2 347.3 462.1 347.7 459.5 348.0 459.5 348.4 457.2 348.7 460.6 349.1 457.7 349.4 457.1 349.8 461.3 350.1 459.5 350.5 460.3 350.8 456.2 351.2 458.4 351.5 457.7 351.9 459.8 352.2 459.3 352.6 459.6 352.9 458.3 353.3 462.6 353.6 457.6 354.0 461.1 354.3 460.2 354.7 462.4 355.0 458.8 355.4 462.7 355.7 459.4 356.1 461.6 356.4 460.9 356.8 466.0 357.1 459.2 357.5 460.6 357.8 458.6 358.2 460.2 358.5 462.0 358.9 461.8 359.2 461.2 359.6 461.7 359.9 462.7 360.3 463.5 360.6 466.6 361.0 464.5 361.3 463.9 361.7 463.5 362.0 465.6 362.4 467.0 362.7 464.3 363.1 466.8 363.4 466.2 363.8 461.6 364.1 469.3 364.5 467.6 364.8 463.6 365.2 462.8 365.5 466.9 365.9 465.9 366.2 468.0 366.6 466.5 366.9 469.7 367.3 466.6 367.6 468.7 368.0 469.3 368.3 467.8 368.7 470.2 369.0 469.0 369.4 468.9 369.7 468.8 370.1 465.0 370.4 467.7 370.8 473.1 371.1 469.2 371.5 468.7 371.8 469.9 372.2 470.1 372.5 474.4 372.9 468.8 373.2 469.7 373.6 472.3 373.9 468.1 374.3 468.6 374.6 469.4 375.0 470.6 375.3 473.8 375.7 474.6 376.0 473.2 376.4 476.0 376.7 469.3 377.1 474.7 377.4 471.8 377.8 474.0 378.1 472.8 378.5 470.9 378.8 475.7 379.2 476.4 379.5 474.5 379.9 472.7 380.2 477.9 380.6 470.3 380.9 475.0 381.3 473.2 381.6 473.7 382.0 476.9 382.3 474.5 382.7 477.2 383.0 476.0 383.4 478.2 383.7 477.6 384.1 477.6 384.4 476.3 384.8 476.3 385.1 474.8 385.5 477.5 385.8 478.1 386.2 475.8 386.5 477.8 386.9 475.9 387.2 477.4 387.6 475.7 387.9 477.8 388.3 479.8 388.6 478.5 389.0 475.2 389.3 479.5 389.7 477.9 390.0 480.9 390.4 480.0 390.7 480.1 391.1 478.6 391.4 479.5 391.8 478.1 392.1 479.7 392.5 481.0 392.8 477.2 393.2 479.4 393.5 481.4 393.9 478.5 394.2 480.1 394.6 481.4 394.9 481.2 395.3 481.9 395.6 482.3 396.0 483.2 396.3 480.7 396.7 482.2 397.0 482.2 397.4 479.6 397.7 481.1 398.1 483.2 398.4 482.7 398.8 483.4 399.1 482.3 399.5 482.4 399.8 484.2 400.2 479.5 400.5 480.1 400.9 483.1 401.2 483.6 401.6 484.4 401.9 484.5 402.3 483.9 402.6 481.7 403.0 484.7 403.3 484.3 403.7 482.4 404.0 481.4 404.4 483.6 404.7 485.6 405.1 484.6 405.4 486.7 405.8 484.3 406.1 483.8 406.5 484.2 406.8 485.4 407.2 485.9 407.5 487.1 407.9 485.5 408.2 483.9 408.6 484.7 408.9 486.6 409.3 486.1 409.6 486.7 410.0 485.6 410.3 486.0 410.7 486.1 411.0 486.0 411.4 487.4 411.7 490.0 412.1 487.5 412.4 487.9 412.8 484.7 413.1 488.8 413.5 487.7 413.8 490.4 414.2 489.3 414.5 490.9 414.9 487.2 415.2 490.1 415.6 490.6 415.9 488.7 416.3 491.4 416.6 487.5 417.0 490.2 417.3 489.3 417.7 491.5 418.0 487.2 418.4 491.9 418.7 493.4 419.1 489.2 419.4 492.5 419.8 489.9 420.1 492.8 420.5 493.4 420.8 489.9 421.2 494.6 421.5 492.0 421.9 492.4 422.2 493.7 422.6 494.2 422.9 493.0 423.3 494.1 423.6 494.3 424.0 491.7 424.3 494.0 424.7 494.1 425.0 494.0 425.4 495.2 425.7 493.5 426.1 491.7 426.4 495.6 426.8 495.4 427.1 495.0 427.5 494.4 427.8 498.7 428.2 495.6 428.5 494.0 428.9 496.3 429.2 496.8 429.6 494.0 429.9 497.3 430.3 493.2 430.6 496.0 431.0 498.1 431.3 498.6 431.7 497.6 432.0 498.4 432.4 496.1 432.7 497.6 433.1 498.7 433.4 495.1 433.8 498.4 434.1 499.0 434.5 499.9 434.8 499.6 435.2 500.1 435.5 500.0 435.9 497.5 436.2 497.6 436.6 498.2 436.9 497.4 437.3 500.6 437.6 502.1 438.0 501.7 438.3 500.2 438.7 501.6 439.0 500.2 439.4 501.0 439.7 502.1 440.1 499.0 440.4 499.8 440.8 501.4 441.1 505.4 441.5 502.1 441.8 502.4 442.2 503.5 442.5 500.8 442.9 498.5 443.2 500.1 443.6 500.4 443.9 504.6 444.3 501.7 444.6 501.9 445.0 502.0 445.3 502.1 445.7 502.5 446.0 502.8 446.4 504.5 446.7 503.2 447.1 500.9 447.4 504.3 447.8 504.0 448.1 502.8 448.5 503.8 448.8 502.7 449.2 507.0 449.5 505.5 449.9 504.4 450.2 502.9 450.6 505.1 450.9 505.2 451.3 504.5 451.6 504.1 452.0 507.6 452.3 504.2 452.7 506.2 453.0 506.8 453.4 503.5 453.7 505.5 454.1 506.8 454.4 505.5 454.8 503.4 455.1 506.5 455.5 508.6 455.8 506.5 456.2 506.4 456.5 504.9 456.9 505.8 457.2 506.8 457.6 504.4 457.9 505.0 458.3 506.5 458.6 506.5 459.0 506.7 459.3 506.6 459.7 508.8 460.0 506.7 460.4 506.9 460.7 505.9 461.1 505.9 461.4 507.0 461.8 510.9 462.1 509.0 462.5 505.6 462.8 509.8 463.2 507.6 463.5 505.9 463.9 508.2 464.2 506.5 464.6 507.0 464.9 506.6 465.3 507.9 465.6 505.3 466.0 509.6 466.3 510.7 466.7 508.2 467.0 508.6 467.4 509.2 467.7 508.4 468.1 508.4 468.4 509.8 468.8 510.4 469.1 508.5 469.5 510.1 469.8 509.6 470.2 508.4 470.5 509.3 470.9 506.8 471.2 508.0 471.6 510.0 471.9 510.5 472.3 511.3 472.6 512.0 473.0 508.5 473.3 510.6 473.7 508.0 474.0 510.2 474.4 509.6 474.7 511.2 475.1 510.5 475.4 510.8 475.8 510.1 476.1 511.0 476.5 512.9 476.8 512.3 477.2 511.3 477.5 509.2 477.9 509.1 478.2 511.5 478.6 512.2 478.9 512.6 479.3 512.2 479.6 510.9 480.0 509.7 480.3 513.3 480.7 513.0 481.0 513.9 481.4 510.1 481.7 513.3 482.1 513.4 482.4 511.0 482.8 511.2 483.1 511.2 483.5 511.5 483.8 512.5 484.2 512.1 484.5 514.5 484.9 513.2 485.2 511.9 485.6 512.9 485.9 511.6 486.3 509.4 486.6 512.7 487.0 511.3 487.3 513.5 487.7 511.4 488.0 513.2 488.4 512.1 488.7 508.6 489.1 512.7 489.4 509.5 489.8 509.7 490.1 507.8 490.5 508.2 490.8 512.2 491.2 508.2 491.5 502.4 491.9 509.3 492.2 506.4 492.6 504.6 492.9 505.8 493.3 504.7 493.6 502.6 494.0 505.3 494.3 503.5 494.7 504.0 495.0 502.4 495.4 501.7 495.7 501.5 496.1 499.2 496.4 498.1 496.8 495.4 497.1 488.7 497.5 486.1 497.8 481.8 498.2 477.8 498.5 477.1 498.9 470.4 499.2 465.6 499.6 463.0 499.9 460.7 500.3 456.0 500.6 446.8 501.0 441.3 501.3 436.4 501.7 428.7 502.0 423.4 502.4 416.7 502.7 404.0 503.1 389.5 503.4 377.0 503.8 364.1 504.1 351.3 504.5 335.4 504.8 309.5 505.2 288.5 505.5 257.5 505.9 234.6 506.2 208.0 506.6 198.7 506.9 190.9 507.3 181.6 507.6 174.7 508.0 166.6 508.3 161.5 508.7 154.7 509.0 151.5 509.4 146.1 509.7 154.8 510.1 148.3 510.4 154.5 510.8 158.5 511.1 161.2 511.5 165.6 511.8 177.2 512.2 181.0 512.5 196.7 512.9 213.1 513.2 235.2 513.6 255.9 513.9 276.9 514.3 283.9 514.6 294.5 515.0 335.0 515.3 377.1 515.7 401.4 516.0 417.3 516.4 442.6 516.7 464.0 517.1 471.8 517.4 474.0 517.8 483.1 518.1 484.8 518.5 488.0 518.8 492.4 519.2 496.8 519.5 502.9 519.9 506.5 520.2 508.4 520.6 512.2 520.9 510.5 521.3 513.8 521.6 514.7 522.0 512.4 522.3 516.8 522.7 516.5 523.0 520.0 523.4 518.1 523.7 521.2 524.1 520.9 524.4 518.9 524.8 523.1 525.1 523.2 525.5 523.4 525.8 523.4 526.2 526.6 526.5 524.5 526.9 526.9 527.2 526.8 527.6 526.3 527.9 526.1 528.3 528.0 528.6 527.9 529.0 527.0 529.3 529.4 529.7 530.0 530.0 529.7 530.4 527.8 530.7 531.0 531.1 530.3 531.4 532.0 531.8 530.9 532.1 530.8 532.5 531.7 532.8 532.1 533.2 535.1 533.5 531.5 533.9 531.2 534.2 533.1 534.6 533.4 534.9 531.5 535.3 531.9 535.6 533.1 536.0 534.0 536.3 534.1 536.7 535.6 537.0 534.7 537.4 534.0 537.7 534.9 538.1 535.4 538.4 535.9 538.8 531.9 539.1 535.4 539.5 535.8 539.8 537.2 540.2 535.2 540.5 535.8 540.9 533.8 541.2 536.7 541.6 537.0 541.9 534.9 542.3 536.1 542.6 535.5 543.0 537.3 543.3 535.8 543.7 536.4 544.0 536.5 544.4 535.9 544.7 536.6 545.1 538.3 545.4 536.4 545.8 535.6 546.1 537.9 546.5 538.8 546.8 537.7 547.2 536.7 547.5 536.7 547.9 537.5 548.2 538.0 548.6 540.2 548.9 539.7 549.3 535.7 549.6 537.9 550.0 538.7 550.3 537.9 550.7 537.0 551.0 536.4 551.4 538.0 551.7 538.1 552.1 537.7 552.4 536.3 552.8 535.1 553.1 539.4 553.5 536.3 553.8 537.3 554.2 536.0 554.5 538.7 554.9 537.1 555.2 537.8 555.6 540.7 555.9 539.0 556.3 538.2 556.6 535.8 557.0 539.0 557.3 539.1 557.7 539.3 558.0 538.4 558.4 536.6 558.7 537.5 559.1 539.3 559.4 539.2 559.8 539.0 560.1 541.0 560.5 539.6 560.8 538.6 561.2 538.7 561.5 536.4 561.9 537.9 562.2 539.7 562.6 536.5 562.9 539.0 563.3 539.7 563.6 538.3 564.0 539.4 564.3 537.6 564.7 540.8 565.0 538.3 565.4 536.2 565.7 539.3 566.1 538.3 566.4 540.8 566.8 539.7 567.1 538.5 567.5 540.8 567.8 538.6 568.2 537.5 568.5 540.3 568.9 540.7 569.2 538.8 569.6 540.2 569.9 541.2 570.3 538.3 570.6 535.6 571.0 539.8 571.3 538.9 571.7 540.3 572.0 539.5 572.4 538.7 572.7 538.1 573.1 537.9 573.4 538.6 573.8 538.2 574.1 540.3 574.5 540.2 574.8 538.7 575.2 540.8 575.5 539.0 575.9 538.9 576.2 540.5 576.6 539.8 576.9 538.8 577.3 540.5 577.6 541.5 578.0 538.1 578.3 539.3 578.7 537.2 579.0 539.5 579.4 542.5 579.7 540.0 580.1 539.5 580.4 539.9 580.8 538.6 581.1 540.0 581.5 539.3 581.8 538.9 582.2 540.8 582.5 539.6 582.9 540.1 583.2 539.1 583.6 540.0 583.9 540.5 584.3 539.8 584.6 541.7 585.0 539.9 585.3 540.4 585.7 539.8 586.0 541.1 586.4 539.3 586.7 538.8 587.1 540.0 587.4 539.6 587.8 539.2 588.1 541.8 588.5 539.7 588.8 540.3 589.2 538.6 589.5 539.0 589.9 539.7 590.2 541.7 590.6 539.5 590.9 540.3 591.3 537.7 591.6 539.3 592.0 539.7 592.3 541.0 592.7 540.6 593.0 538.1 593.4 541.2 593.7 540.8 594.1 540.9 594.4 538.7 594.8 542.0 595.1 537.8 595.5 539.9 595.8 540.0 596.2 540.6 596.5 540.2 596.9 539.3 597.2 541.9 597.6 537.7 597.9 539.2 598.3 539.5 598.6 541.2 599.0 540.4 599.3 538.0 599.7 542.5 600.0 539.9 600.4 541.4 600.7 542.4 601.1 539.5 601.4 540.4 601.8 538.3 602.1 539.2 602.5 541.8 602.8 539.7 603.2 541.1 603.5 540.0 603.9 540.8 604.2 540.8 604.6 542.4 604.9 540.7 605.3 540.2 605.6 540.7 606.0 539.3 606.3 538.8 606.7 537.1 607.0 540.8 607.4 540.3 607.7 539.6 608.1 541.1 608.4 540.5 608.8 539.7 609.1 540.9 609.5 540.7 609.8 540.9 610.2 541.4 610.5 540.5 610.9 540.9 611.2 539.9 611.6 538.9 611.9 539.8 612.3 540.1 612.6 538.9 613.0 540.0 613.3 540.4 613.7 539.0 614.0 539.9 614.4 540.3 614.7 540.0 615.1 541.5 615.4 538.8 615.8 542.5 616.1 539.5 616.5 542.1 616.8 540.2 617.2 542.3 617.5 540.0 617.9 539.7 618.2 538.7 618.6 539.4 618.9 540.9 619.3 540.2 619.6 540.3 620.0 540.0 620.3 540.1 620.7 540.9 621.0 540.2 621.4 539.2 621.7 541.4 622.1 540.1 622.4 540.0 622.8 540.3 623.1 539.5 623.5 539.4 623.8 538.9 624.2 541.3 624.5 538.4 624.9 540.4 625.2 538.2 625.6 538.5 625.9 541.3 626.3 540.1 626.6 540.9 627.0 540.2 627.3 540.1 627.7 541.1 628.0 540.5 628.4 541.5 628.7 541.2 629.1 539.1 629.4 538.8 629.8 541.8 630.1 541.5 630.5 539.5 630.8 541.4 631.2 538.9 631.5 538.5 631.9 541.6 632.2 539.9 632.6 538.8 632.9 539.1 633.3 541.7 633.6 542.4 634.0 540.0 634.3 542.4 634.7 539.2 635.0 537.3 635.4 540.2 635.7 541.9 636.1 540.7 636.4 540.0 636.8 541.5 637.1 540.3 637.5 541.0 637.8 539.3 638.2 541.6 638.5 539.7 638.9 540.1 639.2 542.9 639.6 540.9 639.9 542.9 640.3 539.3 640.6 540.9 641.0 541.4 641.3 542.1 641.7 542.6 642.0 541.8 642.4 542.4 642.7 541.4 643.1 542.5 643.4 542.4 643.8 541.9 644.1 542.6 644.5 541.5 644.8 541.3 645.2 540.5 645.5 541.0 645.9 542.0 646.2 539.5 646.6 542.1 646.9 541.1 647.3 542.6 647.6 540.6 648.0 541.8 648.3 540.4 648.7 541.1 649.0 542.1 649.4 543.8 649.7 542.4 650.1 542.0 650.4 540.4 650.8 542.5 651.1 540.9 651.5 543.0 651.8 542.8 652.2 543.1 652.5 539.2 652.9 540.6 653.2 541.1 653.6 541.7 653.9 541.7 654.3 541.8 654.6 542.7 655.0 543.2 655.3 541.7 655.7 540.9 656.0 542.1 656.4 542.4 656.7 542.3 657.1 540.9 657.4 543.0 657.8 542.7 658.1 542.8 658.5 541.1 658.8 543.4 659.2 542.4 659.5 542.9 659.9 542.8 660.2 541.3 660.6 542.3 660.9 543.4 661.3 542.6 661.6 542.9 662.0 541.4 662.3 540.9 662.7 542.4 663.0 539.6 663.4 543.6 663.7 541.6 664.1 544.5 664.4 541.7 664.8 542.4 665.1 541.1 665.5 541.0 665.8 542.9 666.2 543.3 666.5 541.0" stroke="#000000" stroke-width="3.0" fill="none" stroke-linejoin="round"/>
</g>
<g stroke="#1a1a1a" stroke-width="1.3" stroke-dasharray="3.9 2.478" fill="none">
<line x1="307.1" y1="24.1" x2="307.1" y2="645.1"/>
<line x1="484.8" y1="24.1" x2="484.8" y2="645.1"/>
<line x1="509.5" y1="24.1" x2="509.5" y2="645.1"/>
</g>
<g stroke="#000" stroke-width="2.3"><line x1="60.5" y1="676.5" x2="60.5" y2="694"/><line x1="147.1" y1="676.5" x2="147.1" y2="694"/><line x1="233.8" y1="676.5" x2="233.8" y2="694"/><line x1="320.4" y1="676.5" x2="320.4" y2="694"/><line x1="407.1" y1="676.5" x2="407.1" y2="694"/><line x1="493.7" y1="676.5" x2="493.7" y2="694"/><line x1="580.4" y1="676.5" x2="580.4" y2="694"/><line x1="667.0" y1="676.5" x2="667.0" y2="694"/></g>
<g font-size="25" text-anchor="middle" fill="#000" stroke="#000" stroke-width="0.5"><text x="60.5" y="724.8" textLength="13.9" lengthAdjust="spacingAndGlyphs">5</text><text x="145.8" y="724.8" textLength="28.7" lengthAdjust="spacingAndGlyphs">10</text><text x="233.8" y="724.8" textLength="28.7" lengthAdjust="spacingAndGlyphs">15</text><text x="320.4" y="724.8" textLength="28.7" lengthAdjust="spacingAndGlyphs">20</text><text x="407.1" y="724.8" textLength="28.7" lengthAdjust="spacingAndGlyphs">25</text><text x="493.7" y="724.8" textLength="28.7" lengthAdjust="spacingAndGlyphs">30</text><text x="580.4" y="724.8" textLength="28.7" lengthAdjust="spacingAndGlyphs">35</text><text x="668.3" y="724.8" textLength="29.8" lengthAdjust="spacingAndGlyphs">40</text></g>
<text x="363.9" y="753.9" font-size="26" text-anchor="middle" stroke="#000" stroke-width="0.3">Angle (2θ)</text>
<text transform="translate(29.8 468.2) rotate(-90)" font-size="25.6" stroke="#000" stroke-width="0.5">Intensity (arbitrary units)</text>
<g font-size="29.3" stroke-width="0.45"><line x1="75.2" y1="255.8" x2="128.6" y2="255.8" stroke="#ff0000" stroke-width="3.6"/><text x="141.8" y="266.7" fill="#ff0000" stroke="#ff0000">PLA</text><line x1="75.2" y1="299.4" x2="128.6" y2="299.4" stroke="#ffc000" stroke-width="3.6"/><text x="141.8" y="311.0" fill="#ffc000" stroke="#ffc000">PSG-0.5</text><line x1="75.2" y1="344.4" x2="128.6" y2="344.4" stroke="#70ad47" stroke-width="3.6"/><text x="141.8" y="355.1" fill="#70ad47" stroke="#70ad47">PSG-1</text><line x1="75.2" y1="387.9" x2="128.6" y2="387.9" stroke="#7030a0" stroke-width="3.6"/><text x="141.8" y="399.0" fill="#7030a0" stroke="#7030a0">PSG-2</text><line x1="75.2" y1="431.5" x2="128.6" y2="431.5" stroke="#000000" stroke-width="3.6"/><text x="141.8" y="442.4" fill="#000000" stroke="#000000">PSG-5</text></g>
<g font-size="21.8" fill="#0d2266" stroke="#0d2266" stroke-width="0.45" text-anchor="middle">
<text x="115.1" y="193.6">Raw PLA</text>
<text x="366.75" y="67.9">Raw SCF</text>
<text x="376" y="153.5">Raw GNP</text>
</g>
<g fill="#000" stroke="#000" stroke-width="0.45">
<text transform="translate(293 386.4) rotate(-90)" font-size="22.2">PLA (200/110)</text>
<text transform="translate(474.6 423.9) rotate(-90)" font-size="22.3">Carbon fibers (002)</text>
<text transform="translate(535.4 338.5) rotate(-90)" font-size="22.2">Graphene</text>
</g>
</svg>
</body></html>
